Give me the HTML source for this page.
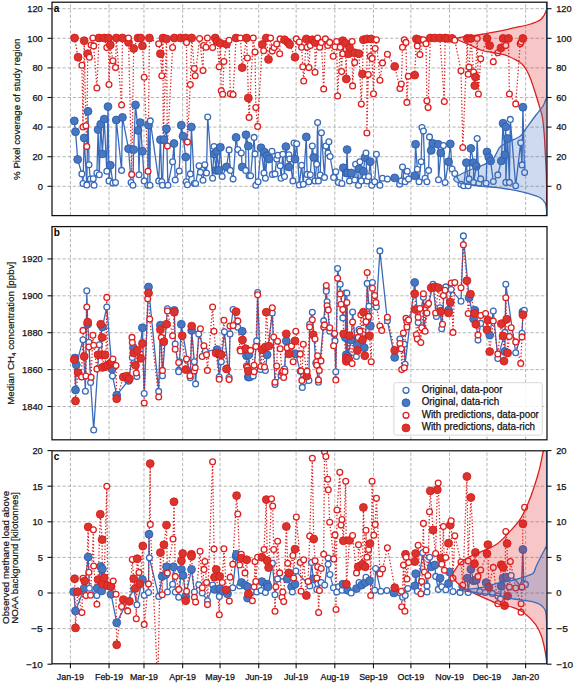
<!DOCTYPE html>
<html><head><meta charset="utf-8"><style>html,body{margin:0;padding:0;background:#fff}svg{display:block}</style></head>
<body><svg width="575" height="683" viewBox="0 0 575 683">
<style>
.g{stroke:#a9a9a9;stroke-width:0.85;stroke-dasharray:3.3 1.9;fill:none}
.fr{fill:none;stroke:#111;stroke-width:1.25}
.tk{stroke:#111;stroke-width:1.1}
.tl{font-family:"Liberation Sans",sans-serif;font-size:9.3px;fill:#111;stroke:#111;stroke-width:0.25}
.pl{font-family:"Liberation Sans",sans-serif;font-size:10px;font-weight:bold;fill:#000}
.al{font-family:"Liberation Sans",sans-serif;font-size:10px;fill:#111;stroke:#111;stroke-width:0.2}
.ml{font-family:"Liberation Sans",sans-serif;font-size:8.9px;fill:#111;stroke:#111;stroke-width:0.25}
.lg{font-family:"Liberation Sans",sans-serif;font-size:10.2px;fill:#111;stroke:#111;stroke-width:0.25}
</style>
<rect width="575" height="683" fill="#fff"/>
<line x1="70.40" y1="215.6" x2="70.40" y2="2.2" class="g"/>
<line x1="109.06" y1="215.6" x2="109.06" y2="2.2" class="g"/>
<line x1="143.98" y1="215.6" x2="143.98" y2="2.2" class="g"/>
<line x1="182.65" y1="215.6" x2="182.65" y2="2.2" class="g"/>
<line x1="220.06" y1="215.6" x2="220.06" y2="2.2" class="g"/>
<line x1="258.73" y1="215.6" x2="258.73" y2="2.2" class="g"/>
<line x1="296.14" y1="215.6" x2="296.14" y2="2.2" class="g"/>
<line x1="334.81" y1="215.6" x2="334.81" y2="2.2" class="g"/>
<line x1="373.47" y1="215.6" x2="373.47" y2="2.2" class="g"/>
<line x1="410.89" y1="215.6" x2="410.89" y2="2.2" class="g"/>
<line x1="449.55" y1="215.6" x2="449.55" y2="2.2" class="g"/>
<line x1="486.96" y1="215.6" x2="486.96" y2="2.2" class="g"/>
<line x1="525.63" y1="215.6" x2="525.63" y2="2.2" class="g"/>
<line x1="52.0" y1="186.30" x2="547.0" y2="186.30" class="g"/>
<line x1="52.0" y1="156.70" x2="547.0" y2="156.70" class="g"/>
<line x1="52.0" y1="127.10" x2="547.0" y2="127.10" class="g"/>
<line x1="52.0" y1="97.50" x2="547.0" y2="97.50" class="g"/>
<line x1="52.0" y1="67.90" x2="547.0" y2="67.90" class="g"/>
<line x1="52.0" y1="38.30" x2="547.0" y2="38.30" class="g"/>
<line x1="52.0" y1="8.70" x2="547.0" y2="8.70" class="g"/>
<line x1="70.40" y1="439.8" x2="70.40" y2="226.6" class="g"/>
<line x1="109.06" y1="439.8" x2="109.06" y2="226.6" class="g"/>
<line x1="143.98" y1="439.8" x2="143.98" y2="226.6" class="g"/>
<line x1="182.65" y1="439.8" x2="182.65" y2="226.6" class="g"/>
<line x1="220.06" y1="439.8" x2="220.06" y2="226.6" class="g"/>
<line x1="258.73" y1="439.8" x2="258.73" y2="226.6" class="g"/>
<line x1="296.14" y1="439.8" x2="296.14" y2="226.6" class="g"/>
<line x1="334.81" y1="439.8" x2="334.81" y2="226.6" class="g"/>
<line x1="373.47" y1="439.8" x2="373.47" y2="226.6" class="g"/>
<line x1="410.89" y1="439.8" x2="410.89" y2="226.6" class="g"/>
<line x1="449.55" y1="439.8" x2="449.55" y2="226.6" class="g"/>
<line x1="486.96" y1="439.8" x2="486.96" y2="226.6" class="g"/>
<line x1="525.63" y1="439.8" x2="525.63" y2="226.6" class="g"/>
<line x1="52.0" y1="406.50" x2="547.0" y2="406.50" class="g"/>
<line x1="52.0" y1="369.60" x2="547.0" y2="369.60" class="g"/>
<line x1="52.0" y1="332.70" x2="547.0" y2="332.70" class="g"/>
<line x1="52.0" y1="295.80" x2="547.0" y2="295.80" class="g"/>
<line x1="52.0" y1="258.90" x2="547.0" y2="258.90" class="g"/>
<line x1="70.40" y1="663.8" x2="70.40" y2="450.8" class="g"/>
<line x1="109.06" y1="663.8" x2="109.06" y2="450.8" class="g"/>
<line x1="143.98" y1="663.8" x2="143.98" y2="450.8" class="g"/>
<line x1="182.65" y1="663.8" x2="182.65" y2="450.8" class="g"/>
<line x1="220.06" y1="663.8" x2="220.06" y2="450.8" class="g"/>
<line x1="258.73" y1="663.8" x2="258.73" y2="450.8" class="g"/>
<line x1="296.14" y1="663.8" x2="296.14" y2="450.8" class="g"/>
<line x1="334.81" y1="663.8" x2="334.81" y2="450.8" class="g"/>
<line x1="373.47" y1="663.8" x2="373.47" y2="450.8" class="g"/>
<line x1="410.89" y1="663.8" x2="410.89" y2="450.8" class="g"/>
<line x1="449.55" y1="663.8" x2="449.55" y2="450.8" class="g"/>
<line x1="486.96" y1="663.8" x2="486.96" y2="450.8" class="g"/>
<line x1="525.63" y1="663.8" x2="525.63" y2="450.8" class="g"/>
<line x1="52.0" y1="628.60" x2="547.0" y2="628.60" class="g"/>
<line x1="52.0" y1="593.00" x2="547.0" y2="593.00" class="g"/>
<line x1="52.0" y1="557.40" x2="547.0" y2="557.40" class="g"/>
<line x1="52.0" y1="521.80" x2="547.0" y2="521.80" class="g"/>
<line x1="52.0" y1="486.20" x2="547.0" y2="486.20" class="g"/>
<clipPath id="ca"><rect x="52" y="2.2" width="495" height="213.4"/></clipPath>
<g clip-path="url(#ca)">
<path d="M74.6,38.0 L78.1,57.2 L81.9,65.3 L83.0,127.0 L84.2,40.7 L85.9,125.7 L86.8,146.6 L87.7,53.7 L89.4,57.2 L91.1,45.0 L92.9,38.0 L93.7,45.9 L96.9,88.0 L99.0,38.0 L104.2,38.0 L106.8,47.6 L108.5,38.0 L109.0,84.5 L110.3,45.0 L112.9,60.7 L115.5,67.6 L116.3,38.0 L121.6,105.0 L122.4,38.0 L128.5,42.4 L128.5,38.0 L131.7,174.4 L133.7,48.5 L138.0,38.0 L140.7,38.0 L142.4,45.9 L144.2,77.2 L148.0,171.3 L149.4,38.0 L158.7,43.8 L160.4,53.7 L161.8,75.8 L163.0,38.0 L163.2,139.6 L166.5,38.9 L167.4,146.1 L172.6,47.6 L174.3,38.0 L180.4,38.0 L185.7,38.0 L186.5,42.4 L187.4,142.1 L190.3,84.5 L191.7,38.0 L194.3,68.5 L195.2,75.8 L199.6,38.6 L203.0,70.6 L203.6,45.5 L206.0,47.3 L207.4,38.0 L212.6,47.6 L215.2,38.0 L217.0,41.5 L219.2,66.7 L220.4,43.3 L221.3,90.7 L222.7,94.2 L223.9,61.5 L226.5,44.1 L229.1,40.3 L230.3,93.7 L233.1,94.6 L236.1,38.0 L240.4,38.0 L242.2,67.6 L246.5,38.0 L247.4,58.0 L248.3,98.0 L249.1,117.4 L253.2,38.0 L255.0,52.0 L255.8,107.6 L257.6,126.4 L262.3,44.5 L263.7,50.7 L266.3,38.0 L268.5,59.4 L270.6,38.0 L272.3,51.1 L274.1,47.6 L276.7,44.1 L279.7,53.7 L280.2,38.9 L284.5,39.8 L288.0,42.4 L289.7,44.5 L295.0,57.2 L296.3,38.9 L299.3,42.0 L301.6,47.3 L302.8,66.7 L303.7,81.0 L306.3,38.9 L307.1,47.3 L308.9,67.6 L310.3,45.5 L312.3,39.8 L315.0,42.4 L315.0,72.3 L317.6,38.0 L319.7,47.3 L321.4,42.4 L323.7,89.0 L325.4,38.9 L327.7,45.5 L329.7,42.4 L333.2,56.3 L335.0,46.7 L336.7,41.5 L337.6,96.0 L340.2,47.3 L341.6,71.6 L342.8,40.7 L342.8,53.7 L345.4,43.3 L346.3,78.9 L346.3,49.3 L348.6,53.7 L349.5,47.6 L352.1,41.5 L352.6,85.9 L354.7,52.8 L354.7,62.4 L359.0,53.7 L361.3,104.1 L362.5,74.0 L363.4,39.8 L366.9,38.9 L366.9,133.0 L368.3,74.6 L370.3,56.3 L371.2,38.9 L372.1,58.4 L373.5,93.7 L375.2,48.5 L376.4,39.8 L379.9,80.3 L382.5,62.9 L387.4,54.2 L394.7,66.4 L399.9,88.5 L401.3,84.1 L402.5,47.3 L404.3,39.8 L406.0,42.4 L406.9,102.4 L408.3,76.3 L414.7,75.1 L416.4,38.9 L417.3,45.9 L419.0,39.8 L419.9,54.6 L423.4,39.8 L426.0,43.8 L426.9,100.7 L428.1,107.6 L430.3,38.0 L434.7,38.0 L439.9,38.0 L444.3,101.5 L445.1,38.0 L447.6,38.4 L452.1,38.4 L454.8,40.2 L461.0,70.7 L462.8,147.5 L467.3,38.4 L468.2,74.3 L469.1,67.1 L470.9,38.4 L473.6,72.0 L474.8,85.6 L475.4,77.0 L477.2,38.4 L478.4,94.0 L480.7,58.7 L487.0,38.4 L489.7,45.6 L493.3,61.7 L497.8,52.8 L501.0,47.9 L503.1,38.4 L505.8,45.6 L508.5,38.4 L509.4,94.0 L515.7,103.9 L520.2,43.8 L521.1,42.0 L522.9,38.4" fill="none" stroke="#df1f1f" stroke-width="1.3" stroke-dasharray="1.3 2"/>
<path d="M74.3,120.9 L75.5,131.8 L77.7,159.5 L81.9,173.9 L83.0,183.5 L84.2,137.9 L86.8,184.9 L88.0,111.3 L89.0,164.7 L90.3,179.1 L93.2,178.8 L94.1,185.2 L96.9,173.0 L98.1,129.6 L99.3,174.8 L100.7,124.3 L102.4,153.9 L104.2,119.1 L106.8,171.3 L108.0,106.6 L109.0,180.9 L110.3,165.2 L112.9,183.1 L115.5,182.6 L116.3,120.0 L121.6,170.4 L122.4,117.4 L128.5,148.7 L131.1,182.6 L132.9,185.2 L133.7,149.6 L135.5,104.9 L138.1,130.4 L139.0,174.8 L140.3,122.6 L142.4,151.3 L144.2,180.9 L147.7,185.2 L148.5,125.2 L150.0,185.2 L150.3,120.9 L158.7,180.9 L160.4,139.7 L161.8,181.7 L162.5,185.2 L163.9,139.7 L166.5,128.7 L167.9,185.2 L172.6,161.7 L174.0,143.5 L175.2,180.0 L179.2,171.0 L181.3,125.2 L183.0,136.2 L185.7,157.0 L186.2,181.7 L187.4,184.7 L190.3,173.9 L191.4,127.0 L194.3,183.5 L195.6,183.5 L199.0,165.7 L200.4,172.2 L203.0,180.3 L204.8,164.7 L206.5,173.0 L207.7,117.0 L212.6,178.3 L214.0,146.6 L214.3,153.9 L216.1,170.4 L217.0,151.3 L218.7,170.4 L220.4,147.3 L222.2,176.5 L226.5,167.0 L229.1,149.9 L230.3,170.4 L233.1,179.1 L236.1,137.4 L237.8,149.6 L241.3,153.0 L242.2,167.0 L245.7,170.4 L246.0,134.8 L248.3,146.0 L249.1,175.7 L250.6,175.7 L254.1,137.4 L255.0,153.9 L255.8,185.2 L258.1,181.7 L261.0,147.8 L264.0,173.0 L264.5,152.2 L265.4,178.3 L267.1,155.7 L268.9,159.1 L272.0,151.3 L272.3,174.4 L275.0,173.9 L276.7,159.1 L277.9,155.3 L280.2,165.7 L281.0,178.3 L282.8,154.3 L284.5,176.5 L285.9,146.6 L288.9,167.0 L288.9,154.8 L289.7,159.1 L292.9,180.9 L294.1,143.1 L295.0,159.1 L296.7,143.8 L299.3,184.9 L301.6,165.2 L303.3,184.3 L306.3,136.9 L307.1,174.4 L308.9,181.7 L310.3,174.8 L312.3,146.1 L313.7,157.4 L315.0,180.9 L316.7,164.3 L317.6,122.6 L318.4,180.9 L320.2,175.1 L321.4,132.7 L324.5,177.4 L325.9,146.1 L328.0,153.0 L328.9,141.7 L330.1,156.5 L333.6,177.4 L335.8,171.7 L338.4,182.6 L341.9,183.5 L343.3,167.8 L346.3,173.0 L347.1,149.6 L347.7,173.0 L349.5,180.9 L351.2,173.0 L354.7,180.0 L355.6,164.3 L358.5,185.2 L359.0,168.7 L359.9,161.7 L361.3,180.9 L363.4,171.3 L365.1,157.4 L366.0,153.0 L366.9,180.9 L368.6,176.5 L370.3,161.7 L371.7,185.2 L374.7,181.7 L376.4,154.3 L379.9,185.2 L382.5,178.3 L387.4,179.1 L394.7,177.9 L399.6,184.3 L401.3,180.9 L402.5,167.0 L405.1,181.7 L406.0,175.7 L407.2,171.3 L408.6,179.1 L414.7,175.7 L415.6,144.3 L417.3,169.2 L419.0,181.7 L421.1,161.7 L422.0,127.5 L423.4,131.0 L425.1,178.3 L426.9,181.7 L428.6,170.4 L429.5,136.9 L431.2,150.4 L433.0,143.5 L438.2,144.3 L438.5,179.7 L440.8,153.0 L443.4,145.6 L445.1,182.6 L448.5,161.8 L450.3,143.9 L452.1,169.0 L454.8,173.5 L461.0,184.2 L463.7,185.7 L466.4,162.7 L468.2,185.7 L469.1,178.9 L470.9,148.4 L473.6,162.7 L473.6,182.4 L476.3,166.3 L477.2,138.5 L478.9,183.3 L480.7,178.9 L486.1,183.3 L487.0,152.0 L488.8,157.3 L490.6,160.9 L493.3,181.5 L497.8,174.9 L501.3,160.9 L503.1,123.3 L504.9,154.7 L505.8,126.9 L505.8,182.4 L507.6,138.5 L509.4,182.4 L510.3,119.4 L515.7,185.7 L520.7,142.7 L522.0,164.9 L522.9,107.2 L524.6,172.6" fill="none" stroke="#3a6bbb" stroke-width="1.3" stroke-linejoin="round"/>
<circle cx="74.6" cy="38.0" r="3.95" fill="#d8352e" stroke="#de1a1a" stroke-width="0.9"/>
<circle cx="78.1" cy="57.2" r="3.95" fill="#d8352e" stroke="#de1a1a" stroke-width="0.9"/>
<circle cx="81.9" cy="65.3" r="2.9" fill="#fff" stroke="#df1f1f" stroke-width="1.3"/>
<circle cx="83.0" cy="127.0" r="2.9" fill="#fff" stroke="#df1f1f" stroke-width="1.3"/>
<circle cx="84.2" cy="40.7" r="3.95" fill="#d8352e" stroke="#de1a1a" stroke-width="0.9"/>
<circle cx="85.9" cy="125.7" r="2.9" fill="#fff" stroke="#df1f1f" stroke-width="1.3"/>
<circle cx="86.8" cy="146.6" r="2.9" fill="#fff" stroke="#df1f1f" stroke-width="1.3"/>
<circle cx="87.7" cy="53.7" r="3.95" fill="#d8352e" stroke="#de1a1a" stroke-width="0.9"/>
<circle cx="89.4" cy="57.2" r="2.9" fill="#fff" stroke="#df1f1f" stroke-width="1.3"/>
<circle cx="91.1" cy="45.0" r="2.9" fill="#fff" stroke="#df1f1f" stroke-width="1.3"/>
<circle cx="92.9" cy="38.0" r="2.9" fill="#fff" stroke="#df1f1f" stroke-width="1.3"/>
<circle cx="93.7" cy="45.9" r="2.9" fill="#fff" stroke="#df1f1f" stroke-width="1.3"/>
<circle cx="96.9" cy="88.0" r="2.9" fill="#fff" stroke="#df1f1f" stroke-width="1.3"/>
<circle cx="99.0" cy="38.0" r="3.95" fill="#d8352e" stroke="#de1a1a" stroke-width="0.9"/>
<circle cx="104.2" cy="38.0" r="3.95" fill="#d8352e" stroke="#de1a1a" stroke-width="0.9"/>
<circle cx="106.8" cy="47.6" r="2.9" fill="#fff" stroke="#df1f1f" stroke-width="1.3"/>
<circle cx="108.5" cy="38.0" r="3.95" fill="#d8352e" stroke="#de1a1a" stroke-width="0.9"/>
<circle cx="109.0" cy="84.5" r="2.9" fill="#fff" stroke="#df1f1f" stroke-width="1.3"/>
<circle cx="110.3" cy="45.0" r="3.95" fill="#d8352e" stroke="#de1a1a" stroke-width="0.9"/>
<circle cx="112.9" cy="60.7" r="2.9" fill="#fff" stroke="#df1f1f" stroke-width="1.3"/>
<circle cx="115.5" cy="67.6" r="2.9" fill="#fff" stroke="#df1f1f" stroke-width="1.3"/>
<circle cx="116.3" cy="38.0" r="3.95" fill="#d8352e" stroke="#de1a1a" stroke-width="0.9"/>
<circle cx="121.6" cy="105.0" r="2.9" fill="#fff" stroke="#df1f1f" stroke-width="1.3"/>
<circle cx="122.4" cy="38.0" r="3.95" fill="#d8352e" stroke="#de1a1a" stroke-width="0.9"/>
<circle cx="128.5" cy="42.4" r="3.95" fill="#d8352e" stroke="#de1a1a" stroke-width="0.9"/>
<circle cx="128.5" cy="38.0" r="2.9" fill="#fff" stroke="#df1f1f" stroke-width="1.3"/>
<circle cx="131.7" cy="174.4" r="2.9" fill="#fff" stroke="#df1f1f" stroke-width="1.3"/>
<circle cx="133.7" cy="48.5" r="3.95" fill="#d8352e" stroke="#de1a1a" stroke-width="0.9"/>
<circle cx="138.0" cy="38.0" r="3.95" fill="#d8352e" stroke="#de1a1a" stroke-width="0.9"/>
<circle cx="140.7" cy="38.0" r="3.95" fill="#d8352e" stroke="#de1a1a" stroke-width="0.9"/>
<circle cx="142.4" cy="45.9" r="3.95" fill="#d8352e" stroke="#de1a1a" stroke-width="0.9"/>
<circle cx="144.2" cy="77.2" r="2.9" fill="#fff" stroke="#df1f1f" stroke-width="1.3"/>
<circle cx="148.0" cy="171.3" r="2.9" fill="#fff" stroke="#df1f1f" stroke-width="1.3"/>
<circle cx="149.4" cy="38.0" r="3.95" fill="#d8352e" stroke="#de1a1a" stroke-width="0.9"/>
<circle cx="158.7" cy="43.8" r="2.9" fill="#fff" stroke="#df1f1f" stroke-width="1.3"/>
<circle cx="160.4" cy="53.7" r="3.95" fill="#d8352e" stroke="#de1a1a" stroke-width="0.9"/>
<circle cx="161.8" cy="75.8" r="2.9" fill="#fff" stroke="#df1f1f" stroke-width="1.3"/>
<circle cx="163.0" cy="38.0" r="3.95" fill="#d8352e" stroke="#de1a1a" stroke-width="0.9"/>
<circle cx="163.2" cy="139.6" r="2.9" fill="#fff" stroke="#df1f1f" stroke-width="1.3"/>
<circle cx="166.5" cy="38.9" r="3.95" fill="#d8352e" stroke="#de1a1a" stroke-width="0.9"/>
<circle cx="167.4" cy="146.1" r="2.9" fill="#fff" stroke="#df1f1f" stroke-width="1.3"/>
<circle cx="172.6" cy="47.6" r="2.9" fill="#fff" stroke="#df1f1f" stroke-width="1.3"/>
<circle cx="174.3" cy="38.0" r="3.95" fill="#d8352e" stroke="#de1a1a" stroke-width="0.9"/>
<circle cx="180.4" cy="38.0" r="3.95" fill="#d8352e" stroke="#de1a1a" stroke-width="0.9"/>
<circle cx="185.7" cy="38.0" r="3.95" fill="#d8352e" stroke="#de1a1a" stroke-width="0.9"/>
<circle cx="186.5" cy="42.4" r="2.9" fill="#fff" stroke="#df1f1f" stroke-width="1.3"/>
<circle cx="187.4" cy="142.1" r="2.9" fill="#fff" stroke="#df1f1f" stroke-width="1.3"/>
<circle cx="190.3" cy="84.5" r="2.9" fill="#fff" stroke="#df1f1f" stroke-width="1.3"/>
<circle cx="191.7" cy="38.0" r="3.95" fill="#d8352e" stroke="#de1a1a" stroke-width="0.9"/>
<circle cx="194.3" cy="68.5" r="2.9" fill="#fff" stroke="#df1f1f" stroke-width="1.3"/>
<circle cx="195.2" cy="75.8" r="2.9" fill="#fff" stroke="#df1f1f" stroke-width="1.3"/>
<circle cx="199.6" cy="38.6" r="2.9" fill="#fff" stroke="#df1f1f" stroke-width="1.3"/>
<circle cx="203.0" cy="70.6" r="2.9" fill="#fff" stroke="#df1f1f" stroke-width="1.3"/>
<circle cx="203.6" cy="45.5" r="2.9" fill="#fff" stroke="#df1f1f" stroke-width="1.3"/>
<circle cx="206.0" cy="47.3" r="2.9" fill="#fff" stroke="#df1f1f" stroke-width="1.3"/>
<circle cx="207.4" cy="38.0" r="2.9" fill="#fff" stroke="#df1f1f" stroke-width="1.3"/>
<circle cx="212.6" cy="47.6" r="2.9" fill="#fff" stroke="#df1f1f" stroke-width="1.3"/>
<circle cx="215.2" cy="38.0" r="3.95" fill="#d8352e" stroke="#de1a1a" stroke-width="0.9"/>
<circle cx="217.0" cy="41.5" r="3.95" fill="#d8352e" stroke="#de1a1a" stroke-width="0.9"/>
<circle cx="219.2" cy="66.7" r="2.9" fill="#fff" stroke="#df1f1f" stroke-width="1.3"/>
<circle cx="220.4" cy="43.3" r="3.95" fill="#d8352e" stroke="#de1a1a" stroke-width="0.9"/>
<circle cx="221.3" cy="90.7" r="2.9" fill="#fff" stroke="#df1f1f" stroke-width="1.3"/>
<circle cx="222.7" cy="94.2" r="2.9" fill="#fff" stroke="#df1f1f" stroke-width="1.3"/>
<circle cx="223.9" cy="61.5" r="2.9" fill="#fff" stroke="#df1f1f" stroke-width="1.3"/>
<circle cx="226.5" cy="44.1" r="3.95" fill="#d8352e" stroke="#de1a1a" stroke-width="0.9"/>
<circle cx="229.1" cy="40.3" r="2.9" fill="#fff" stroke="#df1f1f" stroke-width="1.3"/>
<circle cx="230.3" cy="93.7" r="2.9" fill="#fff" stroke="#df1f1f" stroke-width="1.3"/>
<circle cx="233.1" cy="94.6" r="2.9" fill="#fff" stroke="#df1f1f" stroke-width="1.3"/>
<circle cx="236.1" cy="38.0" r="3.95" fill="#d8352e" stroke="#de1a1a" stroke-width="0.9"/>
<circle cx="240.4" cy="38.0" r="2.9" fill="#fff" stroke="#df1f1f" stroke-width="1.3"/>
<circle cx="242.2" cy="67.6" r="3.95" fill="#d8352e" stroke="#de1a1a" stroke-width="0.9"/>
<circle cx="246.5" cy="38.0" r="3.95" fill="#d8352e" stroke="#de1a1a" stroke-width="0.9"/>
<circle cx="247.4" cy="58.0" r="2.9" fill="#fff" stroke="#df1f1f" stroke-width="1.3"/>
<circle cx="248.3" cy="98.0" r="3.95" fill="#d8352e" stroke="#de1a1a" stroke-width="0.9"/>
<circle cx="249.1" cy="117.4" r="2.9" fill="#fff" stroke="#df1f1f" stroke-width="1.3"/>
<circle cx="253.2" cy="38.0" r="2.9" fill="#fff" stroke="#df1f1f" stroke-width="1.3"/>
<circle cx="255.0" cy="52.0" r="2.9" fill="#fff" stroke="#df1f1f" stroke-width="1.3"/>
<circle cx="255.8" cy="107.6" r="2.9" fill="#fff" stroke="#df1f1f" stroke-width="1.3"/>
<circle cx="257.6" cy="126.4" r="2.9" fill="#fff" stroke="#df1f1f" stroke-width="1.3"/>
<circle cx="262.3" cy="44.5" r="3.95" fill="#d8352e" stroke="#de1a1a" stroke-width="0.9"/>
<circle cx="263.7" cy="50.7" r="2.9" fill="#fff" stroke="#df1f1f" stroke-width="1.3"/>
<circle cx="266.3" cy="38.0" r="3.95" fill="#d8352e" stroke="#de1a1a" stroke-width="0.9"/>
<circle cx="268.5" cy="59.4" r="3.95" fill="#d8352e" stroke="#de1a1a" stroke-width="0.9"/>
<circle cx="270.6" cy="38.0" r="2.9" fill="#fff" stroke="#df1f1f" stroke-width="1.3"/>
<circle cx="272.3" cy="51.1" r="2.9" fill="#fff" stroke="#df1f1f" stroke-width="1.3"/>
<circle cx="274.1" cy="47.6" r="2.9" fill="#fff" stroke="#df1f1f" stroke-width="1.3"/>
<circle cx="276.7" cy="44.1" r="2.9" fill="#fff" stroke="#df1f1f" stroke-width="1.3"/>
<circle cx="279.7" cy="53.7" r="2.9" fill="#fff" stroke="#df1f1f" stroke-width="1.3"/>
<circle cx="280.2" cy="38.9" r="2.9" fill="#fff" stroke="#df1f1f" stroke-width="1.3"/>
<circle cx="284.5" cy="39.8" r="3.95" fill="#d8352e" stroke="#de1a1a" stroke-width="0.9"/>
<circle cx="288.0" cy="42.4" r="3.95" fill="#d8352e" stroke="#de1a1a" stroke-width="0.9"/>
<circle cx="289.7" cy="44.5" r="3.95" fill="#d8352e" stroke="#de1a1a" stroke-width="0.9"/>
<circle cx="295.0" cy="57.2" r="3.95" fill="#d8352e" stroke="#de1a1a" stroke-width="0.9"/>
<circle cx="296.3" cy="38.9" r="2.9" fill="#fff" stroke="#df1f1f" stroke-width="1.3"/>
<circle cx="299.3" cy="42.0" r="2.9" fill="#fff" stroke="#df1f1f" stroke-width="1.3"/>
<circle cx="301.6" cy="47.3" r="2.9" fill="#fff" stroke="#df1f1f" stroke-width="1.3"/>
<circle cx="302.8" cy="66.7" r="2.9" fill="#fff" stroke="#df1f1f" stroke-width="1.3"/>
<circle cx="303.7" cy="81.0" r="2.9" fill="#fff" stroke="#df1f1f" stroke-width="1.3"/>
<circle cx="306.3" cy="38.9" r="3.95" fill="#d8352e" stroke="#de1a1a" stroke-width="0.9"/>
<circle cx="307.1" cy="47.3" r="2.9" fill="#fff" stroke="#df1f1f" stroke-width="1.3"/>
<circle cx="308.9" cy="67.6" r="2.9" fill="#fff" stroke="#df1f1f" stroke-width="1.3"/>
<circle cx="310.3" cy="45.5" r="2.9" fill="#fff" stroke="#df1f1f" stroke-width="1.3"/>
<circle cx="312.3" cy="39.8" r="3.95" fill="#d8352e" stroke="#de1a1a" stroke-width="0.9"/>
<circle cx="315.0" cy="42.4" r="3.95" fill="#d8352e" stroke="#de1a1a" stroke-width="0.9"/>
<circle cx="315.0" cy="72.3" r="2.9" fill="#fff" stroke="#df1f1f" stroke-width="1.3"/>
<circle cx="317.6" cy="38.0" r="2.9" fill="#fff" stroke="#df1f1f" stroke-width="1.3"/>
<circle cx="319.7" cy="47.3" r="2.9" fill="#fff" stroke="#df1f1f" stroke-width="1.3"/>
<circle cx="321.4" cy="42.4" r="2.9" fill="#fff" stroke="#df1f1f" stroke-width="1.3"/>
<circle cx="323.7" cy="89.0" r="2.9" fill="#fff" stroke="#df1f1f" stroke-width="1.3"/>
<circle cx="325.4" cy="38.9" r="2.9" fill="#fff" stroke="#df1f1f" stroke-width="1.3"/>
<circle cx="327.7" cy="45.5" r="2.9" fill="#fff" stroke="#df1f1f" stroke-width="1.3"/>
<circle cx="329.7" cy="42.4" r="2.9" fill="#fff" stroke="#df1f1f" stroke-width="1.3"/>
<circle cx="333.2" cy="56.3" r="2.9" fill="#fff" stroke="#df1f1f" stroke-width="1.3"/>
<circle cx="335.0" cy="46.7" r="2.9" fill="#fff" stroke="#df1f1f" stroke-width="1.3"/>
<circle cx="336.7" cy="41.5" r="2.9" fill="#fff" stroke="#df1f1f" stroke-width="1.3"/>
<circle cx="337.6" cy="96.0" r="2.9" fill="#fff" stroke="#df1f1f" stroke-width="1.3"/>
<circle cx="340.2" cy="47.3" r="2.9" fill="#fff" stroke="#df1f1f" stroke-width="1.3"/>
<circle cx="341.6" cy="71.6" r="2.9" fill="#fff" stroke="#df1f1f" stroke-width="1.3"/>
<circle cx="342.8" cy="40.7" r="3.95" fill="#d8352e" stroke="#de1a1a" stroke-width="0.9"/>
<circle cx="342.8" cy="53.7" r="2.9" fill="#fff" stroke="#df1f1f" stroke-width="1.3"/>
<circle cx="345.4" cy="43.3" r="3.95" fill="#d8352e" stroke="#de1a1a" stroke-width="0.9"/>
<circle cx="346.3" cy="78.9" r="3.95" fill="#d8352e" stroke="#de1a1a" stroke-width="0.9"/>
<circle cx="346.3" cy="49.3" r="2.9" fill="#fff" stroke="#df1f1f" stroke-width="1.3"/>
<circle cx="348.6" cy="53.7" r="3.95" fill="#d8352e" stroke="#de1a1a" stroke-width="0.9"/>
<circle cx="349.5" cy="47.6" r="3.95" fill="#d8352e" stroke="#de1a1a" stroke-width="0.9"/>
<circle cx="352.1" cy="41.5" r="2.9" fill="#fff" stroke="#df1f1f" stroke-width="1.3"/>
<circle cx="352.6" cy="85.9" r="2.9" fill="#fff" stroke="#df1f1f" stroke-width="1.3"/>
<circle cx="354.7" cy="52.8" r="3.95" fill="#d8352e" stroke="#de1a1a" stroke-width="0.9"/>
<circle cx="354.7" cy="62.4" r="2.9" fill="#fff" stroke="#df1f1f" stroke-width="1.3"/>
<circle cx="359.0" cy="53.7" r="3.95" fill="#d8352e" stroke="#de1a1a" stroke-width="0.9"/>
<circle cx="361.3" cy="104.1" r="2.9" fill="#fff" stroke="#df1f1f" stroke-width="1.3"/>
<circle cx="362.5" cy="74.0" r="3.95" fill="#d8352e" stroke="#de1a1a" stroke-width="0.9"/>
<circle cx="363.4" cy="39.8" r="3.95" fill="#d8352e" stroke="#de1a1a" stroke-width="0.9"/>
<circle cx="366.9" cy="38.9" r="3.95" fill="#d8352e" stroke="#de1a1a" stroke-width="0.9"/>
<circle cx="366.9" cy="133.0" r="2.9" fill="#fff" stroke="#df1f1f" stroke-width="1.3"/>
<circle cx="368.3" cy="74.6" r="2.9" fill="#fff" stroke="#df1f1f" stroke-width="1.3"/>
<circle cx="370.3" cy="56.3" r="2.9" fill="#fff" stroke="#df1f1f" stroke-width="1.3"/>
<circle cx="371.2" cy="38.9" r="3.95" fill="#d8352e" stroke="#de1a1a" stroke-width="0.9"/>
<circle cx="372.1" cy="58.4" r="2.9" fill="#fff" stroke="#df1f1f" stroke-width="1.3"/>
<circle cx="373.5" cy="93.7" r="2.9" fill="#fff" stroke="#df1f1f" stroke-width="1.3"/>
<circle cx="375.2" cy="48.5" r="2.9" fill="#fff" stroke="#df1f1f" stroke-width="1.3"/>
<circle cx="376.4" cy="39.8" r="2.9" fill="#fff" stroke="#df1f1f" stroke-width="1.3"/>
<circle cx="379.9" cy="80.3" r="2.9" fill="#fff" stroke="#df1f1f" stroke-width="1.3"/>
<circle cx="382.5" cy="62.9" r="2.9" fill="#fff" stroke="#df1f1f" stroke-width="1.3"/>
<circle cx="387.4" cy="54.2" r="2.9" fill="#fff" stroke="#df1f1f" stroke-width="1.3"/>
<circle cx="394.7" cy="66.4" r="3.95" fill="#d8352e" stroke="#de1a1a" stroke-width="0.9"/>
<circle cx="399.9" cy="88.5" r="2.9" fill="#fff" stroke="#df1f1f" stroke-width="1.3"/>
<circle cx="401.3" cy="84.1" r="2.9" fill="#fff" stroke="#df1f1f" stroke-width="1.3"/>
<circle cx="402.5" cy="47.3" r="2.9" fill="#fff" stroke="#df1f1f" stroke-width="1.3"/>
<circle cx="404.3" cy="39.8" r="2.9" fill="#fff" stroke="#df1f1f" stroke-width="1.3"/>
<circle cx="406.0" cy="42.4" r="2.9" fill="#fff" stroke="#df1f1f" stroke-width="1.3"/>
<circle cx="406.9" cy="102.4" r="2.9" fill="#fff" stroke="#df1f1f" stroke-width="1.3"/>
<circle cx="408.3" cy="76.3" r="2.9" fill="#fff" stroke="#df1f1f" stroke-width="1.3"/>
<circle cx="414.7" cy="75.1" r="3.95" fill="#d8352e" stroke="#de1a1a" stroke-width="0.9"/>
<circle cx="416.4" cy="38.9" r="3.95" fill="#d8352e" stroke="#de1a1a" stroke-width="0.9"/>
<circle cx="417.3" cy="45.9" r="2.9" fill="#fff" stroke="#df1f1f" stroke-width="1.3"/>
<circle cx="419.0" cy="39.8" r="3.95" fill="#d8352e" stroke="#de1a1a" stroke-width="0.9"/>
<circle cx="419.9" cy="54.6" r="2.9" fill="#fff" stroke="#df1f1f" stroke-width="1.3"/>
<circle cx="423.4" cy="39.8" r="2.9" fill="#fff" stroke="#df1f1f" stroke-width="1.3"/>
<circle cx="426.0" cy="43.8" r="2.9" fill="#fff" stroke="#df1f1f" stroke-width="1.3"/>
<circle cx="426.9" cy="100.7" r="2.9" fill="#fff" stroke="#df1f1f" stroke-width="1.3"/>
<circle cx="428.1" cy="107.6" r="2.9" fill="#fff" stroke="#df1f1f" stroke-width="1.3"/>
<circle cx="430.3" cy="38.0" r="3.95" fill="#d8352e" stroke="#de1a1a" stroke-width="0.9"/>
<circle cx="434.7" cy="38.0" r="3.95" fill="#d8352e" stroke="#de1a1a" stroke-width="0.9"/>
<circle cx="439.9" cy="38.0" r="3.95" fill="#d8352e" stroke="#de1a1a" stroke-width="0.9"/>
<circle cx="444.3" cy="101.5" r="2.9" fill="#fff" stroke="#df1f1f" stroke-width="1.3"/>
<circle cx="445.1" cy="38.0" r="3.95" fill="#d8352e" stroke="#de1a1a" stroke-width="0.9"/>
<circle cx="447.6" cy="38.4" r="3.95" fill="#d8352e" stroke="#de1a1a" stroke-width="0.9"/>
<circle cx="452.1" cy="38.4" r="3.95" fill="#d8352e" stroke="#de1a1a" stroke-width="0.9"/>
<circle cx="454.8" cy="40.2" r="2.9" fill="#fff" stroke="#df1f1f" stroke-width="1.3"/>
<circle cx="461.0" cy="70.7" r="2.9" fill="#fff" stroke="#df1f1f" stroke-width="1.3"/>
<circle cx="462.8" cy="147.5" r="2.9" fill="#fff" stroke="#df1f1f" stroke-width="1.3"/>
<circle cx="467.3" cy="38.4" r="3.95" fill="#d8352e" stroke="#de1a1a" stroke-width="0.9"/>
<circle cx="468.2" cy="74.3" r="2.9" fill="#fff" stroke="#df1f1f" stroke-width="1.3"/>
<circle cx="469.1" cy="67.1" r="2.9" fill="#fff" stroke="#df1f1f" stroke-width="1.3"/>
<circle cx="470.9" cy="38.4" r="3.95" fill="#d8352e" stroke="#de1a1a" stroke-width="0.9"/>
<circle cx="473.6" cy="72.0" r="2.9" fill="#fff" stroke="#df1f1f" stroke-width="1.3"/>
<circle cx="474.8" cy="85.6" r="3.95" fill="#d8352e" stroke="#de1a1a" stroke-width="0.9"/>
<circle cx="475.4" cy="77.0" r="3.95" fill="#d8352e" stroke="#de1a1a" stroke-width="0.9"/>
<circle cx="477.2" cy="38.4" r="2.9" fill="#fff" stroke="#df1f1f" stroke-width="1.3"/>
<circle cx="478.4" cy="94.0" r="2.9" fill="#fff" stroke="#df1f1f" stroke-width="1.3"/>
<circle cx="480.7" cy="58.7" r="2.9" fill="#fff" stroke="#df1f1f" stroke-width="1.3"/>
<circle cx="487.0" cy="38.4" r="3.95" fill="#d8352e" stroke="#de1a1a" stroke-width="0.9"/>
<circle cx="489.7" cy="45.6" r="3.95" fill="#d8352e" stroke="#de1a1a" stroke-width="0.9"/>
<circle cx="493.3" cy="61.7" r="2.9" fill="#fff" stroke="#df1f1f" stroke-width="1.3"/>
<circle cx="497.8" cy="52.8" r="2.9" fill="#fff" stroke="#df1f1f" stroke-width="1.3"/>
<circle cx="501.0" cy="47.9" r="3.95" fill="#d8352e" stroke="#de1a1a" stroke-width="0.9"/>
<circle cx="503.1" cy="38.4" r="3.95" fill="#d8352e" stroke="#de1a1a" stroke-width="0.9"/>
<circle cx="505.8" cy="45.6" r="2.9" fill="#fff" stroke="#df1f1f" stroke-width="1.3"/>
<circle cx="508.5" cy="38.4" r="3.95" fill="#d8352e" stroke="#de1a1a" stroke-width="0.9"/>
<circle cx="509.4" cy="94.0" r="2.9" fill="#fff" stroke="#df1f1f" stroke-width="1.3"/>
<circle cx="515.7" cy="103.9" r="2.9" fill="#fff" stroke="#df1f1f" stroke-width="1.3"/>
<circle cx="520.2" cy="43.8" r="2.9" fill="#fff" stroke="#df1f1f" stroke-width="1.3"/>
<circle cx="521.1" cy="42.0" r="2.9" fill="#fff" stroke="#df1f1f" stroke-width="1.3"/>
<circle cx="522.9" cy="38.4" r="3.95" fill="#d8352e" stroke="#de1a1a" stroke-width="0.9"/>
<circle cx="74.3" cy="120.9" r="3.95" fill="#4677c0" stroke="#2c5db0" stroke-width="0.9"/>
<circle cx="75.5" cy="131.8" r="3.95" fill="#4677c0" stroke="#2c5db0" stroke-width="0.9"/>
<circle cx="77.7" cy="159.5" r="3.95" fill="#4677c0" stroke="#2c5db0" stroke-width="0.9"/>
<circle cx="81.9" cy="173.9" r="2.9" fill="#fff" stroke="#3a6bbb" stroke-width="1.3"/>
<circle cx="83.0" cy="183.5" r="2.9" fill="#fff" stroke="#3a6bbb" stroke-width="1.3"/>
<circle cx="84.2" cy="137.9" r="3.95" fill="#4677c0" stroke="#2c5db0" stroke-width="0.9"/>
<circle cx="86.8" cy="184.9" r="2.9" fill="#fff" stroke="#3a6bbb" stroke-width="1.3"/>
<circle cx="88.0" cy="111.3" r="3.95" fill="#4677c0" stroke="#2c5db0" stroke-width="0.9"/>
<circle cx="89.0" cy="164.7" r="2.9" fill="#fff" stroke="#3a6bbb" stroke-width="1.3"/>
<circle cx="90.3" cy="179.1" r="2.9" fill="#fff" stroke="#3a6bbb" stroke-width="1.3"/>
<circle cx="93.2" cy="178.8" r="2.9" fill="#fff" stroke="#3a6bbb" stroke-width="1.3"/>
<circle cx="94.1" cy="185.2" r="2.9" fill="#fff" stroke="#3a6bbb" stroke-width="1.3"/>
<circle cx="96.9" cy="173.0" r="2.9" fill="#fff" stroke="#3a6bbb" stroke-width="1.3"/>
<circle cx="98.1" cy="129.6" r="3.95" fill="#4677c0" stroke="#2c5db0" stroke-width="0.9"/>
<circle cx="99.3" cy="174.8" r="2.9" fill="#fff" stroke="#3a6bbb" stroke-width="1.3"/>
<circle cx="100.7" cy="124.3" r="3.95" fill="#4677c0" stroke="#2c5db0" stroke-width="0.9"/>
<circle cx="102.4" cy="153.9" r="3.95" fill="#4677c0" stroke="#2c5db0" stroke-width="0.9"/>
<circle cx="104.2" cy="119.1" r="3.95" fill="#4677c0" stroke="#2c5db0" stroke-width="0.9"/>
<circle cx="106.8" cy="171.3" r="2.9" fill="#fff" stroke="#3a6bbb" stroke-width="1.3"/>
<circle cx="108.0" cy="106.6" r="3.95" fill="#4677c0" stroke="#2c5db0" stroke-width="0.9"/>
<circle cx="109.0" cy="180.9" r="2.9" fill="#fff" stroke="#3a6bbb" stroke-width="1.3"/>
<circle cx="110.3" cy="165.2" r="3.95" fill="#4677c0" stroke="#2c5db0" stroke-width="0.9"/>
<circle cx="112.9" cy="183.1" r="2.9" fill="#fff" stroke="#3a6bbb" stroke-width="1.3"/>
<circle cx="115.5" cy="182.6" r="2.9" fill="#fff" stroke="#3a6bbb" stroke-width="1.3"/>
<circle cx="116.3" cy="120.0" r="3.95" fill="#4677c0" stroke="#2c5db0" stroke-width="0.9"/>
<circle cx="121.6" cy="170.4" r="2.9" fill="#fff" stroke="#3a6bbb" stroke-width="1.3"/>
<circle cx="122.4" cy="117.4" r="3.95" fill="#4677c0" stroke="#2c5db0" stroke-width="0.9"/>
<circle cx="128.5" cy="148.7" r="3.95" fill="#4677c0" stroke="#2c5db0" stroke-width="0.9"/>
<circle cx="131.1" cy="182.6" r="2.9" fill="#fff" stroke="#3a6bbb" stroke-width="1.3"/>
<circle cx="132.9" cy="185.2" r="2.9" fill="#fff" stroke="#3a6bbb" stroke-width="1.3"/>
<circle cx="133.7" cy="149.6" r="3.95" fill="#4677c0" stroke="#2c5db0" stroke-width="0.9"/>
<circle cx="135.5" cy="104.9" r="3.95" fill="#4677c0" stroke="#2c5db0" stroke-width="0.9"/>
<circle cx="138.1" cy="130.4" r="3.95" fill="#4677c0" stroke="#2c5db0" stroke-width="0.9"/>
<circle cx="139.0" cy="174.8" r="2.9" fill="#fff" stroke="#3a6bbb" stroke-width="1.3"/>
<circle cx="140.3" cy="122.6" r="3.95" fill="#4677c0" stroke="#2c5db0" stroke-width="0.9"/>
<circle cx="142.4" cy="151.3" r="3.95" fill="#4677c0" stroke="#2c5db0" stroke-width="0.9"/>
<circle cx="144.2" cy="180.9" r="2.9" fill="#fff" stroke="#3a6bbb" stroke-width="1.3"/>
<circle cx="147.7" cy="185.2" r="2.9" fill="#fff" stroke="#3a6bbb" stroke-width="1.3"/>
<circle cx="148.5" cy="125.2" r="3.95" fill="#4677c0" stroke="#2c5db0" stroke-width="0.9"/>
<circle cx="150.0" cy="185.2" r="2.9" fill="#fff" stroke="#3a6bbb" stroke-width="1.3"/>
<circle cx="150.3" cy="120.9" r="2.9" fill="#fff" stroke="#3a6bbb" stroke-width="1.3"/>
<circle cx="158.7" cy="180.9" r="2.9" fill="#fff" stroke="#3a6bbb" stroke-width="1.3"/>
<circle cx="160.4" cy="139.7" r="3.95" fill="#4677c0" stroke="#2c5db0" stroke-width="0.9"/>
<circle cx="161.8" cy="181.7" r="2.9" fill="#fff" stroke="#3a6bbb" stroke-width="1.3"/>
<circle cx="162.5" cy="185.2" r="2.9" fill="#fff" stroke="#3a6bbb" stroke-width="1.3"/>
<circle cx="163.9" cy="139.7" r="3.95" fill="#4677c0" stroke="#2c5db0" stroke-width="0.9"/>
<circle cx="166.5" cy="128.7" r="3.95" fill="#4677c0" stroke="#2c5db0" stroke-width="0.9"/>
<circle cx="167.9" cy="185.2" r="2.9" fill="#fff" stroke="#3a6bbb" stroke-width="1.3"/>
<circle cx="172.6" cy="161.7" r="2.9" fill="#fff" stroke="#3a6bbb" stroke-width="1.3"/>
<circle cx="174.0" cy="143.5" r="3.95" fill="#4677c0" stroke="#2c5db0" stroke-width="0.9"/>
<circle cx="175.2" cy="180.0" r="2.9" fill="#fff" stroke="#3a6bbb" stroke-width="1.3"/>
<circle cx="179.2" cy="171.0" r="2.9" fill="#fff" stroke="#3a6bbb" stroke-width="1.3"/>
<circle cx="181.3" cy="125.2" r="3.95" fill="#4677c0" stroke="#2c5db0" stroke-width="0.9"/>
<circle cx="183.0" cy="136.2" r="3.95" fill="#4677c0" stroke="#2c5db0" stroke-width="0.9"/>
<circle cx="185.7" cy="157.0" r="3.95" fill="#4677c0" stroke="#2c5db0" stroke-width="0.9"/>
<circle cx="186.2" cy="181.7" r="2.9" fill="#fff" stroke="#3a6bbb" stroke-width="1.3"/>
<circle cx="187.4" cy="184.7" r="2.9" fill="#fff" stroke="#3a6bbb" stroke-width="1.3"/>
<circle cx="190.3" cy="173.9" r="2.9" fill="#fff" stroke="#3a6bbb" stroke-width="1.3"/>
<circle cx="191.4" cy="127.0" r="3.95" fill="#4677c0" stroke="#2c5db0" stroke-width="0.9"/>
<circle cx="194.3" cy="183.5" r="2.9" fill="#fff" stroke="#3a6bbb" stroke-width="1.3"/>
<circle cx="195.6" cy="183.5" r="2.9" fill="#fff" stroke="#3a6bbb" stroke-width="1.3"/>
<circle cx="199.0" cy="165.7" r="2.9" fill="#fff" stroke="#3a6bbb" stroke-width="1.3"/>
<circle cx="200.4" cy="172.2" r="2.9" fill="#fff" stroke="#3a6bbb" stroke-width="1.3"/>
<circle cx="203.0" cy="180.3" r="2.9" fill="#fff" stroke="#3a6bbb" stroke-width="1.3"/>
<circle cx="204.8" cy="164.7" r="2.9" fill="#fff" stroke="#3a6bbb" stroke-width="1.3"/>
<circle cx="206.5" cy="173.0" r="2.9" fill="#fff" stroke="#3a6bbb" stroke-width="1.3"/>
<circle cx="207.7" cy="117.0" r="2.9" fill="#fff" stroke="#3a6bbb" stroke-width="1.3"/>
<circle cx="212.6" cy="178.3" r="2.9" fill="#fff" stroke="#3a6bbb" stroke-width="1.3"/>
<circle cx="214.0" cy="146.6" r="2.9" fill="#fff" stroke="#3a6bbb" stroke-width="1.3"/>
<circle cx="214.3" cy="153.9" r="3.95" fill="#4677c0" stroke="#2c5db0" stroke-width="0.9"/>
<circle cx="216.1" cy="170.4" r="3.95" fill="#4677c0" stroke="#2c5db0" stroke-width="0.9"/>
<circle cx="217.0" cy="151.3" r="3.95" fill="#4677c0" stroke="#2c5db0" stroke-width="0.9"/>
<circle cx="218.7" cy="170.4" r="3.95" fill="#4677c0" stroke="#2c5db0" stroke-width="0.9"/>
<circle cx="220.4" cy="147.3" r="3.95" fill="#4677c0" stroke="#2c5db0" stroke-width="0.9"/>
<circle cx="222.2" cy="176.5" r="2.9" fill="#fff" stroke="#3a6bbb" stroke-width="1.3"/>
<circle cx="226.5" cy="167.0" r="3.95" fill="#4677c0" stroke="#2c5db0" stroke-width="0.9"/>
<circle cx="229.1" cy="149.9" r="2.9" fill="#fff" stroke="#3a6bbb" stroke-width="1.3"/>
<circle cx="230.3" cy="170.4" r="2.9" fill="#fff" stroke="#3a6bbb" stroke-width="1.3"/>
<circle cx="233.1" cy="179.1" r="2.9" fill="#fff" stroke="#3a6bbb" stroke-width="1.3"/>
<circle cx="236.1" cy="137.4" r="3.95" fill="#4677c0" stroke="#2c5db0" stroke-width="0.9"/>
<circle cx="237.8" cy="149.6" r="2.9" fill="#fff" stroke="#3a6bbb" stroke-width="1.3"/>
<circle cx="241.3" cy="153.0" r="2.9" fill="#fff" stroke="#3a6bbb" stroke-width="1.3"/>
<circle cx="242.2" cy="167.0" r="3.95" fill="#4677c0" stroke="#2c5db0" stroke-width="0.9"/>
<circle cx="245.7" cy="170.4" r="2.9" fill="#fff" stroke="#3a6bbb" stroke-width="1.3"/>
<circle cx="246.0" cy="134.8" r="3.95" fill="#4677c0" stroke="#2c5db0" stroke-width="0.9"/>
<circle cx="248.3" cy="146.0" r="3.95" fill="#4677c0" stroke="#2c5db0" stroke-width="0.9"/>
<circle cx="249.1" cy="175.7" r="2.9" fill="#fff" stroke="#3a6bbb" stroke-width="1.3"/>
<circle cx="250.6" cy="175.7" r="2.9" fill="#fff" stroke="#3a6bbb" stroke-width="1.3"/>
<circle cx="254.1" cy="137.4" r="2.9" fill="#fff" stroke="#3a6bbb" stroke-width="1.3"/>
<circle cx="255.0" cy="153.9" r="2.9" fill="#fff" stroke="#3a6bbb" stroke-width="1.3"/>
<circle cx="255.8" cy="185.2" r="2.9" fill="#fff" stroke="#3a6bbb" stroke-width="1.3"/>
<circle cx="258.1" cy="181.7" r="2.9" fill="#fff" stroke="#3a6bbb" stroke-width="1.3"/>
<circle cx="261.0" cy="147.8" r="3.95" fill="#4677c0" stroke="#2c5db0" stroke-width="0.9"/>
<circle cx="264.0" cy="173.0" r="2.9" fill="#fff" stroke="#3a6bbb" stroke-width="1.3"/>
<circle cx="264.5" cy="152.2" r="3.95" fill="#4677c0" stroke="#2c5db0" stroke-width="0.9"/>
<circle cx="265.4" cy="178.3" r="2.9" fill="#fff" stroke="#3a6bbb" stroke-width="1.3"/>
<circle cx="267.1" cy="155.7" r="3.95" fill="#4677c0" stroke="#2c5db0" stroke-width="0.9"/>
<circle cx="268.9" cy="159.1" r="3.95" fill="#4677c0" stroke="#2c5db0" stroke-width="0.9"/>
<circle cx="272.0" cy="151.3" r="2.9" fill="#fff" stroke="#3a6bbb" stroke-width="1.3"/>
<circle cx="272.3" cy="174.4" r="2.9" fill="#fff" stroke="#3a6bbb" stroke-width="1.3"/>
<circle cx="275.0" cy="173.9" r="2.9" fill="#fff" stroke="#3a6bbb" stroke-width="1.3"/>
<circle cx="276.7" cy="159.1" r="2.9" fill="#fff" stroke="#3a6bbb" stroke-width="1.3"/>
<circle cx="277.9" cy="155.3" r="2.9" fill="#fff" stroke="#3a6bbb" stroke-width="1.3"/>
<circle cx="280.2" cy="165.7" r="2.9" fill="#fff" stroke="#3a6bbb" stroke-width="1.3"/>
<circle cx="281.0" cy="178.3" r="2.9" fill="#fff" stroke="#3a6bbb" stroke-width="1.3"/>
<circle cx="282.8" cy="154.3" r="2.9" fill="#fff" stroke="#3a6bbb" stroke-width="1.3"/>
<circle cx="284.5" cy="176.5" r="2.9" fill="#fff" stroke="#3a6bbb" stroke-width="1.3"/>
<circle cx="285.9" cy="146.6" r="3.95" fill="#4677c0" stroke="#2c5db0" stroke-width="0.9"/>
<circle cx="288.9" cy="167.0" r="3.95" fill="#4677c0" stroke="#2c5db0" stroke-width="0.9"/>
<circle cx="288.9" cy="154.8" r="2.9" fill="#fff" stroke="#3a6bbb" stroke-width="1.3"/>
<circle cx="289.7" cy="159.1" r="2.9" fill="#fff" stroke="#3a6bbb" stroke-width="1.3"/>
<circle cx="292.9" cy="180.9" r="2.9" fill="#fff" stroke="#3a6bbb" stroke-width="1.3"/>
<circle cx="294.1" cy="143.1" r="2.9" fill="#fff" stroke="#3a6bbb" stroke-width="1.3"/>
<circle cx="295.0" cy="159.1" r="3.95" fill="#4677c0" stroke="#2c5db0" stroke-width="0.9"/>
<circle cx="296.7" cy="143.8" r="2.9" fill="#fff" stroke="#3a6bbb" stroke-width="1.3"/>
<circle cx="299.3" cy="184.9" r="2.9" fill="#fff" stroke="#3a6bbb" stroke-width="1.3"/>
<circle cx="301.6" cy="165.2" r="2.9" fill="#fff" stroke="#3a6bbb" stroke-width="1.3"/>
<circle cx="303.3" cy="184.3" r="2.9" fill="#fff" stroke="#3a6bbb" stroke-width="1.3"/>
<circle cx="306.3" cy="136.9" r="3.95" fill="#4677c0" stroke="#2c5db0" stroke-width="0.9"/>
<circle cx="307.1" cy="174.4" r="2.9" fill="#fff" stroke="#3a6bbb" stroke-width="1.3"/>
<circle cx="308.9" cy="181.7" r="2.9" fill="#fff" stroke="#3a6bbb" stroke-width="1.3"/>
<circle cx="310.3" cy="174.8" r="2.9" fill="#fff" stroke="#3a6bbb" stroke-width="1.3"/>
<circle cx="312.3" cy="146.1" r="2.9" fill="#fff" stroke="#3a6bbb" stroke-width="1.3"/>
<circle cx="313.7" cy="157.4" r="3.95" fill="#4677c0" stroke="#2c5db0" stroke-width="0.9"/>
<circle cx="315.0" cy="180.9" r="2.9" fill="#fff" stroke="#3a6bbb" stroke-width="1.3"/>
<circle cx="316.7" cy="164.3" r="2.9" fill="#fff" stroke="#3a6bbb" stroke-width="1.3"/>
<circle cx="317.6" cy="122.6" r="2.9" fill="#fff" stroke="#3a6bbb" stroke-width="1.3"/>
<circle cx="318.4" cy="180.9" r="2.9" fill="#fff" stroke="#3a6bbb" stroke-width="1.3"/>
<circle cx="320.2" cy="175.1" r="2.9" fill="#fff" stroke="#3a6bbb" stroke-width="1.3"/>
<circle cx="321.4" cy="132.7" r="2.9" fill="#fff" stroke="#3a6bbb" stroke-width="1.3"/>
<circle cx="324.5" cy="177.4" r="2.9" fill="#fff" stroke="#3a6bbb" stroke-width="1.3"/>
<circle cx="325.9" cy="146.1" r="2.9" fill="#fff" stroke="#3a6bbb" stroke-width="1.3"/>
<circle cx="328.0" cy="153.0" r="2.9" fill="#fff" stroke="#3a6bbb" stroke-width="1.3"/>
<circle cx="328.9" cy="141.7" r="2.9" fill="#fff" stroke="#3a6bbb" stroke-width="1.3"/>
<circle cx="330.1" cy="156.5" r="2.9" fill="#fff" stroke="#3a6bbb" stroke-width="1.3"/>
<circle cx="333.6" cy="177.4" r="2.9" fill="#fff" stroke="#3a6bbb" stroke-width="1.3"/>
<circle cx="335.8" cy="171.7" r="2.9" fill="#fff" stroke="#3a6bbb" stroke-width="1.3"/>
<circle cx="338.4" cy="182.6" r="2.9" fill="#fff" stroke="#3a6bbb" stroke-width="1.3"/>
<circle cx="341.9" cy="183.5" r="2.9" fill="#fff" stroke="#3a6bbb" stroke-width="1.3"/>
<circle cx="343.3" cy="167.8" r="3.95" fill="#4677c0" stroke="#2c5db0" stroke-width="0.9"/>
<circle cx="346.3" cy="173.0" r="3.95" fill="#4677c0" stroke="#2c5db0" stroke-width="0.9"/>
<circle cx="347.1" cy="149.6" r="3.95" fill="#4677c0" stroke="#2c5db0" stroke-width="0.9"/>
<circle cx="347.7" cy="173.0" r="3.95" fill="#4677c0" stroke="#2c5db0" stroke-width="0.9"/>
<circle cx="349.5" cy="180.9" r="2.9" fill="#fff" stroke="#3a6bbb" stroke-width="1.3"/>
<circle cx="351.2" cy="173.0" r="3.95" fill="#4677c0" stroke="#2c5db0" stroke-width="0.9"/>
<circle cx="354.7" cy="180.0" r="2.9" fill="#fff" stroke="#3a6bbb" stroke-width="1.3"/>
<circle cx="355.6" cy="164.3" r="2.9" fill="#fff" stroke="#3a6bbb" stroke-width="1.3"/>
<circle cx="358.5" cy="185.2" r="2.9" fill="#fff" stroke="#3a6bbb" stroke-width="1.3"/>
<circle cx="359.0" cy="168.7" r="3.95" fill="#4677c0" stroke="#2c5db0" stroke-width="0.9"/>
<circle cx="359.9" cy="161.7" r="2.9" fill="#fff" stroke="#3a6bbb" stroke-width="1.3"/>
<circle cx="361.3" cy="180.9" r="2.9" fill="#fff" stroke="#3a6bbb" stroke-width="1.3"/>
<circle cx="363.4" cy="171.3" r="3.95" fill="#4677c0" stroke="#2c5db0" stroke-width="0.9"/>
<circle cx="365.1" cy="157.4" r="3.95" fill="#4677c0" stroke="#2c5db0" stroke-width="0.9"/>
<circle cx="366.0" cy="153.0" r="2.9" fill="#fff" stroke="#3a6bbb" stroke-width="1.3"/>
<circle cx="366.9" cy="180.9" r="2.9" fill="#fff" stroke="#3a6bbb" stroke-width="1.3"/>
<circle cx="368.6" cy="176.5" r="2.9" fill="#fff" stroke="#3a6bbb" stroke-width="1.3"/>
<circle cx="370.3" cy="161.7" r="3.95" fill="#4677c0" stroke="#2c5db0" stroke-width="0.9"/>
<circle cx="371.7" cy="185.2" r="2.9" fill="#fff" stroke="#3a6bbb" stroke-width="1.3"/>
<circle cx="374.7" cy="181.7" r="2.9" fill="#fff" stroke="#3a6bbb" stroke-width="1.3"/>
<circle cx="376.4" cy="154.3" r="2.9" fill="#fff" stroke="#3a6bbb" stroke-width="1.3"/>
<circle cx="379.9" cy="185.2" r="2.9" fill="#fff" stroke="#3a6bbb" stroke-width="1.3"/>
<circle cx="382.5" cy="178.3" r="2.9" fill="#fff" stroke="#3a6bbb" stroke-width="1.3"/>
<circle cx="387.4" cy="179.1" r="2.9" fill="#fff" stroke="#3a6bbb" stroke-width="1.3"/>
<circle cx="394.7" cy="177.9" r="3.95" fill="#4677c0" stroke="#2c5db0" stroke-width="0.9"/>
<circle cx="399.6" cy="184.3" r="2.9" fill="#fff" stroke="#3a6bbb" stroke-width="1.3"/>
<circle cx="401.3" cy="180.9" r="2.9" fill="#fff" stroke="#3a6bbb" stroke-width="1.3"/>
<circle cx="402.5" cy="167.0" r="2.9" fill="#fff" stroke="#3a6bbb" stroke-width="1.3"/>
<circle cx="405.1" cy="181.7" r="2.9" fill="#fff" stroke="#3a6bbb" stroke-width="1.3"/>
<circle cx="406.0" cy="175.7" r="2.9" fill="#fff" stroke="#3a6bbb" stroke-width="1.3"/>
<circle cx="407.2" cy="171.3" r="2.9" fill="#fff" stroke="#3a6bbb" stroke-width="1.3"/>
<circle cx="408.6" cy="179.1" r="2.9" fill="#fff" stroke="#3a6bbb" stroke-width="1.3"/>
<circle cx="414.7" cy="175.7" r="3.95" fill="#4677c0" stroke="#2c5db0" stroke-width="0.9"/>
<circle cx="415.6" cy="144.3" r="3.95" fill="#4677c0" stroke="#2c5db0" stroke-width="0.9"/>
<circle cx="417.3" cy="169.2" r="2.9" fill="#fff" stroke="#3a6bbb" stroke-width="1.3"/>
<circle cx="419.0" cy="181.7" r="2.9" fill="#fff" stroke="#3a6bbb" stroke-width="1.3"/>
<circle cx="421.1" cy="161.7" r="2.9" fill="#fff" stroke="#3a6bbb" stroke-width="1.3"/>
<circle cx="422.0" cy="127.5" r="2.9" fill="#fff" stroke="#3a6bbb" stroke-width="1.3"/>
<circle cx="423.4" cy="131.0" r="2.9" fill="#fff" stroke="#3a6bbb" stroke-width="1.3"/>
<circle cx="425.1" cy="178.3" r="2.9" fill="#fff" stroke="#3a6bbb" stroke-width="1.3"/>
<circle cx="426.9" cy="181.7" r="2.9" fill="#fff" stroke="#3a6bbb" stroke-width="1.3"/>
<circle cx="428.6" cy="170.4" r="2.9" fill="#fff" stroke="#3a6bbb" stroke-width="1.3"/>
<circle cx="429.5" cy="136.9" r="2.9" fill="#fff" stroke="#3a6bbb" stroke-width="1.3"/>
<circle cx="431.2" cy="150.4" r="3.95" fill="#4677c0" stroke="#2c5db0" stroke-width="0.9"/>
<circle cx="433.0" cy="143.5" r="3.95" fill="#4677c0" stroke="#2c5db0" stroke-width="0.9"/>
<circle cx="438.2" cy="144.3" r="3.95" fill="#4677c0" stroke="#2c5db0" stroke-width="0.9"/>
<circle cx="438.5" cy="179.7" r="2.9" fill="#fff" stroke="#3a6bbb" stroke-width="1.3"/>
<circle cx="440.8" cy="153.0" r="3.95" fill="#4677c0" stroke="#2c5db0" stroke-width="0.9"/>
<circle cx="443.4" cy="145.6" r="2.9" fill="#fff" stroke="#3a6bbb" stroke-width="1.3"/>
<circle cx="445.1" cy="182.6" r="2.9" fill="#fff" stroke="#3a6bbb" stroke-width="1.3"/>
<circle cx="448.5" cy="161.8" r="3.95" fill="#4677c0" stroke="#2c5db0" stroke-width="0.9"/>
<circle cx="450.3" cy="143.9" r="3.95" fill="#4677c0" stroke="#2c5db0" stroke-width="0.9"/>
<circle cx="452.1" cy="169.0" r="2.9" fill="#fff" stroke="#3a6bbb" stroke-width="1.3"/>
<circle cx="454.8" cy="173.5" r="2.9" fill="#fff" stroke="#3a6bbb" stroke-width="1.3"/>
<circle cx="461.0" cy="184.2" r="2.9" fill="#fff" stroke="#3a6bbb" stroke-width="1.3"/>
<circle cx="463.7" cy="185.7" r="2.9" fill="#fff" stroke="#3a6bbb" stroke-width="1.3"/>
<circle cx="466.4" cy="162.7" r="3.95" fill="#4677c0" stroke="#2c5db0" stroke-width="0.9"/>
<circle cx="468.2" cy="185.7" r="2.9" fill="#fff" stroke="#3a6bbb" stroke-width="1.3"/>
<circle cx="469.1" cy="178.9" r="2.9" fill="#fff" stroke="#3a6bbb" stroke-width="1.3"/>
<circle cx="470.9" cy="148.4" r="3.95" fill="#4677c0" stroke="#2c5db0" stroke-width="0.9"/>
<circle cx="473.6" cy="162.7" r="3.95" fill="#4677c0" stroke="#2c5db0" stroke-width="0.9"/>
<circle cx="473.6" cy="182.4" r="2.9" fill="#fff" stroke="#3a6bbb" stroke-width="1.3"/>
<circle cx="476.3" cy="166.3" r="3.95" fill="#4677c0" stroke="#2c5db0" stroke-width="0.9"/>
<circle cx="477.2" cy="138.5" r="2.9" fill="#fff" stroke="#3a6bbb" stroke-width="1.3"/>
<circle cx="478.9" cy="183.3" r="2.9" fill="#fff" stroke="#3a6bbb" stroke-width="1.3"/>
<circle cx="480.7" cy="178.9" r="2.9" fill="#fff" stroke="#3a6bbb" stroke-width="1.3"/>
<circle cx="486.1" cy="183.3" r="2.9" fill="#fff" stroke="#3a6bbb" stroke-width="1.3"/>
<circle cx="487.0" cy="152.0" r="3.95" fill="#4677c0" stroke="#2c5db0" stroke-width="0.9"/>
<circle cx="488.8" cy="157.3" r="3.95" fill="#4677c0" stroke="#2c5db0" stroke-width="0.9"/>
<circle cx="490.6" cy="160.9" r="3.95" fill="#4677c0" stroke="#2c5db0" stroke-width="0.9"/>
<circle cx="493.3" cy="181.5" r="2.9" fill="#fff" stroke="#3a6bbb" stroke-width="1.3"/>
<circle cx="497.8" cy="174.9" r="2.9" fill="#fff" stroke="#3a6bbb" stroke-width="1.3"/>
<circle cx="501.3" cy="160.9" r="3.95" fill="#4677c0" stroke="#2c5db0" stroke-width="0.9"/>
<circle cx="503.1" cy="123.3" r="3.95" fill="#4677c0" stroke="#2c5db0" stroke-width="0.9"/>
<circle cx="504.9" cy="154.7" r="3.95" fill="#4677c0" stroke="#2c5db0" stroke-width="0.9"/>
<circle cx="505.8" cy="126.9" r="3.95" fill="#4677c0" stroke="#2c5db0" stroke-width="0.9"/>
<circle cx="505.8" cy="182.4" r="2.9" fill="#fff" stroke="#3a6bbb" stroke-width="1.3"/>
<circle cx="507.6" cy="138.5" r="3.95" fill="#4677c0" stroke="#2c5db0" stroke-width="0.9"/>
<circle cx="509.4" cy="182.4" r="2.9" fill="#fff" stroke="#3a6bbb" stroke-width="1.3"/>
<circle cx="510.3" cy="119.4" r="2.9" fill="#fff" stroke="#3a6bbb" stroke-width="1.3"/>
<circle cx="515.7" cy="185.7" r="2.9" fill="#fff" stroke="#3a6bbb" stroke-width="1.3"/>
<circle cx="520.7" cy="142.7" r="2.9" fill="#fff" stroke="#3a6bbb" stroke-width="1.3"/>
<circle cx="522.0" cy="164.9" r="2.9" fill="#fff" stroke="#3a6bbb" stroke-width="1.3"/>
<circle cx="522.9" cy="107.2" r="3.95" fill="#4677c0" stroke="#2c5db0" stroke-width="0.9"/>
<circle cx="524.6" cy="172.6" r="2.9" fill="#fff" stroke="#3a6bbb" stroke-width="1.3"/>
<path d="M546.6,2.5 C546.55,3.82 547.23,7.60 546.3,10.4 C545.37,13.20 543.60,17.03 541,19.3 C538.40,21.57 535.03,22.60 530.7,24 C526.37,25.40 521.35,26.30 515,27.7 C508.65,29.10 499.27,31.10 492.6,32.4 C485.93,33.70 480.93,34.50 475,35.5 C469.07,36.50 457.83,36.82 457,38.4 C456.17,39.98 465.83,42.98 470,45 C474.17,47.02 478.28,49.25 482,50.5 C485.72,51.75 488.63,51.82 492.3,52.5 C495.97,53.18 500.08,53.38 504,54.6 C507.92,55.82 512.80,58.23 515.8,59.8 C518.80,61.37 520.13,62.13 522,64 C523.87,65.87 525.50,68.33 527,71 C528.50,73.67 529.67,76.50 531,80 C532.33,83.50 533.67,87.83 535,92 C536.33,96.17 537.75,100.67 539,105 C540.25,109.33 541.62,112.93 542.5,118 C543.38,123.07 543.83,129.40 544.3,135.4 C544.77,141.40 544.98,148.15 545.3,154 C545.62,159.85 545.98,165.33 546.2,170.5 C546.42,175.67 546.53,177.58 546.6,185 C546.67,192.42 546.60,210.00 546.6,215 L547,215 L547,2.5 Z" fill="#df1f1f" fill-opacity="0.25" stroke="none"/>
<path d="M546.6,2.5 C546.55,3.82 547.23,7.60 546.3,10.4 C545.37,13.20 543.60,17.03 541,19.3 C538.40,21.57 535.03,22.60 530.7,24 C526.37,25.40 521.35,26.30 515,27.7 C508.65,29.10 499.27,31.10 492.6,32.4 C485.93,33.70 480.93,34.50 475,35.5 C469.07,36.50 457.83,36.82 457,38.4 C456.17,39.98 465.83,42.98 470,45 C474.17,47.02 478.28,49.25 482,50.5 C485.72,51.75 488.63,51.82 492.3,52.5 C495.97,53.18 500.08,53.38 504,54.6 C507.92,55.82 512.80,58.23 515.8,59.8 C518.80,61.37 520.13,62.13 522,64 C523.87,65.87 525.50,68.33 527,71 C528.50,73.67 529.67,76.50 531,80 C532.33,83.50 533.67,87.83 535,92 C536.33,96.17 537.75,100.67 539,105 C540.25,109.33 541.62,112.93 542.5,118 C543.38,123.07 543.83,129.40 544.3,135.4 C544.77,141.40 544.98,148.15 545.3,154 C545.62,159.85 545.98,165.33 546.2,170.5 C546.42,175.67 546.53,177.58 546.6,185 C546.67,192.42 546.60,210.00 546.6,215" fill="none" stroke="#df1f1f" stroke-width="1.3" stroke-linejoin="round"/>
<path d="M546.6,2.5 C546.60,17.08 546.78,73.75 546.6,90 C546.42,106.25 546.10,97.33 545.5,100 C544.90,102.67 544.58,103.50 543,106 C541.42,108.50 538.82,111.27 536,115 C533.18,118.73 528.70,124.90 526.1,128.4 C523.50,131.90 523.27,133.77 520.4,136 C517.53,138.23 512.22,140.05 508.9,141.8 C505.58,143.55 502.58,144.58 500.5,146.5 C498.42,148.42 497.72,151.13 496.4,153.3 C495.08,155.47 494.67,157.60 492.6,159.5 C490.53,161.40 487.98,162.87 484,164.7 C480.02,166.53 473.17,168.58 468.7,170.5 C464.23,172.42 459.72,174.77 457.2,176.2 C454.68,177.63 453.28,177.98 453.6,179.1 C453.92,180.22 454.98,181.78 459.1,182.9 C463.22,184.02 471.92,185.00 478.3,185.8 C484.68,186.60 491.03,186.90 497.4,187.7 C503.77,188.50 511.40,189.65 516.5,190.6 C521.60,191.55 524.17,192.28 528,193.4 C531.83,194.52 536.63,195.70 539.5,197.3 C542.37,198.90 544.02,200.88 545.2,203 C546.38,205.12 546.37,208.00 546.6,210 C546.83,212.00 546.60,214.17 546.6,215 L547,215 L547,2.5 Z" fill="#3a6bbb" fill-opacity="0.25" stroke="none"/>
<path d="M546.6,2.5 C546.60,17.08 546.78,73.75 546.6,90 C546.42,106.25 546.10,97.33 545.5,100 C544.90,102.67 544.58,103.50 543,106 C541.42,108.50 538.82,111.27 536,115 C533.18,118.73 528.70,124.90 526.1,128.4 C523.50,131.90 523.27,133.77 520.4,136 C517.53,138.23 512.22,140.05 508.9,141.8 C505.58,143.55 502.58,144.58 500.5,146.5 C498.42,148.42 497.72,151.13 496.4,153.3 C495.08,155.47 494.67,157.60 492.6,159.5 C490.53,161.40 487.98,162.87 484,164.7 C480.02,166.53 473.17,168.58 468.7,170.5 C464.23,172.42 459.72,174.77 457.2,176.2 C454.68,177.63 453.28,177.98 453.6,179.1 C453.92,180.22 454.98,181.78 459.1,182.9 C463.22,184.02 471.92,185.00 478.3,185.8 C484.68,186.60 491.03,186.90 497.4,187.7 C503.77,188.50 511.40,189.65 516.5,190.6 C521.60,191.55 524.17,192.28 528,193.4 C531.83,194.52 536.63,195.70 539.5,197.3 C542.37,198.90 544.02,200.88 545.2,203 C546.38,205.12 546.37,208.00 546.6,210 C546.83,212.00 546.60,214.17 546.6,215" fill="none" stroke="#3a6bbb" stroke-width="1.3" stroke-linejoin="round"/>
</g>
<clipPath id="cb"><rect x="52" y="226.6" width="495" height="213.20000000000002"/></clipPath>
<g clip-path="url(#cb)">
<path d="M75.0,358.0 L75.5,390.0 L76.3,364.8 L83.0,339.7 L85.4,391.2 L86.8,290.8 L87.7,324.0 L88.9,342.3 L90.6,382.5 L93.7,430.0 L99.3,344.7 L102.4,327.0 L106.8,307.0 L112.0,369.1 L112.5,376.1 L116.7,395.2 L128.5,380.4 L132.3,357.4 L133.4,347.8 L136.9,376.6 L142.4,327.8 L144.2,393.5 L148.5,287.0 L158.7,391.4 L160.4,325.2 L162.5,375.7 L167.4,308.7 L174.3,310.4 L175.2,344.0 L178.7,370.4 L178.7,371.7 L179.6,361.7 L181.3,324.3 L190.3,377.8 L191.7,330.4 L194.3,361.7 L195.6,383.9 L198.7,333.9 L205.3,351.3 L217.0,349.6 L219.2,377.0 L221.3,361.7 L224.4,331.8 L229.1,377.5 L230.0,333.9 L233.1,309.6 L237.8,327.3 L242.2,331.3 L246.5,355.7 L248.3,377.0 L248.9,354.8 L249.7,377.0 L253.2,376.1 L256.7,340.9 L257.6,292.5 L260.2,369.6 L265.4,370.5 L267.1,354.8 L272.3,313.0 L275.0,384.4 L281.0,375.2 L284.5,369.1 L286.3,340.9 L295.8,353.9 L300.2,371.3 L302.3,387.4 L308.9,380.4 L309.7,324.3 L312.3,312.2 L315.8,363.0 L318.4,382.2 L323.7,320.9 L326.3,289.6 L326.3,291.2 L327.1,301.7 L329.7,331.3 L335.0,340.9 L335.8,371.7 L337.6,268.6 L340.2,284.3 L342.8,317.9 L345.4,293.0 L345.4,337.4 L346.3,354.8 L346.9,293.0 L347.7,356.5 L351.2,340.0 L352.6,312.1 L356.4,356.5 L357.3,345.2 L359.0,329.6 L364.3,347.8 L366.5,321.7 L367.2,283.4 L369.0,306.3 L370.3,326.0 L372.4,282.5 L376.4,306.9 L379.9,250.9 L387.4,320.8 L394.7,357.4 L399.9,339.1 L404.3,344.3 L405.1,364.3 L414.7,282.5 L418.2,322.5 L423.4,297.3 L423.4,328.7 L433.0,284.3 L436.4,316.4 L439.9,307.7 L441.7,328.7 L444.3,288.6 L445.8,286.9 L448.5,310.2 L451.2,289.6 L461.0,301.3 L463.4,235.9 L469.1,297.7 L473.6,319.0 L474.8,310.2 L478.0,340.1 L480.7,323.4 L489.7,335.1 L493.3,311.1 L497.8,358.4 L504.9,332.4 L504.9,351.6 L505.8,284.2 L515.7,352.7 L522.0,333.3 L522.9,312.0 L524.3,310.2" fill="none" stroke="#3a6bbb" stroke-width="1.3" stroke-linejoin="round"/>
<path d="M74.3,359.7 L75.5,401.0 L78.1,372.6 L81.6,377.0 L83.0,330.4 L84.2,356.5 L85.9,376.1 L86.8,307.0 L87.7,322.1 L88.9,347.0 L91.1,377.3 L92.9,335.3 L93.7,345.2 L96.9,369.1 L98.1,354.8 L100.7,324.3 L101.6,354.8 L102.1,337.4 L102.4,367.4 L105.0,354.8 L105.9,366.5 L106.8,297.4 L107.7,365.2 L110.3,363.5 L112.0,362.2 L112.9,359.1 L116.0,365.6 L116.7,398.7 L123.3,377.0 L126.8,376.1 L129.4,378.7 L132.0,337.4 L132.3,342.6 L133.7,353.0 L135.5,365.2 L136.3,373.0 L137.2,350.4 L140.7,358.3 L142.4,343.5 L144.2,403.0 L147.7,298.8 L148.5,293.0 L149.7,319.1 L158.7,397.0 L160.4,329.6 L161.3,337.4 L162.5,370.4 L163.9,341.7 L166.5,324.3 L167.4,311.0 L172.6,335.7 L174.3,312.2 L175.2,349.2 L178.7,362.5 L182.2,335.7 L185.7,369.6 L186.5,359.1 L190.0,375.7 L191.7,326.1 L194.3,370.9 L195.2,367.8 L200.4,328.7 L202.2,356.5 L203.9,345.7 L206.5,354.8 L207.4,370.4 L212.6,307.0 L214.0,331.3 L216.1,353.0 L219.2,379.2 L219.6,353.9 L221.3,354.8 L223.9,320.3 L226.5,369.0 L229.1,379.6 L230.0,326.1 L233.1,325.6 L236.1,311.7 L237.8,320.9 L240.1,349.6 L240.4,350.9 L242.5,340.0 L245.7,348.7 L246.5,366.1 L247.4,367.4 L248.3,370.9 L250.6,350.4 L254.1,365.2 L254.1,371.7 L255.8,346.4 L257.6,294.8 L261.0,366.5 L261.9,349.6 L264.5,367.0 L265.4,347.0 L266.3,312.2 L268.9,346.1 L272.3,307.8 L273.7,337.0 L275.0,382.2 L276.7,366.1 L277.6,341.2 L280.2,348.7 L281.9,372.6 L282.8,371.3 L283.7,377.5 L284.9,371.7 L286.3,333.9 L287.1,347.8 L288.9,353.9 L291.5,346.1 L293.2,361.7 L295.0,340.9 L295.8,331.3 L300.2,353.9 L301.0,370.9 L301.9,380.4 L303.3,344.3 L306.8,376.1 L307.1,371.3 L309.7,327.0 L312.3,319.7 L313.2,334.8 L315.0,339.1 L316.7,361.7 L316.7,365.3 L317.6,355.7 L318.4,379.9 L319.3,370.4 L321.0,360.9 L323.7,327.0 L324.5,324.9 L326.3,285.6 L327.1,305.7 L328.3,309.9 L329.7,327.8 L333.6,345.7 L334.6,333.6 L335.8,379.9 L337.6,278.2 L340.2,293.9 L341.0,304.3 L342.8,309.6 L343.7,333.9 L346.3,358.3 L346.3,361.3 L346.9,302.5 L348.6,359.1 L349.5,335.7 L352.1,363.5 L352.6,322.0 L357.3,350.4 L358.2,337.4 L359.9,331.3 L360.8,314.7 L362.5,340.0 L363.4,312.1 L364.8,355.7 L366.0,321.7 L367.2,272.6 L368.6,316.4 L369.5,335.7 L371.2,361.7 L372.4,288.3 L374.7,295.6 L375.9,302.5 L379.9,326.0 L381.7,330.4 L387.4,317.3 L394.7,350.4 L399.9,343.5 L401.3,348.7 L401.7,369.6 L403.4,333.0 L404.3,367.8 L406.0,318.2 L406.9,326.9 L406.9,321.7 L408.6,319.9 L414.7,293.8 L415.6,309.5 L416.4,334.8 L417.3,339.1 L418.2,317.3 L419.9,308.6 L420.8,342.6 L421.7,327.8 L423.4,293.8 L425.1,331.3 L426.9,313.0 L427.4,305.1 L428.6,303.4 L431.2,287.7 L434.7,286.9 L435.6,313.0 L438.2,287.7 L440.8,311.2 L442.5,324.3 L443.4,295.6 L445.1,290.3 L448.5,312.9 L450.3,302.2 L451.2,283.0 L453.0,332.4 L454.8,282.5 L461.0,287.8 L463.4,244.8 L466.9,280.7 L468.2,313.5 L470.5,294.1 L474.8,313.5 L475.9,324.2 L478.0,335.1 L480.7,315.6 L485.6,313.5 L487.0,329.7 L487.9,320.1 L489.7,351.6 L493.3,321.0 L497.8,353.9 L501.3,323.7 L503.1,336.0 L504.0,361.1 L505.8,297.7 L506.7,319.2 L507.6,353.0 L509.4,336.5 L511.2,327.8 L515.7,341.9 L520.7,363.4 L522.0,336.9 L522.9,314.7" fill="none" stroke="#df1f1f" stroke-width="1.3" stroke-dasharray="1.3 2"/>
<circle cx="75.0" cy="358.0" r="3.95" fill="#4677c0" stroke="#2c5db0" stroke-width="0.9"/>
<circle cx="75.5" cy="390.0" r="3.95" fill="#4677c0" stroke="#2c5db0" stroke-width="0.9"/>
<circle cx="76.3" cy="364.8" r="3.95" fill="#4677c0" stroke="#2c5db0" stroke-width="0.9"/>
<circle cx="83.0" cy="339.7" r="2.9" fill="#fff" stroke="#3a6bbb" stroke-width="1.3"/>
<circle cx="85.4" cy="391.2" r="2.9" fill="#fff" stroke="#3a6bbb" stroke-width="1.3"/>
<circle cx="86.8" cy="290.8" r="2.9" fill="#fff" stroke="#3a6bbb" stroke-width="1.3"/>
<circle cx="87.7" cy="324.0" r="3.95" fill="#4677c0" stroke="#2c5db0" stroke-width="0.9"/>
<circle cx="88.9" cy="342.3" r="2.9" fill="#fff" stroke="#3a6bbb" stroke-width="1.3"/>
<circle cx="90.6" cy="382.5" r="2.9" fill="#fff" stroke="#3a6bbb" stroke-width="1.3"/>
<circle cx="93.7" cy="430.0" r="2.9" fill="#fff" stroke="#3a6bbb" stroke-width="1.3"/>
<circle cx="99.3" cy="344.7" r="2.9" fill="#fff" stroke="#3a6bbb" stroke-width="1.3"/>
<circle cx="102.4" cy="327.0" r="3.95" fill="#4677c0" stroke="#2c5db0" stroke-width="0.9"/>
<circle cx="106.8" cy="307.0" r="2.9" fill="#fff" stroke="#3a6bbb" stroke-width="1.3"/>
<circle cx="112.0" cy="369.1" r="3.95" fill="#4677c0" stroke="#2c5db0" stroke-width="0.9"/>
<circle cx="112.5" cy="376.1" r="2.9" fill="#fff" stroke="#3a6bbb" stroke-width="1.3"/>
<circle cx="116.7" cy="395.2" r="3.95" fill="#4677c0" stroke="#2c5db0" stroke-width="0.9"/>
<circle cx="128.5" cy="380.4" r="3.95" fill="#4677c0" stroke="#2c5db0" stroke-width="0.9"/>
<circle cx="132.3" cy="357.4" r="2.9" fill="#fff" stroke="#3a6bbb" stroke-width="1.3"/>
<circle cx="133.4" cy="347.8" r="3.95" fill="#4677c0" stroke="#2c5db0" stroke-width="0.9"/>
<circle cx="136.9" cy="376.6" r="2.9" fill="#fff" stroke="#3a6bbb" stroke-width="1.3"/>
<circle cx="142.4" cy="327.8" r="3.95" fill="#4677c0" stroke="#2c5db0" stroke-width="0.9"/>
<circle cx="144.2" cy="393.5" r="2.9" fill="#fff" stroke="#3a6bbb" stroke-width="1.3"/>
<circle cx="148.5" cy="287.0" r="3.95" fill="#4677c0" stroke="#2c5db0" stroke-width="0.9"/>
<circle cx="158.7" cy="391.4" r="2.9" fill="#fff" stroke="#3a6bbb" stroke-width="1.3"/>
<circle cx="160.4" cy="325.2" r="3.95" fill="#4677c0" stroke="#2c5db0" stroke-width="0.9"/>
<circle cx="162.5" cy="375.7" r="2.9" fill="#fff" stroke="#3a6bbb" stroke-width="1.3"/>
<circle cx="167.4" cy="308.7" r="2.9" fill="#fff" stroke="#3a6bbb" stroke-width="1.3"/>
<circle cx="174.3" cy="310.4" r="3.95" fill="#4677c0" stroke="#2c5db0" stroke-width="0.9"/>
<circle cx="175.2" cy="344.0" r="2.9" fill="#fff" stroke="#3a6bbb" stroke-width="1.3"/>
<circle cx="178.7" cy="370.4" r="2.9" fill="#fff" stroke="#3a6bbb" stroke-width="1.3"/>
<circle cx="178.7" cy="371.7" r="2.9" fill="#fff" stroke="#3a6bbb" stroke-width="1.3"/>
<circle cx="179.6" cy="361.7" r="2.9" fill="#fff" stroke="#3a6bbb" stroke-width="1.3"/>
<circle cx="181.3" cy="324.3" r="3.95" fill="#4677c0" stroke="#2c5db0" stroke-width="0.9"/>
<circle cx="190.3" cy="377.8" r="2.9" fill="#fff" stroke="#3a6bbb" stroke-width="1.3"/>
<circle cx="191.7" cy="330.4" r="3.95" fill="#4677c0" stroke="#2c5db0" stroke-width="0.9"/>
<circle cx="194.3" cy="361.7" r="2.9" fill="#fff" stroke="#3a6bbb" stroke-width="1.3"/>
<circle cx="195.6" cy="383.9" r="2.9" fill="#fff" stroke="#3a6bbb" stroke-width="1.3"/>
<circle cx="198.7" cy="333.9" r="2.9" fill="#fff" stroke="#3a6bbb" stroke-width="1.3"/>
<circle cx="205.3" cy="351.3" r="2.9" fill="#fff" stroke="#3a6bbb" stroke-width="1.3"/>
<circle cx="217.0" cy="349.6" r="3.95" fill="#4677c0" stroke="#2c5db0" stroke-width="0.9"/>
<circle cx="219.2" cy="377.0" r="2.9" fill="#fff" stroke="#3a6bbb" stroke-width="1.3"/>
<circle cx="221.3" cy="361.7" r="2.9" fill="#fff" stroke="#3a6bbb" stroke-width="1.3"/>
<circle cx="224.4" cy="331.8" r="2.9" fill="#fff" stroke="#3a6bbb" stroke-width="1.3"/>
<circle cx="229.1" cy="377.5" r="2.9" fill="#fff" stroke="#3a6bbb" stroke-width="1.3"/>
<circle cx="230.0" cy="333.9" r="2.9" fill="#fff" stroke="#3a6bbb" stroke-width="1.3"/>
<circle cx="233.1" cy="309.6" r="2.9" fill="#fff" stroke="#3a6bbb" stroke-width="1.3"/>
<circle cx="237.8" cy="327.3" r="2.9" fill="#fff" stroke="#3a6bbb" stroke-width="1.3"/>
<circle cx="242.2" cy="331.3" r="3.95" fill="#4677c0" stroke="#2c5db0" stroke-width="0.9"/>
<circle cx="246.5" cy="355.7" r="3.95" fill="#4677c0" stroke="#2c5db0" stroke-width="0.9"/>
<circle cx="248.3" cy="377.0" r="3.95" fill="#4677c0" stroke="#2c5db0" stroke-width="0.9"/>
<circle cx="248.9" cy="354.8" r="3.95" fill="#4677c0" stroke="#2c5db0" stroke-width="0.9"/>
<circle cx="249.7" cy="377.0" r="3.95" fill="#4677c0" stroke="#2c5db0" stroke-width="0.9"/>
<circle cx="253.2" cy="376.1" r="2.9" fill="#fff" stroke="#3a6bbb" stroke-width="1.3"/>
<circle cx="256.7" cy="340.9" r="2.9" fill="#fff" stroke="#3a6bbb" stroke-width="1.3"/>
<circle cx="257.6" cy="292.5" r="2.9" fill="#fff" stroke="#3a6bbb" stroke-width="1.3"/>
<circle cx="260.2" cy="369.6" r="2.9" fill="#fff" stroke="#3a6bbb" stroke-width="1.3"/>
<circle cx="265.4" cy="370.5" r="2.9" fill="#fff" stroke="#3a6bbb" stroke-width="1.3"/>
<circle cx="267.1" cy="354.8" r="3.95" fill="#4677c0" stroke="#2c5db0" stroke-width="0.9"/>
<circle cx="272.3" cy="313.0" r="2.9" fill="#fff" stroke="#3a6bbb" stroke-width="1.3"/>
<circle cx="275.0" cy="384.4" r="2.9" fill="#fff" stroke="#3a6bbb" stroke-width="1.3"/>
<circle cx="281.0" cy="375.2" r="2.9" fill="#fff" stroke="#3a6bbb" stroke-width="1.3"/>
<circle cx="284.5" cy="369.1" r="2.9" fill="#fff" stroke="#3a6bbb" stroke-width="1.3"/>
<circle cx="286.3" cy="340.9" r="3.95" fill="#4677c0" stroke="#2c5db0" stroke-width="0.9"/>
<circle cx="295.8" cy="353.9" r="3.95" fill="#4677c0" stroke="#2c5db0" stroke-width="0.9"/>
<circle cx="300.2" cy="371.3" r="2.9" fill="#fff" stroke="#3a6bbb" stroke-width="1.3"/>
<circle cx="302.3" cy="387.4" r="2.9" fill="#fff" stroke="#3a6bbb" stroke-width="1.3"/>
<circle cx="308.9" cy="380.4" r="2.9" fill="#fff" stroke="#3a6bbb" stroke-width="1.3"/>
<circle cx="309.7" cy="324.3" r="2.9" fill="#fff" stroke="#3a6bbb" stroke-width="1.3"/>
<circle cx="312.3" cy="312.2" r="2.9" fill="#fff" stroke="#3a6bbb" stroke-width="1.3"/>
<circle cx="315.8" cy="363.0" r="2.9" fill="#fff" stroke="#3a6bbb" stroke-width="1.3"/>
<circle cx="318.4" cy="382.2" r="2.9" fill="#fff" stroke="#3a6bbb" stroke-width="1.3"/>
<circle cx="323.7" cy="320.9" r="2.9" fill="#fff" stroke="#3a6bbb" stroke-width="1.3"/>
<circle cx="326.3" cy="289.6" r="2.9" fill="#fff" stroke="#3a6bbb" stroke-width="1.3"/>
<circle cx="326.3" cy="291.2" r="2.9" fill="#fff" stroke="#3a6bbb" stroke-width="1.3"/>
<circle cx="327.1" cy="301.7" r="2.9" fill="#fff" stroke="#3a6bbb" stroke-width="1.3"/>
<circle cx="329.7" cy="331.3" r="2.9" fill="#fff" stroke="#3a6bbb" stroke-width="1.3"/>
<circle cx="335.0" cy="340.9" r="2.9" fill="#fff" stroke="#3a6bbb" stroke-width="1.3"/>
<circle cx="335.8" cy="371.7" r="2.9" fill="#fff" stroke="#3a6bbb" stroke-width="1.3"/>
<circle cx="337.6" cy="268.6" r="2.9" fill="#fff" stroke="#3a6bbb" stroke-width="1.3"/>
<circle cx="340.2" cy="284.3" r="2.9" fill="#fff" stroke="#3a6bbb" stroke-width="1.3"/>
<circle cx="342.8" cy="317.9" r="2.9" fill="#fff" stroke="#3a6bbb" stroke-width="1.3"/>
<circle cx="345.4" cy="293.0" r="2.9" fill="#fff" stroke="#3a6bbb" stroke-width="1.3"/>
<circle cx="345.4" cy="337.4" r="3.95" fill="#4677c0" stroke="#2c5db0" stroke-width="0.9"/>
<circle cx="346.3" cy="354.8" r="3.95" fill="#4677c0" stroke="#2c5db0" stroke-width="0.9"/>
<circle cx="346.9" cy="293.0" r="2.9" fill="#fff" stroke="#3a6bbb" stroke-width="1.3"/>
<circle cx="347.7" cy="356.5" r="3.95" fill="#4677c0" stroke="#2c5db0" stroke-width="0.9"/>
<circle cx="351.2" cy="340.0" r="3.95" fill="#4677c0" stroke="#2c5db0" stroke-width="0.9"/>
<circle cx="352.6" cy="312.1" r="2.9" fill="#fff" stroke="#3a6bbb" stroke-width="1.3"/>
<circle cx="356.4" cy="356.5" r="2.9" fill="#fff" stroke="#3a6bbb" stroke-width="1.3"/>
<circle cx="357.3" cy="345.2" r="3.95" fill="#4677c0" stroke="#2c5db0" stroke-width="0.9"/>
<circle cx="359.0" cy="329.6" r="2.9" fill="#fff" stroke="#3a6bbb" stroke-width="1.3"/>
<circle cx="364.3" cy="347.8" r="3.95" fill="#4677c0" stroke="#2c5db0" stroke-width="0.9"/>
<circle cx="366.5" cy="321.7" r="2.9" fill="#fff" stroke="#3a6bbb" stroke-width="1.3"/>
<circle cx="367.2" cy="283.4" r="2.9" fill="#fff" stroke="#3a6bbb" stroke-width="1.3"/>
<circle cx="369.0" cy="306.3" r="2.9" fill="#fff" stroke="#3a6bbb" stroke-width="1.3"/>
<circle cx="370.3" cy="326.0" r="3.95" fill="#4677c0" stroke="#2c5db0" stroke-width="0.9"/>
<circle cx="372.4" cy="282.5" r="2.9" fill="#fff" stroke="#3a6bbb" stroke-width="1.3"/>
<circle cx="376.4" cy="306.9" r="2.9" fill="#fff" stroke="#3a6bbb" stroke-width="1.3"/>
<circle cx="379.9" cy="250.9" r="2.9" fill="#fff" stroke="#3a6bbb" stroke-width="1.3"/>
<circle cx="387.4" cy="320.8" r="2.9" fill="#fff" stroke="#3a6bbb" stroke-width="1.3"/>
<circle cx="394.7" cy="357.4" r="3.95" fill="#4677c0" stroke="#2c5db0" stroke-width="0.9"/>
<circle cx="399.9" cy="339.1" r="2.9" fill="#fff" stroke="#3a6bbb" stroke-width="1.3"/>
<circle cx="404.3" cy="344.3" r="2.9" fill="#fff" stroke="#3a6bbb" stroke-width="1.3"/>
<circle cx="405.1" cy="364.3" r="2.9" fill="#fff" stroke="#3a6bbb" stroke-width="1.3"/>
<circle cx="414.7" cy="282.5" r="3.95" fill="#4677c0" stroke="#2c5db0" stroke-width="0.9"/>
<circle cx="418.2" cy="322.5" r="2.9" fill="#fff" stroke="#3a6bbb" stroke-width="1.3"/>
<circle cx="423.4" cy="297.3" r="2.9" fill="#fff" stroke="#3a6bbb" stroke-width="1.3"/>
<circle cx="423.4" cy="328.7" r="2.9" fill="#fff" stroke="#3a6bbb" stroke-width="1.3"/>
<circle cx="433.0" cy="284.3" r="2.9" fill="#fff" stroke="#3a6bbb" stroke-width="1.3"/>
<circle cx="436.4" cy="316.4" r="2.9" fill="#fff" stroke="#3a6bbb" stroke-width="1.3"/>
<circle cx="439.9" cy="307.7" r="2.9" fill="#fff" stroke="#3a6bbb" stroke-width="1.3"/>
<circle cx="441.7" cy="328.7" r="2.9" fill="#fff" stroke="#3a6bbb" stroke-width="1.3"/>
<circle cx="444.3" cy="288.6" r="2.9" fill="#fff" stroke="#3a6bbb" stroke-width="1.3"/>
<circle cx="445.8" cy="286.9" r="2.9" fill="#fff" stroke="#3a6bbb" stroke-width="1.3"/>
<circle cx="448.5" cy="310.2" r="3.95" fill="#4677c0" stroke="#2c5db0" stroke-width="0.9"/>
<circle cx="451.2" cy="289.6" r="2.9" fill="#fff" stroke="#3a6bbb" stroke-width="1.3"/>
<circle cx="461.0" cy="301.3" r="2.9" fill="#fff" stroke="#3a6bbb" stroke-width="1.3"/>
<circle cx="463.4" cy="235.9" r="2.9" fill="#fff" stroke="#3a6bbb" stroke-width="1.3"/>
<circle cx="469.1" cy="297.7" r="3.95" fill="#4677c0" stroke="#2c5db0" stroke-width="0.9"/>
<circle cx="473.6" cy="319.0" r="3.95" fill="#4677c0" stroke="#2c5db0" stroke-width="0.9"/>
<circle cx="474.8" cy="310.2" r="3.95" fill="#4677c0" stroke="#2c5db0" stroke-width="0.9"/>
<circle cx="478.0" cy="340.1" r="2.9" fill="#fff" stroke="#3a6bbb" stroke-width="1.3"/>
<circle cx="480.7" cy="323.4" r="2.9" fill="#fff" stroke="#3a6bbb" stroke-width="1.3"/>
<circle cx="489.7" cy="335.1" r="3.95" fill="#4677c0" stroke="#2c5db0" stroke-width="0.9"/>
<circle cx="493.3" cy="311.1" r="2.9" fill="#fff" stroke="#3a6bbb" stroke-width="1.3"/>
<circle cx="497.8" cy="358.4" r="2.9" fill="#fff" stroke="#3a6bbb" stroke-width="1.3"/>
<circle cx="504.9" cy="332.4" r="2.9" fill="#fff" stroke="#3a6bbb" stroke-width="1.3"/>
<circle cx="504.9" cy="351.6" r="3.95" fill="#4677c0" stroke="#2c5db0" stroke-width="0.9"/>
<circle cx="505.8" cy="284.2" r="2.9" fill="#fff" stroke="#3a6bbb" stroke-width="1.3"/>
<circle cx="515.7" cy="352.7" r="2.9" fill="#fff" stroke="#3a6bbb" stroke-width="1.3"/>
<circle cx="522.0" cy="333.3" r="2.9" fill="#fff" stroke="#3a6bbb" stroke-width="1.3"/>
<circle cx="522.9" cy="312.0" r="3.95" fill="#4677c0" stroke="#2c5db0" stroke-width="0.9"/>
<circle cx="524.3" cy="310.2" r="2.9" fill="#fff" stroke="#3a6bbb" stroke-width="1.3"/>
<circle cx="74.3" cy="359.7" r="3.95" fill="#d8352e" stroke="#de1a1a" stroke-width="0.9"/>
<circle cx="75.5" cy="401.0" r="3.95" fill="#d8352e" stroke="#de1a1a" stroke-width="0.9"/>
<circle cx="78.1" cy="372.6" r="3.95" fill="#d8352e" stroke="#de1a1a" stroke-width="0.9"/>
<circle cx="81.6" cy="377.0" r="2.9" fill="#fff" stroke="#df1f1f" stroke-width="1.3"/>
<circle cx="83.0" cy="330.4" r="2.9" fill="#fff" stroke="#df1f1f" stroke-width="1.3"/>
<circle cx="84.2" cy="356.5" r="3.95" fill="#d8352e" stroke="#de1a1a" stroke-width="0.9"/>
<circle cx="85.9" cy="376.1" r="2.9" fill="#fff" stroke="#df1f1f" stroke-width="1.3"/>
<circle cx="86.8" cy="307.0" r="2.9" fill="#fff" stroke="#df1f1f" stroke-width="1.3"/>
<circle cx="87.7" cy="322.1" r="3.95" fill="#d8352e" stroke="#de1a1a" stroke-width="0.9"/>
<circle cx="88.9" cy="347.0" r="2.9" fill="#fff" stroke="#df1f1f" stroke-width="1.3"/>
<circle cx="91.1" cy="377.3" r="2.9" fill="#fff" stroke="#df1f1f" stroke-width="1.3"/>
<circle cx="92.9" cy="335.3" r="2.9" fill="#fff" stroke="#df1f1f" stroke-width="1.3"/>
<circle cx="93.7" cy="345.2" r="2.9" fill="#fff" stroke="#df1f1f" stroke-width="1.3"/>
<circle cx="96.9" cy="369.1" r="2.9" fill="#fff" stroke="#df1f1f" stroke-width="1.3"/>
<circle cx="98.1" cy="354.8" r="3.95" fill="#d8352e" stroke="#de1a1a" stroke-width="0.9"/>
<circle cx="100.7" cy="324.3" r="3.95" fill="#d8352e" stroke="#de1a1a" stroke-width="0.9"/>
<circle cx="101.6" cy="354.8" r="3.95" fill="#d8352e" stroke="#de1a1a" stroke-width="0.9"/>
<circle cx="102.1" cy="337.4" r="3.95" fill="#d8352e" stroke="#de1a1a" stroke-width="0.9"/>
<circle cx="102.4" cy="367.4" r="3.95" fill="#d8352e" stroke="#de1a1a" stroke-width="0.9"/>
<circle cx="105.0" cy="354.8" r="3.95" fill="#d8352e" stroke="#de1a1a" stroke-width="0.9"/>
<circle cx="105.9" cy="366.5" r="3.95" fill="#d8352e" stroke="#de1a1a" stroke-width="0.9"/>
<circle cx="106.8" cy="297.4" r="2.9" fill="#fff" stroke="#df1f1f" stroke-width="1.3"/>
<circle cx="107.7" cy="365.2" r="3.95" fill="#d8352e" stroke="#de1a1a" stroke-width="0.9"/>
<circle cx="110.3" cy="363.5" r="3.95" fill="#d8352e" stroke="#de1a1a" stroke-width="0.9"/>
<circle cx="112.0" cy="362.2" r="3.95" fill="#d8352e" stroke="#de1a1a" stroke-width="0.9"/>
<circle cx="112.9" cy="359.1" r="2.9" fill="#fff" stroke="#df1f1f" stroke-width="1.3"/>
<circle cx="116.0" cy="365.6" r="2.9" fill="#fff" stroke="#df1f1f" stroke-width="1.3"/>
<circle cx="116.7" cy="398.7" r="3.95" fill="#d8352e" stroke="#de1a1a" stroke-width="0.9"/>
<circle cx="123.3" cy="377.0" r="3.95" fill="#d8352e" stroke="#de1a1a" stroke-width="0.9"/>
<circle cx="126.8" cy="376.1" r="3.95" fill="#d8352e" stroke="#de1a1a" stroke-width="0.9"/>
<circle cx="129.4" cy="378.7" r="3.95" fill="#d8352e" stroke="#de1a1a" stroke-width="0.9"/>
<circle cx="132.0" cy="337.4" r="2.9" fill="#fff" stroke="#df1f1f" stroke-width="1.3"/>
<circle cx="132.3" cy="342.6" r="2.9" fill="#fff" stroke="#df1f1f" stroke-width="1.3"/>
<circle cx="133.7" cy="353.0" r="3.95" fill="#d8352e" stroke="#de1a1a" stroke-width="0.9"/>
<circle cx="135.5" cy="365.2" r="3.95" fill="#d8352e" stroke="#de1a1a" stroke-width="0.9"/>
<circle cx="136.3" cy="373.0" r="2.9" fill="#fff" stroke="#df1f1f" stroke-width="1.3"/>
<circle cx="137.2" cy="350.4" r="3.95" fill="#d8352e" stroke="#de1a1a" stroke-width="0.9"/>
<circle cx="140.7" cy="358.3" r="3.95" fill="#d8352e" stroke="#de1a1a" stroke-width="0.9"/>
<circle cx="142.4" cy="343.5" r="3.95" fill="#d8352e" stroke="#de1a1a" stroke-width="0.9"/>
<circle cx="144.2" cy="403.0" r="2.9" fill="#fff" stroke="#df1f1f" stroke-width="1.3"/>
<circle cx="147.7" cy="298.8" r="2.9" fill="#fff" stroke="#df1f1f" stroke-width="1.3"/>
<circle cx="148.5" cy="293.0" r="3.95" fill="#d8352e" stroke="#de1a1a" stroke-width="0.9"/>
<circle cx="149.7" cy="319.1" r="2.9" fill="#fff" stroke="#df1f1f" stroke-width="1.3"/>
<circle cx="158.7" cy="397.0" r="2.9" fill="#fff" stroke="#df1f1f" stroke-width="1.3"/>
<circle cx="160.4" cy="329.6" r="3.95" fill="#d8352e" stroke="#de1a1a" stroke-width="0.9"/>
<circle cx="161.3" cy="337.4" r="2.9" fill="#fff" stroke="#df1f1f" stroke-width="1.3"/>
<circle cx="162.5" cy="370.4" r="2.9" fill="#fff" stroke="#df1f1f" stroke-width="1.3"/>
<circle cx="163.9" cy="341.7" r="3.95" fill="#d8352e" stroke="#de1a1a" stroke-width="0.9"/>
<circle cx="166.5" cy="324.3" r="3.95" fill="#d8352e" stroke="#de1a1a" stroke-width="0.9"/>
<circle cx="167.4" cy="311.0" r="2.9" fill="#fff" stroke="#df1f1f" stroke-width="1.3"/>
<circle cx="172.6" cy="335.7" r="2.9" fill="#fff" stroke="#df1f1f" stroke-width="1.3"/>
<circle cx="174.3" cy="312.2" r="3.95" fill="#d8352e" stroke="#de1a1a" stroke-width="0.9"/>
<circle cx="175.2" cy="349.2" r="2.9" fill="#fff" stroke="#df1f1f" stroke-width="1.3"/>
<circle cx="178.7" cy="362.5" r="2.9" fill="#fff" stroke="#df1f1f" stroke-width="1.3"/>
<circle cx="182.2" cy="335.7" r="3.95" fill="#d8352e" stroke="#de1a1a" stroke-width="0.9"/>
<circle cx="185.7" cy="369.6" r="3.95" fill="#d8352e" stroke="#de1a1a" stroke-width="0.9"/>
<circle cx="186.5" cy="359.1" r="2.9" fill="#fff" stroke="#df1f1f" stroke-width="1.3"/>
<circle cx="190.0" cy="375.7" r="2.9" fill="#fff" stroke="#df1f1f" stroke-width="1.3"/>
<circle cx="191.7" cy="326.1" r="3.95" fill="#d8352e" stroke="#de1a1a" stroke-width="0.9"/>
<circle cx="194.3" cy="370.9" r="2.9" fill="#fff" stroke="#df1f1f" stroke-width="1.3"/>
<circle cx="195.2" cy="367.8" r="2.9" fill="#fff" stroke="#df1f1f" stroke-width="1.3"/>
<circle cx="200.4" cy="328.7" r="2.9" fill="#fff" stroke="#df1f1f" stroke-width="1.3"/>
<circle cx="202.2" cy="356.5" r="2.9" fill="#fff" stroke="#df1f1f" stroke-width="1.3"/>
<circle cx="203.9" cy="345.7" r="2.9" fill="#fff" stroke="#df1f1f" stroke-width="1.3"/>
<circle cx="206.5" cy="354.8" r="2.9" fill="#fff" stroke="#df1f1f" stroke-width="1.3"/>
<circle cx="207.4" cy="370.4" r="2.9" fill="#fff" stroke="#df1f1f" stroke-width="1.3"/>
<circle cx="212.6" cy="307.0" r="2.9" fill="#fff" stroke="#df1f1f" stroke-width="1.3"/>
<circle cx="214.0" cy="331.3" r="2.9" fill="#fff" stroke="#df1f1f" stroke-width="1.3"/>
<circle cx="216.1" cy="353.0" r="3.95" fill="#d8352e" stroke="#de1a1a" stroke-width="0.9"/>
<circle cx="219.2" cy="379.2" r="2.9" fill="#fff" stroke="#df1f1f" stroke-width="1.3"/>
<circle cx="219.6" cy="353.9" r="3.95" fill="#d8352e" stroke="#de1a1a" stroke-width="0.9"/>
<circle cx="221.3" cy="354.8" r="3.95" fill="#d8352e" stroke="#de1a1a" stroke-width="0.9"/>
<circle cx="223.9" cy="320.3" r="2.9" fill="#fff" stroke="#df1f1f" stroke-width="1.3"/>
<circle cx="226.5" cy="369.0" r="3.95" fill="#d8352e" stroke="#de1a1a" stroke-width="0.9"/>
<circle cx="229.1" cy="379.6" r="2.9" fill="#fff" stroke="#df1f1f" stroke-width="1.3"/>
<circle cx="230.0" cy="326.1" r="2.9" fill="#fff" stroke="#df1f1f" stroke-width="1.3"/>
<circle cx="233.1" cy="325.6" r="2.9" fill="#fff" stroke="#df1f1f" stroke-width="1.3"/>
<circle cx="236.1" cy="311.7" r="3.95" fill="#d8352e" stroke="#de1a1a" stroke-width="0.9"/>
<circle cx="237.8" cy="320.9" r="2.9" fill="#fff" stroke="#df1f1f" stroke-width="1.3"/>
<circle cx="240.1" cy="349.6" r="2.9" fill="#fff" stroke="#df1f1f" stroke-width="1.3"/>
<circle cx="240.4" cy="350.9" r="2.9" fill="#fff" stroke="#df1f1f" stroke-width="1.3"/>
<circle cx="242.5" cy="340.0" r="3.95" fill="#d8352e" stroke="#de1a1a" stroke-width="0.9"/>
<circle cx="245.7" cy="348.7" r="3.95" fill="#d8352e" stroke="#de1a1a" stroke-width="0.9"/>
<circle cx="246.5" cy="366.1" r="2.9" fill="#fff" stroke="#df1f1f" stroke-width="1.3"/>
<circle cx="247.4" cy="367.4" r="2.9" fill="#fff" stroke="#df1f1f" stroke-width="1.3"/>
<circle cx="248.3" cy="370.9" r="3.95" fill="#d8352e" stroke="#de1a1a" stroke-width="0.9"/>
<circle cx="250.6" cy="350.4" r="2.9" fill="#fff" stroke="#df1f1f" stroke-width="1.3"/>
<circle cx="254.1" cy="365.2" r="2.9" fill="#fff" stroke="#df1f1f" stroke-width="1.3"/>
<circle cx="254.1" cy="371.7" r="2.9" fill="#fff" stroke="#df1f1f" stroke-width="1.3"/>
<circle cx="255.8" cy="346.4" r="2.9" fill="#fff" stroke="#df1f1f" stroke-width="1.3"/>
<circle cx="257.6" cy="294.8" r="2.9" fill="#fff" stroke="#df1f1f" stroke-width="1.3"/>
<circle cx="261.0" cy="366.5" r="2.9" fill="#fff" stroke="#df1f1f" stroke-width="1.3"/>
<circle cx="261.9" cy="349.6" r="3.95" fill="#d8352e" stroke="#de1a1a" stroke-width="0.9"/>
<circle cx="264.5" cy="367.0" r="2.9" fill="#fff" stroke="#df1f1f" stroke-width="1.3"/>
<circle cx="265.4" cy="347.0" r="3.95" fill="#d8352e" stroke="#de1a1a" stroke-width="0.9"/>
<circle cx="266.3" cy="312.2" r="3.95" fill="#d8352e" stroke="#de1a1a" stroke-width="0.9"/>
<circle cx="268.9" cy="346.1" r="3.95" fill="#d8352e" stroke="#de1a1a" stroke-width="0.9"/>
<circle cx="272.3" cy="307.8" r="2.9" fill="#fff" stroke="#df1f1f" stroke-width="1.3"/>
<circle cx="273.7" cy="337.0" r="2.9" fill="#fff" stroke="#df1f1f" stroke-width="1.3"/>
<circle cx="275.0" cy="382.2" r="2.9" fill="#fff" stroke="#df1f1f" stroke-width="1.3"/>
<circle cx="276.7" cy="366.1" r="2.9" fill="#fff" stroke="#df1f1f" stroke-width="1.3"/>
<circle cx="277.6" cy="341.2" r="2.9" fill="#fff" stroke="#df1f1f" stroke-width="1.3"/>
<circle cx="280.2" cy="348.7" r="2.9" fill="#fff" stroke="#df1f1f" stroke-width="1.3"/>
<circle cx="281.9" cy="372.6" r="2.9" fill="#fff" stroke="#df1f1f" stroke-width="1.3"/>
<circle cx="282.8" cy="371.3" r="2.9" fill="#fff" stroke="#df1f1f" stroke-width="1.3"/>
<circle cx="283.7" cy="377.5" r="2.9" fill="#fff" stroke="#df1f1f" stroke-width="1.3"/>
<circle cx="284.9" cy="371.7" r="2.9" fill="#fff" stroke="#df1f1f" stroke-width="1.3"/>
<circle cx="286.3" cy="333.9" r="3.95" fill="#d8352e" stroke="#de1a1a" stroke-width="0.9"/>
<circle cx="287.1" cy="347.8" r="2.9" fill="#fff" stroke="#df1f1f" stroke-width="1.3"/>
<circle cx="288.9" cy="353.9" r="3.95" fill="#d8352e" stroke="#de1a1a" stroke-width="0.9"/>
<circle cx="291.5" cy="346.1" r="2.9" fill="#fff" stroke="#df1f1f" stroke-width="1.3"/>
<circle cx="293.2" cy="361.7" r="2.9" fill="#fff" stroke="#df1f1f" stroke-width="1.3"/>
<circle cx="295.0" cy="340.9" r="3.95" fill="#d8352e" stroke="#de1a1a" stroke-width="0.9"/>
<circle cx="295.8" cy="331.3" r="2.9" fill="#fff" stroke="#df1f1f" stroke-width="1.3"/>
<circle cx="300.2" cy="353.9" r="2.9" fill="#fff" stroke="#df1f1f" stroke-width="1.3"/>
<circle cx="301.0" cy="370.9" r="2.9" fill="#fff" stroke="#df1f1f" stroke-width="1.3"/>
<circle cx="301.9" cy="380.4" r="2.9" fill="#fff" stroke="#df1f1f" stroke-width="1.3"/>
<circle cx="303.3" cy="344.3" r="2.9" fill="#fff" stroke="#df1f1f" stroke-width="1.3"/>
<circle cx="306.8" cy="376.1" r="3.95" fill="#d8352e" stroke="#de1a1a" stroke-width="0.9"/>
<circle cx="307.1" cy="371.3" r="2.9" fill="#fff" stroke="#df1f1f" stroke-width="1.3"/>
<circle cx="309.7" cy="327.0" r="2.9" fill="#fff" stroke="#df1f1f" stroke-width="1.3"/>
<circle cx="312.3" cy="319.7" r="2.9" fill="#fff" stroke="#df1f1f" stroke-width="1.3"/>
<circle cx="313.2" cy="334.8" r="3.95" fill="#d8352e" stroke="#de1a1a" stroke-width="0.9"/>
<circle cx="315.0" cy="339.1" r="2.9" fill="#fff" stroke="#df1f1f" stroke-width="1.3"/>
<circle cx="316.7" cy="361.7" r="2.9" fill="#fff" stroke="#df1f1f" stroke-width="1.3"/>
<circle cx="316.7" cy="365.3" r="2.9" fill="#fff" stroke="#df1f1f" stroke-width="1.3"/>
<circle cx="317.6" cy="355.7" r="2.9" fill="#fff" stroke="#df1f1f" stroke-width="1.3"/>
<circle cx="318.4" cy="379.9" r="2.9" fill="#fff" stroke="#df1f1f" stroke-width="1.3"/>
<circle cx="319.3" cy="370.4" r="2.9" fill="#fff" stroke="#df1f1f" stroke-width="1.3"/>
<circle cx="321.0" cy="360.9" r="2.9" fill="#fff" stroke="#df1f1f" stroke-width="1.3"/>
<circle cx="323.7" cy="327.0" r="2.9" fill="#fff" stroke="#df1f1f" stroke-width="1.3"/>
<circle cx="324.5" cy="324.9" r="2.9" fill="#fff" stroke="#df1f1f" stroke-width="1.3"/>
<circle cx="326.3" cy="285.6" r="2.9" fill="#fff" stroke="#df1f1f" stroke-width="1.3"/>
<circle cx="327.1" cy="305.7" r="2.9" fill="#fff" stroke="#df1f1f" stroke-width="1.3"/>
<circle cx="328.3" cy="309.9" r="2.9" fill="#fff" stroke="#df1f1f" stroke-width="1.3"/>
<circle cx="329.7" cy="327.8" r="2.9" fill="#fff" stroke="#df1f1f" stroke-width="1.3"/>
<circle cx="333.6" cy="345.7" r="2.9" fill="#fff" stroke="#df1f1f" stroke-width="1.3"/>
<circle cx="334.6" cy="333.6" r="2.9" fill="#fff" stroke="#df1f1f" stroke-width="1.3"/>
<circle cx="335.8" cy="379.9" r="2.9" fill="#fff" stroke="#df1f1f" stroke-width="1.3"/>
<circle cx="337.6" cy="278.2" r="2.9" fill="#fff" stroke="#df1f1f" stroke-width="1.3"/>
<circle cx="340.2" cy="293.9" r="2.9" fill="#fff" stroke="#df1f1f" stroke-width="1.3"/>
<circle cx="341.0" cy="304.3" r="2.9" fill="#fff" stroke="#df1f1f" stroke-width="1.3"/>
<circle cx="342.8" cy="309.6" r="2.9" fill="#fff" stroke="#df1f1f" stroke-width="1.3"/>
<circle cx="343.7" cy="333.9" r="3.95" fill="#d8352e" stroke="#de1a1a" stroke-width="0.9"/>
<circle cx="346.3" cy="358.3" r="3.95" fill="#d8352e" stroke="#de1a1a" stroke-width="0.9"/>
<circle cx="346.3" cy="361.3" r="3.95" fill="#d8352e" stroke="#de1a1a" stroke-width="0.9"/>
<circle cx="346.9" cy="302.5" r="2.9" fill="#fff" stroke="#df1f1f" stroke-width="1.3"/>
<circle cx="348.6" cy="359.1" r="3.95" fill="#d8352e" stroke="#de1a1a" stroke-width="0.9"/>
<circle cx="349.5" cy="335.7" r="3.95" fill="#d8352e" stroke="#de1a1a" stroke-width="0.9"/>
<circle cx="352.1" cy="363.5" r="2.9" fill="#fff" stroke="#df1f1f" stroke-width="1.3"/>
<circle cx="352.6" cy="322.0" r="2.9" fill="#fff" stroke="#df1f1f" stroke-width="1.3"/>
<circle cx="357.3" cy="350.4" r="3.95" fill="#d8352e" stroke="#de1a1a" stroke-width="0.9"/>
<circle cx="358.2" cy="337.4" r="2.9" fill="#fff" stroke="#df1f1f" stroke-width="1.3"/>
<circle cx="359.9" cy="331.3" r="2.9" fill="#fff" stroke="#df1f1f" stroke-width="1.3"/>
<circle cx="360.8" cy="314.7" r="2.9" fill="#fff" stroke="#df1f1f" stroke-width="1.3"/>
<circle cx="362.5" cy="340.0" r="3.95" fill="#d8352e" stroke="#de1a1a" stroke-width="0.9"/>
<circle cx="363.4" cy="312.1" r="3.95" fill="#d8352e" stroke="#de1a1a" stroke-width="0.9"/>
<circle cx="364.8" cy="355.7" r="3.95" fill="#d8352e" stroke="#de1a1a" stroke-width="0.9"/>
<circle cx="366.0" cy="321.7" r="2.9" fill="#fff" stroke="#df1f1f" stroke-width="1.3"/>
<circle cx="367.2" cy="272.6" r="2.9" fill="#fff" stroke="#df1f1f" stroke-width="1.3"/>
<circle cx="368.6" cy="316.4" r="2.9" fill="#fff" stroke="#df1f1f" stroke-width="1.3"/>
<circle cx="369.5" cy="335.7" r="3.95" fill="#d8352e" stroke="#de1a1a" stroke-width="0.9"/>
<circle cx="371.2" cy="361.7" r="2.9" fill="#fff" stroke="#df1f1f" stroke-width="1.3"/>
<circle cx="372.4" cy="288.3" r="2.9" fill="#fff" stroke="#df1f1f" stroke-width="1.3"/>
<circle cx="374.7" cy="295.6" r="2.9" fill="#fff" stroke="#df1f1f" stroke-width="1.3"/>
<circle cx="375.9" cy="302.5" r="2.9" fill="#fff" stroke="#df1f1f" stroke-width="1.3"/>
<circle cx="379.9" cy="326.0" r="2.9" fill="#fff" stroke="#df1f1f" stroke-width="1.3"/>
<circle cx="381.7" cy="330.4" r="2.9" fill="#fff" stroke="#df1f1f" stroke-width="1.3"/>
<circle cx="387.4" cy="317.3" r="2.9" fill="#fff" stroke="#df1f1f" stroke-width="1.3"/>
<circle cx="394.7" cy="350.4" r="3.95" fill="#d8352e" stroke="#de1a1a" stroke-width="0.9"/>
<circle cx="399.9" cy="343.5" r="2.9" fill="#fff" stroke="#df1f1f" stroke-width="1.3"/>
<circle cx="401.3" cy="348.7" r="2.9" fill="#fff" stroke="#df1f1f" stroke-width="1.3"/>
<circle cx="401.7" cy="369.6" r="2.9" fill="#fff" stroke="#df1f1f" stroke-width="1.3"/>
<circle cx="403.4" cy="333.0" r="2.9" fill="#fff" stroke="#df1f1f" stroke-width="1.3"/>
<circle cx="404.3" cy="367.8" r="2.9" fill="#fff" stroke="#df1f1f" stroke-width="1.3"/>
<circle cx="406.0" cy="318.2" r="2.9" fill="#fff" stroke="#df1f1f" stroke-width="1.3"/>
<circle cx="406.9" cy="326.9" r="2.9" fill="#fff" stroke="#df1f1f" stroke-width="1.3"/>
<circle cx="406.9" cy="321.7" r="2.9" fill="#fff" stroke="#df1f1f" stroke-width="1.3"/>
<circle cx="408.6" cy="319.9" r="2.9" fill="#fff" stroke="#df1f1f" stroke-width="1.3"/>
<circle cx="414.7" cy="293.8" r="3.95" fill="#d8352e" stroke="#de1a1a" stroke-width="0.9"/>
<circle cx="415.6" cy="309.5" r="3.95" fill="#d8352e" stroke="#de1a1a" stroke-width="0.9"/>
<circle cx="416.4" cy="334.8" r="2.9" fill="#fff" stroke="#df1f1f" stroke-width="1.3"/>
<circle cx="417.3" cy="339.1" r="2.9" fill="#fff" stroke="#df1f1f" stroke-width="1.3"/>
<circle cx="418.2" cy="317.3" r="2.9" fill="#fff" stroke="#df1f1f" stroke-width="1.3"/>
<circle cx="419.9" cy="308.6" r="2.9" fill="#fff" stroke="#df1f1f" stroke-width="1.3"/>
<circle cx="420.8" cy="342.6" r="2.9" fill="#fff" stroke="#df1f1f" stroke-width="1.3"/>
<circle cx="421.7" cy="327.8" r="2.9" fill="#fff" stroke="#df1f1f" stroke-width="1.3"/>
<circle cx="423.4" cy="293.8" r="2.9" fill="#fff" stroke="#df1f1f" stroke-width="1.3"/>
<circle cx="425.1" cy="331.3" r="2.9" fill="#fff" stroke="#df1f1f" stroke-width="1.3"/>
<circle cx="426.9" cy="313.0" r="2.9" fill="#fff" stroke="#df1f1f" stroke-width="1.3"/>
<circle cx="427.4" cy="305.1" r="2.9" fill="#fff" stroke="#df1f1f" stroke-width="1.3"/>
<circle cx="428.6" cy="303.4" r="2.9" fill="#fff" stroke="#df1f1f" stroke-width="1.3"/>
<circle cx="431.2" cy="287.7" r="3.95" fill="#d8352e" stroke="#de1a1a" stroke-width="0.9"/>
<circle cx="434.7" cy="286.9" r="3.95" fill="#d8352e" stroke="#de1a1a" stroke-width="0.9"/>
<circle cx="435.6" cy="313.0" r="2.9" fill="#fff" stroke="#df1f1f" stroke-width="1.3"/>
<circle cx="438.2" cy="287.7" r="3.95" fill="#d8352e" stroke="#de1a1a" stroke-width="0.9"/>
<circle cx="440.8" cy="311.2" r="3.95" fill="#d8352e" stroke="#de1a1a" stroke-width="0.9"/>
<circle cx="442.5" cy="324.3" r="2.9" fill="#fff" stroke="#df1f1f" stroke-width="1.3"/>
<circle cx="443.4" cy="295.6" r="2.9" fill="#fff" stroke="#df1f1f" stroke-width="1.3"/>
<circle cx="445.1" cy="290.3" r="2.9" fill="#fff" stroke="#df1f1f" stroke-width="1.3"/>
<circle cx="448.5" cy="312.9" r="3.95" fill="#d8352e" stroke="#de1a1a" stroke-width="0.9"/>
<circle cx="450.3" cy="302.2" r="3.95" fill="#d8352e" stroke="#de1a1a" stroke-width="0.9"/>
<circle cx="451.2" cy="283.0" r="2.9" fill="#fff" stroke="#df1f1f" stroke-width="1.3"/>
<circle cx="453.0" cy="332.4" r="2.9" fill="#fff" stroke="#df1f1f" stroke-width="1.3"/>
<circle cx="454.8" cy="282.5" r="2.9" fill="#fff" stroke="#df1f1f" stroke-width="1.3"/>
<circle cx="461.0" cy="287.8" r="2.9" fill="#fff" stroke="#df1f1f" stroke-width="1.3"/>
<circle cx="463.4" cy="244.8" r="2.9" fill="#fff" stroke="#df1f1f" stroke-width="1.3"/>
<circle cx="466.9" cy="280.7" r="3.95" fill="#d8352e" stroke="#de1a1a" stroke-width="0.9"/>
<circle cx="468.2" cy="313.5" r="2.9" fill="#fff" stroke="#df1f1f" stroke-width="1.3"/>
<circle cx="470.5" cy="294.1" r="3.95" fill="#d8352e" stroke="#de1a1a" stroke-width="0.9"/>
<circle cx="474.8" cy="313.5" r="3.95" fill="#d8352e" stroke="#de1a1a" stroke-width="0.9"/>
<circle cx="475.9" cy="324.2" r="3.95" fill="#d8352e" stroke="#de1a1a" stroke-width="0.9"/>
<circle cx="478.0" cy="335.1" r="2.9" fill="#fff" stroke="#df1f1f" stroke-width="1.3"/>
<circle cx="480.7" cy="315.6" r="2.9" fill="#fff" stroke="#df1f1f" stroke-width="1.3"/>
<circle cx="485.6" cy="313.5" r="2.9" fill="#fff" stroke="#df1f1f" stroke-width="1.3"/>
<circle cx="487.0" cy="329.7" r="3.95" fill="#d8352e" stroke="#de1a1a" stroke-width="0.9"/>
<circle cx="487.9" cy="320.1" r="3.95" fill="#d8352e" stroke="#de1a1a" stroke-width="0.9"/>
<circle cx="489.7" cy="351.6" r="3.95" fill="#d8352e" stroke="#de1a1a" stroke-width="0.9"/>
<circle cx="493.3" cy="321.0" r="2.9" fill="#fff" stroke="#df1f1f" stroke-width="1.3"/>
<circle cx="497.8" cy="353.9" r="2.9" fill="#fff" stroke="#df1f1f" stroke-width="1.3"/>
<circle cx="501.3" cy="323.7" r="3.95" fill="#d8352e" stroke="#de1a1a" stroke-width="0.9"/>
<circle cx="503.1" cy="336.0" r="3.95" fill="#d8352e" stroke="#de1a1a" stroke-width="0.9"/>
<circle cx="504.0" cy="361.1" r="3.95" fill="#d8352e" stroke="#de1a1a" stroke-width="0.9"/>
<circle cx="505.8" cy="297.7" r="2.9" fill="#fff" stroke="#df1f1f" stroke-width="1.3"/>
<circle cx="506.7" cy="319.2" r="3.95" fill="#d8352e" stroke="#de1a1a" stroke-width="0.9"/>
<circle cx="507.6" cy="353.0" r="3.95" fill="#d8352e" stroke="#de1a1a" stroke-width="0.9"/>
<circle cx="509.4" cy="336.5" r="2.9" fill="#fff" stroke="#df1f1f" stroke-width="1.3"/>
<circle cx="511.2" cy="327.8" r="2.9" fill="#fff" stroke="#df1f1f" stroke-width="1.3"/>
<circle cx="515.7" cy="341.9" r="2.9" fill="#fff" stroke="#df1f1f" stroke-width="1.3"/>
<circle cx="520.7" cy="363.4" r="2.9" fill="#fff" stroke="#df1f1f" stroke-width="1.3"/>
<circle cx="522.0" cy="336.9" r="2.9" fill="#fff" stroke="#df1f1f" stroke-width="1.3"/>
<circle cx="522.9" cy="314.7" r="3.95" fill="#d8352e" stroke="#de1a1a" stroke-width="0.9"/>
</g>
<clipPath id="cc"><rect x="52" y="450.8" width="495" height="212.99999999999994"/></clipPath>
<g clip-path="url(#cc)">
<path d="M73.7,591.7 L75.5,610.9 L84.2,588.3 L88.2,557.0 L89.4,588.3 L96.9,595.6 L97.2,588.3 L100.7,566.5 L101.6,590.9 L102.4,569.1 L111.1,594.3 L116.7,622.7 L133.7,589.1 L136.9,604.8 L142.4,579.6 L144.2,595.2 L148.5,592.6 L149.0,534.3 L149.4,557.8 L158.7,596.4 L162.2,576.4 L165.7,574.6 L166.6,566.8 L167.4,592.0 L172.6,584.2 L173.5,566.8 L175.3,592.0 L178.7,597.3 L181.4,569.4 L183.1,575.5 L185.7,596.4 L191.5,569.4 L194.4,592.0 L198.8,584.7 L202.3,592.9 L207.5,600.7 L212.7,585.1 L214.5,589.4 L219.3,596.4 L219.7,588.6 L223.2,591.2 L227.5,593.8 L232.8,587.7 L236.2,556.3 L236.6,554.3 L239.7,586.0 L241.5,582.5 L245.0,585.1 L247.6,586.8 L247.6,598.1 L256.7,592.0 L261.1,590.6 L261.9,581.6 L265.4,592.4 L267.2,584.2 L268.0,586.8 L272.4,563.3 L275.0,594.7 L277.6,579.0 L287.2,579.0 L291.6,586.8 L292.4,592.0 L295.0,584.2 L295.9,571.1 L309.8,586.0 L311.6,562.4 L313.3,579.0 L316.8,589.4 L321.2,582.5 L324.7,585.1 L328.1,558.1 L328.1,564.2 L329.9,574.6 L333.4,587.7 L336.8,592.0 L338.6,586.8 L342.0,590.3 L342.9,584.2 L347.7,590.3 L351.2,592.9 L356.5,588.6 L359.1,582.5 L361.7,585.1 L365.2,582.5 L366.0,577.2 L369.5,580.7 L374.7,590.3 L375.6,568.5 L380.8,591.2 L386.9,590.6 L393.9,592.9 L402.6,597.3 L405.2,595.5 L407.8,588.6 L414.8,585.9 L415.7,573.7 L417.4,591.2 L422.7,552.8 L427.0,585.9 L427.0,592.0 L429.6,557.2 L431.4,566.8 L434.9,565.0 L435.7,576.4 L438.3,589.4 L440.1,578.1 L441.8,586.8 L445.8,589.8 L448.5,583.5 L449.4,571.9 L453.0,591.6 L460.1,592.5 L461.9,586.2 L467.3,578.2 L468.2,592.5 L470.9,569.2 L473.6,580.8 L476.3,580.0 L479.8,591.6 L485.2,592.5 L486.1,582.6 L492.4,593.4 L497.8,596.1 L500.5,598.8 L501.3,586.2 L503.1,578.2 L506.7,577.3 L511.2,575.5 L521.5,587.0 L522.9,549.5 L523.7,583.5 L525.5,584.4" fill="none" stroke="#3a6bbb" stroke-width="1.3" stroke-linejoin="round"/>
<path d="M74.6,578.7 L75.5,627.9 L77.7,591.7 L81.9,612.6 L83.0,578.2 L84.7,581.0 L85.9,595.6 L88.2,526.9 L88.9,572.3 L90.6,595.2 L93.4,529.7 L93.7,566.0 L96.9,604.3 L98.1,579.6 L100.3,514.3 L102.1,539.6 L102.4,583.9 L104.2,577.8 L106.8,486.2 L107.7,585.7 L111.1,586.5 L113.2,581.0 L116.0,594.3 L116.7,644.8 L121.6,606.5 L123.3,599.6 L127.7,610.9 L129.4,601.3 L132.3,559.6 L133.7,578.7 L135.5,588.3 L136.3,618.7 L137.2,558.7 L139.0,572.6 L139.8,583.9 L142.8,546.0 L144.2,624.4 L148.5,583.9 L150.2,463.6 L150.3,524.4 L157.8,685.0 L160.4,552.6 L162.2,594.7 L163.9,544.8 L166.5,525.1 L167.4,572.9 L173.0,539.0 L174.0,501.8 L175.3,576.4 L178.7,589.4 L181.4,560.7 L182.7,553.5 L185.7,600.7 L186.6,591.2 L191.4,554.3 L191.5,556.3 L194.4,597.3 L195.6,602.1 L200.1,551.2 L202.3,587.7 L204.0,569.4 L204.9,561.6 L206.6,582.5 L207.5,604.6 L212.6,461.8 L214.0,549.1 L214.5,577.2 L216.2,569.4 L219.3,614.7 L219.7,576.4 L222.3,582.5 L223.9,548.8 L226.3,590.0 L229.3,601.1 L230.1,577.2 L232.8,564.2 L236.6,495.6 L237.8,514.0 L239.7,565.0 L241.3,554.3 L241.5,558.1 L245.0,572.9 L246.7,559.8 L248.4,593.8 L252.4,600.7 L254.1,586.8 L255.0,561.6 L255.8,581.6 L257.6,557.2 L261.9,557.2 L264.0,549.5 L266.3,499.6 L267.2,560.7 L268.6,567.6 L271.5,498.7 L272.7,506.0 L273.7,549.5 L275.0,611.2 L275.9,586.8 L277.6,541.3 L279.7,572.9 L282.0,597.3 L282.8,592.0 L283.7,601.6 L286.3,526.5 L287.7,563.3 L288.9,572.9 L292.9,555.5 L293.6,578.1 L295.0,549.1 L296.3,517.0 L300.3,562.4 L301.1,591.2 L303.7,559.8 L306.4,595.5 L308.1,581.6 L309.7,536.1 L312.3,458.3 L313.7,539.0 L315.1,560.7 L316.8,578.1 L317.7,566.8 L318.6,612.6 L319.4,590.6 L321.2,568.5 L323.7,554.3 L324.5,451.7 L325.9,456.6 L327.7,479.2 L328.3,489.7 L329.7,522.2 L333.7,558.9 L335.0,534.9 L336.0,609.5 L337.0,510.0 L339.8,472.3 L341.0,525.1 L341.9,519.6 L343.3,540.8 L345.7,481.3 L346.4,584.2 L349.5,540.4 L352.6,535.6 L356.5,572.9 L358.2,566.8 L358.5,544.8 L362.6,564.2 L363.4,507.4 L365.2,566.8 L366.0,530.3 L366.9,557.2 L368.6,549.5 L370.0,543.6 L370.7,595.5 L372.1,481.3 L373.8,535.2 L375.2,524.4 L376.4,498.3 L380.0,573.7 L382.6,569.0 L387.4,547.7 L394.8,587.7 L401.4,591.2 L401.7,606.8 L403.5,565.0 L404.9,611.2 L405.5,554.3 L406.1,557.2 L407.0,579.0 L408.7,562.4 L414.8,561.6 L415.6,553.5 L418.2,545.3 L420.9,593.8 L421.8,581.6 L423.4,523.4 L424.4,572.0 L426.0,550.0 L427.9,575.5 L429.5,511.7 L430.3,490.9 L433.0,530.0 L435.6,553.5 L437.3,489.7 L438.2,483.0 L441.0,558.1 L441.8,564.2 L443.4,526.5 L444.4,570.3 L445.8,557.5 L448.5,543.2 L450.3,524.9 L451.2,520.8 L453.0,578.2 L454.8,535.7 L461.0,562.0 L462.8,585.3 L466.9,476.5 L468.2,561.1 L470.9,497.5 L474.5,563.8 L475.4,552.5 L478.0,576.4 L480.7,570.1 L487.0,553.6 L487.9,544.6 L488.8,587.1 L493.3,567.4 L497.8,603.8 L501.3,564.7 L503.1,567.4 L504.6,605.6 L505.8,531.5 L507.1,543.5 L507.6,596.1 L509.4,587.1 L510.3,561.5 L515.7,588.0 L521.1,603.8 L521.1,612.2 L522.0,587.1 L522.9,523.8 L524.6,507.3" fill="none" stroke="#df1f1f" stroke-width="1.3" stroke-dasharray="1.3 2"/>
<circle cx="73.7" cy="591.7" r="3.95" fill="#4677c0" stroke="#2c5db0" stroke-width="0.9"/>
<circle cx="75.5" cy="610.9" r="3.95" fill="#4677c0" stroke="#2c5db0" stroke-width="0.9"/>
<circle cx="84.2" cy="588.3" r="3.95" fill="#4677c0" stroke="#2c5db0" stroke-width="0.9"/>
<circle cx="88.2" cy="557.0" r="3.95" fill="#4677c0" stroke="#2c5db0" stroke-width="0.9"/>
<circle cx="89.4" cy="588.3" r="2.9" fill="#fff" stroke="#3a6bbb" stroke-width="1.3"/>
<circle cx="96.9" cy="595.6" r="2.9" fill="#fff" stroke="#3a6bbb" stroke-width="1.3"/>
<circle cx="97.2" cy="588.3" r="3.95" fill="#4677c0" stroke="#2c5db0" stroke-width="0.9"/>
<circle cx="100.7" cy="566.5" r="3.95" fill="#4677c0" stroke="#2c5db0" stroke-width="0.9"/>
<circle cx="101.6" cy="590.9" r="3.95" fill="#4677c0" stroke="#2c5db0" stroke-width="0.9"/>
<circle cx="102.4" cy="569.1" r="3.95" fill="#4677c0" stroke="#2c5db0" stroke-width="0.9"/>
<circle cx="111.1" cy="594.3" r="3.95" fill="#4677c0" stroke="#2c5db0" stroke-width="0.9"/>
<circle cx="116.7" cy="622.7" r="3.95" fill="#4677c0" stroke="#2c5db0" stroke-width="0.9"/>
<circle cx="133.7" cy="589.1" r="2.9" fill="#fff" stroke="#3a6bbb" stroke-width="1.3"/>
<circle cx="136.9" cy="604.8" r="2.9" fill="#fff" stroke="#3a6bbb" stroke-width="1.3"/>
<circle cx="142.4" cy="579.6" r="3.95" fill="#4677c0" stroke="#2c5db0" stroke-width="0.9"/>
<circle cx="144.2" cy="595.2" r="2.9" fill="#fff" stroke="#3a6bbb" stroke-width="1.3"/>
<circle cx="148.5" cy="592.6" r="2.9" fill="#fff" stroke="#3a6bbb" stroke-width="1.3"/>
<circle cx="149.0" cy="534.3" r="3.95" fill="#4677c0" stroke="#2c5db0" stroke-width="0.9"/>
<circle cx="149.4" cy="557.8" r="2.9" fill="#fff" stroke="#3a6bbb" stroke-width="1.3"/>
<circle cx="158.7" cy="596.4" r="2.9" fill="#fff" stroke="#3a6bbb" stroke-width="1.3"/>
<circle cx="162.2" cy="576.4" r="3.95" fill="#4677c0" stroke="#2c5db0" stroke-width="0.9"/>
<circle cx="165.7" cy="574.6" r="3.95" fill="#4677c0" stroke="#2c5db0" stroke-width="0.9"/>
<circle cx="166.6" cy="566.8" r="3.95" fill="#4677c0" stroke="#2c5db0" stroke-width="0.9"/>
<circle cx="167.4" cy="592.0" r="2.9" fill="#fff" stroke="#3a6bbb" stroke-width="1.3"/>
<circle cx="172.6" cy="584.2" r="2.9" fill="#fff" stroke="#3a6bbb" stroke-width="1.3"/>
<circle cx="173.5" cy="566.8" r="3.95" fill="#4677c0" stroke="#2c5db0" stroke-width="0.9"/>
<circle cx="175.3" cy="592.0" r="2.9" fill="#fff" stroke="#3a6bbb" stroke-width="1.3"/>
<circle cx="178.7" cy="597.3" r="2.9" fill="#fff" stroke="#3a6bbb" stroke-width="1.3"/>
<circle cx="181.4" cy="569.4" r="3.95" fill="#4677c0" stroke="#2c5db0" stroke-width="0.9"/>
<circle cx="183.1" cy="575.5" r="3.95" fill="#4677c0" stroke="#2c5db0" stroke-width="0.9"/>
<circle cx="185.7" cy="596.4" r="3.95" fill="#4677c0" stroke="#2c5db0" stroke-width="0.9"/>
<circle cx="191.5" cy="569.4" r="3.95" fill="#4677c0" stroke="#2c5db0" stroke-width="0.9"/>
<circle cx="194.4" cy="592.0" r="2.9" fill="#fff" stroke="#3a6bbb" stroke-width="1.3"/>
<circle cx="198.8" cy="584.7" r="2.9" fill="#fff" stroke="#3a6bbb" stroke-width="1.3"/>
<circle cx="202.3" cy="592.9" r="2.9" fill="#fff" stroke="#3a6bbb" stroke-width="1.3"/>
<circle cx="207.5" cy="600.7" r="2.9" fill="#fff" stroke="#3a6bbb" stroke-width="1.3"/>
<circle cx="212.7" cy="585.1" r="2.9" fill="#fff" stroke="#3a6bbb" stroke-width="1.3"/>
<circle cx="214.5" cy="589.4" r="3.95" fill="#4677c0" stroke="#2c5db0" stroke-width="0.9"/>
<circle cx="219.3" cy="596.4" r="2.9" fill="#fff" stroke="#3a6bbb" stroke-width="1.3"/>
<circle cx="219.7" cy="588.6" r="3.95" fill="#4677c0" stroke="#2c5db0" stroke-width="0.9"/>
<circle cx="223.2" cy="591.2" r="3.95" fill="#4677c0" stroke="#2c5db0" stroke-width="0.9"/>
<circle cx="227.5" cy="593.8" r="3.95" fill="#4677c0" stroke="#2c5db0" stroke-width="0.9"/>
<circle cx="232.8" cy="587.7" r="2.9" fill="#fff" stroke="#3a6bbb" stroke-width="1.3"/>
<circle cx="236.2" cy="556.3" r="3.95" fill="#4677c0" stroke="#2c5db0" stroke-width="0.9"/>
<circle cx="236.6" cy="554.3" r="3.95" fill="#4677c0" stroke="#2c5db0" stroke-width="0.9"/>
<circle cx="239.7" cy="586.0" r="2.9" fill="#fff" stroke="#3a6bbb" stroke-width="1.3"/>
<circle cx="241.5" cy="582.5" r="3.95" fill="#4677c0" stroke="#2c5db0" stroke-width="0.9"/>
<circle cx="245.0" cy="585.1" r="3.95" fill="#4677c0" stroke="#2c5db0" stroke-width="0.9"/>
<circle cx="247.6" cy="586.8" r="3.95" fill="#4677c0" stroke="#2c5db0" stroke-width="0.9"/>
<circle cx="247.6" cy="598.1" r="3.95" fill="#4677c0" stroke="#2c5db0" stroke-width="0.9"/>
<circle cx="256.7" cy="592.0" r="2.9" fill="#fff" stroke="#3a6bbb" stroke-width="1.3"/>
<circle cx="261.1" cy="590.6" r="2.9" fill="#fff" stroke="#3a6bbb" stroke-width="1.3"/>
<circle cx="261.9" cy="581.6" r="3.95" fill="#4677c0" stroke="#2c5db0" stroke-width="0.9"/>
<circle cx="265.4" cy="592.4" r="2.9" fill="#fff" stroke="#3a6bbb" stroke-width="1.3"/>
<circle cx="267.2" cy="584.2" r="3.95" fill="#4677c0" stroke="#2c5db0" stroke-width="0.9"/>
<circle cx="268.0" cy="586.8" r="3.95" fill="#4677c0" stroke="#2c5db0" stroke-width="0.9"/>
<circle cx="272.4" cy="563.3" r="2.9" fill="#fff" stroke="#3a6bbb" stroke-width="1.3"/>
<circle cx="275.0" cy="594.7" r="2.9" fill="#fff" stroke="#3a6bbb" stroke-width="1.3"/>
<circle cx="277.6" cy="579.0" r="2.9" fill="#fff" stroke="#3a6bbb" stroke-width="1.3"/>
<circle cx="287.2" cy="579.0" r="3.95" fill="#4677c0" stroke="#2c5db0" stroke-width="0.9"/>
<circle cx="291.6" cy="586.8" r="3.95" fill="#4677c0" stroke="#2c5db0" stroke-width="0.9"/>
<circle cx="292.4" cy="592.0" r="2.9" fill="#fff" stroke="#3a6bbb" stroke-width="1.3"/>
<circle cx="295.0" cy="584.2" r="3.95" fill="#4677c0" stroke="#2c5db0" stroke-width="0.9"/>
<circle cx="295.9" cy="571.1" r="2.9" fill="#fff" stroke="#3a6bbb" stroke-width="1.3"/>
<circle cx="309.8" cy="586.0" r="2.9" fill="#fff" stroke="#3a6bbb" stroke-width="1.3"/>
<circle cx="311.6" cy="562.4" r="2.9" fill="#fff" stroke="#3a6bbb" stroke-width="1.3"/>
<circle cx="313.3" cy="579.0" r="3.95" fill="#4677c0" stroke="#2c5db0" stroke-width="0.9"/>
<circle cx="316.8" cy="589.4" r="2.9" fill="#fff" stroke="#3a6bbb" stroke-width="1.3"/>
<circle cx="321.2" cy="582.5" r="2.9" fill="#fff" stroke="#3a6bbb" stroke-width="1.3"/>
<circle cx="324.7" cy="585.1" r="2.9" fill="#fff" stroke="#3a6bbb" stroke-width="1.3"/>
<circle cx="328.1" cy="558.1" r="2.9" fill="#fff" stroke="#3a6bbb" stroke-width="1.3"/>
<circle cx="328.1" cy="564.2" r="2.9" fill="#fff" stroke="#3a6bbb" stroke-width="1.3"/>
<circle cx="329.9" cy="574.6" r="2.9" fill="#fff" stroke="#3a6bbb" stroke-width="1.3"/>
<circle cx="333.4" cy="587.7" r="2.9" fill="#fff" stroke="#3a6bbb" stroke-width="1.3"/>
<circle cx="336.8" cy="592.0" r="2.9" fill="#fff" stroke="#3a6bbb" stroke-width="1.3"/>
<circle cx="338.6" cy="586.8" r="2.9" fill="#fff" stroke="#3a6bbb" stroke-width="1.3"/>
<circle cx="342.0" cy="590.3" r="2.9" fill="#fff" stroke="#3a6bbb" stroke-width="1.3"/>
<circle cx="342.9" cy="584.2" r="3.95" fill="#4677c0" stroke="#2c5db0" stroke-width="0.9"/>
<circle cx="347.7" cy="590.3" r="3.95" fill="#4677c0" stroke="#2c5db0" stroke-width="0.9"/>
<circle cx="351.2" cy="592.9" r="2.9" fill="#fff" stroke="#3a6bbb" stroke-width="1.3"/>
<circle cx="356.5" cy="588.6" r="3.95" fill="#4677c0" stroke="#2c5db0" stroke-width="0.9"/>
<circle cx="359.1" cy="582.5" r="2.9" fill="#fff" stroke="#3a6bbb" stroke-width="1.3"/>
<circle cx="361.7" cy="585.1" r="3.95" fill="#4677c0" stroke="#2c5db0" stroke-width="0.9"/>
<circle cx="365.2" cy="582.5" r="3.95" fill="#4677c0" stroke="#2c5db0" stroke-width="0.9"/>
<circle cx="366.0" cy="577.2" r="2.9" fill="#fff" stroke="#3a6bbb" stroke-width="1.3"/>
<circle cx="369.5" cy="580.7" r="3.95" fill="#4677c0" stroke="#2c5db0" stroke-width="0.9"/>
<circle cx="374.7" cy="590.3" r="2.9" fill="#fff" stroke="#3a6bbb" stroke-width="1.3"/>
<circle cx="375.6" cy="568.5" r="2.9" fill="#fff" stroke="#3a6bbb" stroke-width="1.3"/>
<circle cx="380.8" cy="591.2" r="2.9" fill="#fff" stroke="#3a6bbb" stroke-width="1.3"/>
<circle cx="386.9" cy="590.6" r="2.9" fill="#fff" stroke="#3a6bbb" stroke-width="1.3"/>
<circle cx="393.9" cy="592.9" r="3.95" fill="#4677c0" stroke="#2c5db0" stroke-width="0.9"/>
<circle cx="402.6" cy="597.3" r="2.9" fill="#fff" stroke="#3a6bbb" stroke-width="1.3"/>
<circle cx="405.2" cy="595.5" r="2.9" fill="#fff" stroke="#3a6bbb" stroke-width="1.3"/>
<circle cx="407.8" cy="588.6" r="2.9" fill="#fff" stroke="#3a6bbb" stroke-width="1.3"/>
<circle cx="414.8" cy="585.9" r="3.95" fill="#4677c0" stroke="#2c5db0" stroke-width="0.9"/>
<circle cx="415.7" cy="573.7" r="3.95" fill="#4677c0" stroke="#2c5db0" stroke-width="0.9"/>
<circle cx="417.4" cy="591.2" r="2.9" fill="#fff" stroke="#3a6bbb" stroke-width="1.3"/>
<circle cx="422.7" cy="552.8" r="2.9" fill="#fff" stroke="#3a6bbb" stroke-width="1.3"/>
<circle cx="427.0" cy="585.9" r="2.9" fill="#fff" stroke="#3a6bbb" stroke-width="1.3"/>
<circle cx="427.0" cy="592.0" r="2.9" fill="#fff" stroke="#3a6bbb" stroke-width="1.3"/>
<circle cx="429.6" cy="557.2" r="2.9" fill="#fff" stroke="#3a6bbb" stroke-width="1.3"/>
<circle cx="431.4" cy="566.8" r="3.95" fill="#4677c0" stroke="#2c5db0" stroke-width="0.9"/>
<circle cx="434.9" cy="565.0" r="3.95" fill="#4677c0" stroke="#2c5db0" stroke-width="0.9"/>
<circle cx="435.7" cy="576.4" r="2.9" fill="#fff" stroke="#3a6bbb" stroke-width="1.3"/>
<circle cx="438.3" cy="589.4" r="2.9" fill="#fff" stroke="#3a6bbb" stroke-width="1.3"/>
<circle cx="440.1" cy="578.1" r="3.95" fill="#4677c0" stroke="#2c5db0" stroke-width="0.9"/>
<circle cx="441.8" cy="586.8" r="2.9" fill="#fff" stroke="#3a6bbb" stroke-width="1.3"/>
<circle cx="445.8" cy="589.8" r="2.9" fill="#fff" stroke="#3a6bbb" stroke-width="1.3"/>
<circle cx="448.5" cy="583.5" r="3.95" fill="#4677c0" stroke="#2c5db0" stroke-width="0.9"/>
<circle cx="449.4" cy="571.9" r="3.95" fill="#4677c0" stroke="#2c5db0" stroke-width="0.9"/>
<circle cx="453.0" cy="591.6" r="2.9" fill="#fff" stroke="#3a6bbb" stroke-width="1.3"/>
<circle cx="460.1" cy="592.5" r="2.9" fill="#fff" stroke="#3a6bbb" stroke-width="1.3"/>
<circle cx="461.9" cy="586.2" r="2.9" fill="#fff" stroke="#3a6bbb" stroke-width="1.3"/>
<circle cx="467.3" cy="578.2" r="3.95" fill="#4677c0" stroke="#2c5db0" stroke-width="0.9"/>
<circle cx="468.2" cy="592.5" r="2.9" fill="#fff" stroke="#3a6bbb" stroke-width="1.3"/>
<circle cx="470.9" cy="569.2" r="3.95" fill="#4677c0" stroke="#2c5db0" stroke-width="0.9"/>
<circle cx="473.6" cy="580.8" r="3.95" fill="#4677c0" stroke="#2c5db0" stroke-width="0.9"/>
<circle cx="476.3" cy="580.0" r="3.95" fill="#4677c0" stroke="#2c5db0" stroke-width="0.9"/>
<circle cx="479.8" cy="591.6" r="2.9" fill="#fff" stroke="#3a6bbb" stroke-width="1.3"/>
<circle cx="485.2" cy="592.5" r="2.9" fill="#fff" stroke="#3a6bbb" stroke-width="1.3"/>
<circle cx="486.1" cy="582.6" r="3.95" fill="#4677c0" stroke="#2c5db0" stroke-width="0.9"/>
<circle cx="492.4" cy="593.4" r="2.9" fill="#fff" stroke="#3a6bbb" stroke-width="1.3"/>
<circle cx="497.8" cy="596.1" r="2.9" fill="#fff" stroke="#3a6bbb" stroke-width="1.3"/>
<circle cx="500.5" cy="598.8" r="2.9" fill="#fff" stroke="#3a6bbb" stroke-width="1.3"/>
<circle cx="501.3" cy="586.2" r="3.95" fill="#4677c0" stroke="#2c5db0" stroke-width="0.9"/>
<circle cx="503.1" cy="578.2" r="3.95" fill="#4677c0" stroke="#2c5db0" stroke-width="0.9"/>
<circle cx="506.7" cy="577.3" r="3.95" fill="#4677c0" stroke="#2c5db0" stroke-width="0.9"/>
<circle cx="511.2" cy="575.5" r="2.9" fill="#fff" stroke="#3a6bbb" stroke-width="1.3"/>
<circle cx="521.5" cy="587.0" r="2.9" fill="#fff" stroke="#3a6bbb" stroke-width="1.3"/>
<circle cx="522.9" cy="549.5" r="3.95" fill="#4677c0" stroke="#2c5db0" stroke-width="0.9"/>
<circle cx="523.7" cy="583.5" r="2.9" fill="#fff" stroke="#3a6bbb" stroke-width="1.3"/>
<circle cx="525.5" cy="584.4" r="2.9" fill="#fff" stroke="#3a6bbb" stroke-width="1.3"/>
<circle cx="74.6" cy="578.7" r="3.95" fill="#d8352e" stroke="#de1a1a" stroke-width="0.9"/>
<circle cx="75.5" cy="627.9" r="3.95" fill="#d8352e" stroke="#de1a1a" stroke-width="0.9"/>
<circle cx="77.7" cy="591.7" r="3.95" fill="#d8352e" stroke="#de1a1a" stroke-width="0.9"/>
<circle cx="81.9" cy="612.6" r="2.9" fill="#fff" stroke="#df1f1f" stroke-width="1.3"/>
<circle cx="83.0" cy="578.2" r="2.9" fill="#fff" stroke="#df1f1f" stroke-width="1.3"/>
<circle cx="84.7" cy="581.0" r="3.95" fill="#d8352e" stroke="#de1a1a" stroke-width="0.9"/>
<circle cx="85.9" cy="595.6" r="2.9" fill="#fff" stroke="#df1f1f" stroke-width="1.3"/>
<circle cx="88.2" cy="526.9" r="3.95" fill="#d8352e" stroke="#de1a1a" stroke-width="0.9"/>
<circle cx="88.9" cy="572.3" r="2.9" fill="#fff" stroke="#df1f1f" stroke-width="1.3"/>
<circle cx="90.6" cy="595.2" r="2.9" fill="#fff" stroke="#df1f1f" stroke-width="1.3"/>
<circle cx="93.4" cy="529.7" r="2.9" fill="#fff" stroke="#df1f1f" stroke-width="1.3"/>
<circle cx="93.7" cy="566.0" r="2.9" fill="#fff" stroke="#df1f1f" stroke-width="1.3"/>
<circle cx="96.9" cy="604.3" r="2.9" fill="#fff" stroke="#df1f1f" stroke-width="1.3"/>
<circle cx="98.1" cy="579.6" r="3.95" fill="#d8352e" stroke="#de1a1a" stroke-width="0.9"/>
<circle cx="100.3" cy="514.3" r="3.95" fill="#d8352e" stroke="#de1a1a" stroke-width="0.9"/>
<circle cx="102.1" cy="539.6" r="3.95" fill="#d8352e" stroke="#de1a1a" stroke-width="0.9"/>
<circle cx="102.4" cy="583.9" r="3.95" fill="#d8352e" stroke="#de1a1a" stroke-width="0.9"/>
<circle cx="104.2" cy="577.8" r="3.95" fill="#d8352e" stroke="#de1a1a" stroke-width="0.9"/>
<circle cx="106.8" cy="486.2" r="2.9" fill="#fff" stroke="#df1f1f" stroke-width="1.3"/>
<circle cx="107.7" cy="585.7" r="3.95" fill="#d8352e" stroke="#de1a1a" stroke-width="0.9"/>
<circle cx="111.1" cy="586.5" r="3.95" fill="#d8352e" stroke="#de1a1a" stroke-width="0.9"/>
<circle cx="113.2" cy="581.0" r="2.9" fill="#fff" stroke="#df1f1f" stroke-width="1.3"/>
<circle cx="116.0" cy="594.3" r="2.9" fill="#fff" stroke="#df1f1f" stroke-width="1.3"/>
<circle cx="116.7" cy="644.8" r="3.95" fill="#d8352e" stroke="#de1a1a" stroke-width="0.9"/>
<circle cx="121.6" cy="606.5" r="2.9" fill="#fff" stroke="#df1f1f" stroke-width="1.3"/>
<circle cx="123.3" cy="599.6" r="3.95" fill="#d8352e" stroke="#de1a1a" stroke-width="0.9"/>
<circle cx="127.7" cy="610.9" r="2.9" fill="#fff" stroke="#df1f1f" stroke-width="1.3"/>
<circle cx="129.4" cy="601.3" r="3.95" fill="#d8352e" stroke="#de1a1a" stroke-width="0.9"/>
<circle cx="132.3" cy="559.6" r="2.9" fill="#fff" stroke="#df1f1f" stroke-width="1.3"/>
<circle cx="133.7" cy="578.7" r="3.95" fill="#d8352e" stroke="#de1a1a" stroke-width="0.9"/>
<circle cx="135.5" cy="588.3" r="3.95" fill="#d8352e" stroke="#de1a1a" stroke-width="0.9"/>
<circle cx="136.3" cy="618.7" r="2.9" fill="#fff" stroke="#df1f1f" stroke-width="1.3"/>
<circle cx="137.2" cy="558.7" r="3.95" fill="#d8352e" stroke="#de1a1a" stroke-width="0.9"/>
<circle cx="139.0" cy="572.6" r="2.9" fill="#fff" stroke="#df1f1f" stroke-width="1.3"/>
<circle cx="139.8" cy="583.9" r="3.95" fill="#d8352e" stroke="#de1a1a" stroke-width="0.9"/>
<circle cx="142.8" cy="546.0" r="3.95" fill="#d8352e" stroke="#de1a1a" stroke-width="0.9"/>
<circle cx="144.2" cy="624.4" r="2.9" fill="#fff" stroke="#df1f1f" stroke-width="1.3"/>
<circle cx="148.5" cy="583.9" r="2.9" fill="#fff" stroke="#df1f1f" stroke-width="1.3"/>
<circle cx="150.2" cy="463.6" r="3.95" fill="#d8352e" stroke="#de1a1a" stroke-width="0.9"/>
<circle cx="150.3" cy="524.4" r="2.9" fill="#fff" stroke="#df1f1f" stroke-width="1.3"/>
<circle cx="157.8" cy="685.0" r="3.95" fill="#d8352e" stroke="#de1a1a" stroke-width="0.9"/>
<circle cx="160.4" cy="552.6" r="3.95" fill="#d8352e" stroke="#de1a1a" stroke-width="0.9"/>
<circle cx="162.2" cy="594.7" r="2.9" fill="#fff" stroke="#df1f1f" stroke-width="1.3"/>
<circle cx="163.9" cy="544.8" r="3.95" fill="#d8352e" stroke="#de1a1a" stroke-width="0.9"/>
<circle cx="166.5" cy="525.1" r="3.95" fill="#d8352e" stroke="#de1a1a" stroke-width="0.9"/>
<circle cx="167.4" cy="572.9" r="2.9" fill="#fff" stroke="#df1f1f" stroke-width="1.3"/>
<circle cx="173.0" cy="539.0" r="2.9" fill="#fff" stroke="#df1f1f" stroke-width="1.3"/>
<circle cx="174.0" cy="501.8" r="3.95" fill="#d8352e" stroke="#de1a1a" stroke-width="0.9"/>
<circle cx="175.3" cy="576.4" r="2.9" fill="#fff" stroke="#df1f1f" stroke-width="1.3"/>
<circle cx="178.7" cy="589.4" r="2.9" fill="#fff" stroke="#df1f1f" stroke-width="1.3"/>
<circle cx="181.4" cy="560.7" r="3.95" fill="#d8352e" stroke="#de1a1a" stroke-width="0.9"/>
<circle cx="182.7" cy="553.5" r="3.95" fill="#d8352e" stroke="#de1a1a" stroke-width="0.9"/>
<circle cx="185.7" cy="600.7" r="3.95" fill="#d8352e" stroke="#de1a1a" stroke-width="0.9"/>
<circle cx="186.6" cy="591.2" r="2.9" fill="#fff" stroke="#df1f1f" stroke-width="1.3"/>
<circle cx="191.4" cy="554.3" r="3.95" fill="#d8352e" stroke="#de1a1a" stroke-width="0.9"/>
<circle cx="191.5" cy="556.3" r="3.95" fill="#d8352e" stroke="#de1a1a" stroke-width="0.9"/>
<circle cx="194.4" cy="597.3" r="2.9" fill="#fff" stroke="#df1f1f" stroke-width="1.3"/>
<circle cx="195.6" cy="602.1" r="2.9" fill="#fff" stroke="#df1f1f" stroke-width="1.3"/>
<circle cx="200.1" cy="551.2" r="2.9" fill="#fff" stroke="#df1f1f" stroke-width="1.3"/>
<circle cx="202.3" cy="587.7" r="2.9" fill="#fff" stroke="#df1f1f" stroke-width="1.3"/>
<circle cx="204.0" cy="569.4" r="2.9" fill="#fff" stroke="#df1f1f" stroke-width="1.3"/>
<circle cx="204.9" cy="561.6" r="2.9" fill="#fff" stroke="#df1f1f" stroke-width="1.3"/>
<circle cx="206.6" cy="582.5" r="2.9" fill="#fff" stroke="#df1f1f" stroke-width="1.3"/>
<circle cx="207.5" cy="604.6" r="2.9" fill="#fff" stroke="#df1f1f" stroke-width="1.3"/>
<circle cx="212.6" cy="461.8" r="2.9" fill="#fff" stroke="#df1f1f" stroke-width="1.3"/>
<circle cx="214.0" cy="549.1" r="2.9" fill="#fff" stroke="#df1f1f" stroke-width="1.3"/>
<circle cx="214.5" cy="577.2" r="3.95" fill="#d8352e" stroke="#de1a1a" stroke-width="0.9"/>
<circle cx="216.2" cy="569.4" r="3.95" fill="#d8352e" stroke="#de1a1a" stroke-width="0.9"/>
<circle cx="219.3" cy="614.7" r="2.9" fill="#fff" stroke="#df1f1f" stroke-width="1.3"/>
<circle cx="219.7" cy="576.4" r="3.95" fill="#d8352e" stroke="#de1a1a" stroke-width="0.9"/>
<circle cx="222.3" cy="582.5" r="2.9" fill="#fff" stroke="#df1f1f" stroke-width="1.3"/>
<circle cx="223.9" cy="548.8" r="2.9" fill="#fff" stroke="#df1f1f" stroke-width="1.3"/>
<circle cx="226.3" cy="590.0" r="3.95" fill="#d8352e" stroke="#de1a1a" stroke-width="0.9"/>
<circle cx="229.3" cy="601.1" r="2.9" fill="#fff" stroke="#df1f1f" stroke-width="1.3"/>
<circle cx="230.1" cy="577.2" r="2.9" fill="#fff" stroke="#df1f1f" stroke-width="1.3"/>
<circle cx="232.8" cy="564.2" r="2.9" fill="#fff" stroke="#df1f1f" stroke-width="1.3"/>
<circle cx="236.6" cy="495.6" r="3.95" fill="#d8352e" stroke="#de1a1a" stroke-width="0.9"/>
<circle cx="237.8" cy="514.0" r="2.9" fill="#fff" stroke="#df1f1f" stroke-width="1.3"/>
<circle cx="239.7" cy="565.0" r="2.9" fill="#fff" stroke="#df1f1f" stroke-width="1.3"/>
<circle cx="241.3" cy="554.3" r="2.9" fill="#fff" stroke="#df1f1f" stroke-width="1.3"/>
<circle cx="241.5" cy="558.1" r="3.95" fill="#d8352e" stroke="#de1a1a" stroke-width="0.9"/>
<circle cx="245.0" cy="572.9" r="2.9" fill="#fff" stroke="#df1f1f" stroke-width="1.3"/>
<circle cx="246.7" cy="559.8" r="3.95" fill="#d8352e" stroke="#de1a1a" stroke-width="0.9"/>
<circle cx="248.4" cy="593.8" r="3.95" fill="#d8352e" stroke="#de1a1a" stroke-width="0.9"/>
<circle cx="252.4" cy="600.7" r="2.9" fill="#fff" stroke="#df1f1f" stroke-width="1.3"/>
<circle cx="254.1" cy="586.8" r="2.9" fill="#fff" stroke="#df1f1f" stroke-width="1.3"/>
<circle cx="255.0" cy="561.6" r="2.9" fill="#fff" stroke="#df1f1f" stroke-width="1.3"/>
<circle cx="255.8" cy="581.6" r="2.9" fill="#fff" stroke="#df1f1f" stroke-width="1.3"/>
<circle cx="257.6" cy="557.2" r="2.9" fill="#fff" stroke="#df1f1f" stroke-width="1.3"/>
<circle cx="261.9" cy="557.2" r="3.95" fill="#d8352e" stroke="#de1a1a" stroke-width="0.9"/>
<circle cx="264.0" cy="549.5" r="2.9" fill="#fff" stroke="#df1f1f" stroke-width="1.3"/>
<circle cx="266.3" cy="499.6" r="3.95" fill="#d8352e" stroke="#de1a1a" stroke-width="0.9"/>
<circle cx="267.2" cy="560.7" r="3.95" fill="#d8352e" stroke="#de1a1a" stroke-width="0.9"/>
<circle cx="268.6" cy="567.6" r="3.95" fill="#d8352e" stroke="#de1a1a" stroke-width="0.9"/>
<circle cx="271.5" cy="498.7" r="2.9" fill="#fff" stroke="#df1f1f" stroke-width="1.3"/>
<circle cx="272.7" cy="506.0" r="2.9" fill="#fff" stroke="#df1f1f" stroke-width="1.3"/>
<circle cx="273.7" cy="549.5" r="2.9" fill="#fff" stroke="#df1f1f" stroke-width="1.3"/>
<circle cx="275.0" cy="611.2" r="2.9" fill="#fff" stroke="#df1f1f" stroke-width="1.3"/>
<circle cx="275.9" cy="586.8" r="2.9" fill="#fff" stroke="#df1f1f" stroke-width="1.3"/>
<circle cx="277.6" cy="541.3" r="2.9" fill="#fff" stroke="#df1f1f" stroke-width="1.3"/>
<circle cx="279.7" cy="572.9" r="2.9" fill="#fff" stroke="#df1f1f" stroke-width="1.3"/>
<circle cx="282.0" cy="597.3" r="2.9" fill="#fff" stroke="#df1f1f" stroke-width="1.3"/>
<circle cx="282.8" cy="592.0" r="2.9" fill="#fff" stroke="#df1f1f" stroke-width="1.3"/>
<circle cx="283.7" cy="601.6" r="2.9" fill="#fff" stroke="#df1f1f" stroke-width="1.3"/>
<circle cx="286.3" cy="526.5" r="3.95" fill="#d8352e" stroke="#de1a1a" stroke-width="0.9"/>
<circle cx="287.7" cy="563.3" r="2.9" fill="#fff" stroke="#df1f1f" stroke-width="1.3"/>
<circle cx="288.9" cy="572.9" r="3.95" fill="#d8352e" stroke="#de1a1a" stroke-width="0.9"/>
<circle cx="292.9" cy="555.5" r="2.9" fill="#fff" stroke="#df1f1f" stroke-width="1.3"/>
<circle cx="293.6" cy="578.1" r="2.9" fill="#fff" stroke="#df1f1f" stroke-width="1.3"/>
<circle cx="295.0" cy="549.1" r="3.95" fill="#d8352e" stroke="#de1a1a" stroke-width="0.9"/>
<circle cx="296.3" cy="517.0" r="2.9" fill="#fff" stroke="#df1f1f" stroke-width="1.3"/>
<circle cx="300.3" cy="562.4" r="2.9" fill="#fff" stroke="#df1f1f" stroke-width="1.3"/>
<circle cx="301.1" cy="591.2" r="2.9" fill="#fff" stroke="#df1f1f" stroke-width="1.3"/>
<circle cx="303.7" cy="559.8" r="2.9" fill="#fff" stroke="#df1f1f" stroke-width="1.3"/>
<circle cx="306.4" cy="595.5" r="3.95" fill="#d8352e" stroke="#de1a1a" stroke-width="0.9"/>
<circle cx="308.1" cy="581.6" r="2.9" fill="#fff" stroke="#df1f1f" stroke-width="1.3"/>
<circle cx="309.7" cy="536.1" r="2.9" fill="#fff" stroke="#df1f1f" stroke-width="1.3"/>
<circle cx="312.3" cy="458.3" r="2.9" fill="#fff" stroke="#df1f1f" stroke-width="1.3"/>
<circle cx="313.7" cy="539.0" r="3.95" fill="#d8352e" stroke="#de1a1a" stroke-width="0.9"/>
<circle cx="315.1" cy="560.7" r="2.9" fill="#fff" stroke="#df1f1f" stroke-width="1.3"/>
<circle cx="316.8" cy="578.1" r="2.9" fill="#fff" stroke="#df1f1f" stroke-width="1.3"/>
<circle cx="317.7" cy="566.8" r="2.9" fill="#fff" stroke="#df1f1f" stroke-width="1.3"/>
<circle cx="318.6" cy="612.6" r="2.9" fill="#fff" stroke="#df1f1f" stroke-width="1.3"/>
<circle cx="319.4" cy="590.6" r="2.9" fill="#fff" stroke="#df1f1f" stroke-width="1.3"/>
<circle cx="321.2" cy="568.5" r="2.9" fill="#fff" stroke="#df1f1f" stroke-width="1.3"/>
<circle cx="323.7" cy="554.3" r="2.9" fill="#fff" stroke="#df1f1f" stroke-width="1.3"/>
<circle cx="324.5" cy="451.7" r="2.9" fill="#fff" stroke="#df1f1f" stroke-width="1.3"/>
<circle cx="325.9" cy="456.6" r="2.9" fill="#fff" stroke="#df1f1f" stroke-width="1.3"/>
<circle cx="327.7" cy="479.2" r="2.9" fill="#fff" stroke="#df1f1f" stroke-width="1.3"/>
<circle cx="328.3" cy="489.7" r="2.9" fill="#fff" stroke="#df1f1f" stroke-width="1.3"/>
<circle cx="329.7" cy="522.2" r="2.9" fill="#fff" stroke="#df1f1f" stroke-width="1.3"/>
<circle cx="333.7" cy="558.9" r="2.9" fill="#fff" stroke="#df1f1f" stroke-width="1.3"/>
<circle cx="335.0" cy="534.9" r="2.9" fill="#fff" stroke="#df1f1f" stroke-width="1.3"/>
<circle cx="336.0" cy="609.5" r="2.9" fill="#fff" stroke="#df1f1f" stroke-width="1.3"/>
<circle cx="337.0" cy="510.0" r="2.9" fill="#fff" stroke="#df1f1f" stroke-width="1.3"/>
<circle cx="339.8" cy="472.3" r="2.9" fill="#fff" stroke="#df1f1f" stroke-width="1.3"/>
<circle cx="341.0" cy="525.1" r="2.9" fill="#fff" stroke="#df1f1f" stroke-width="1.3"/>
<circle cx="341.9" cy="519.6" r="2.9" fill="#fff" stroke="#df1f1f" stroke-width="1.3"/>
<circle cx="343.3" cy="540.8" r="3.95" fill="#d8352e" stroke="#de1a1a" stroke-width="0.9"/>
<circle cx="345.7" cy="481.3" r="2.9" fill="#fff" stroke="#df1f1f" stroke-width="1.3"/>
<circle cx="346.4" cy="584.2" r="3.95" fill="#d8352e" stroke="#de1a1a" stroke-width="0.9"/>
<circle cx="349.5" cy="540.4" r="3.95" fill="#d8352e" stroke="#de1a1a" stroke-width="0.9"/>
<circle cx="352.6" cy="535.6" r="2.9" fill="#fff" stroke="#df1f1f" stroke-width="1.3"/>
<circle cx="356.5" cy="572.9" r="2.9" fill="#fff" stroke="#df1f1f" stroke-width="1.3"/>
<circle cx="358.2" cy="566.8" r="3.95" fill="#d8352e" stroke="#de1a1a" stroke-width="0.9"/>
<circle cx="358.5" cy="544.8" r="2.9" fill="#fff" stroke="#df1f1f" stroke-width="1.3"/>
<circle cx="362.6" cy="564.2" r="3.95" fill="#d8352e" stroke="#de1a1a" stroke-width="0.9"/>
<circle cx="363.4" cy="507.4" r="3.95" fill="#d8352e" stroke="#de1a1a" stroke-width="0.9"/>
<circle cx="365.2" cy="566.8" r="3.95" fill="#d8352e" stroke="#de1a1a" stroke-width="0.9"/>
<circle cx="366.0" cy="530.3" r="2.9" fill="#fff" stroke="#df1f1f" stroke-width="1.3"/>
<circle cx="366.9" cy="557.2" r="2.9" fill="#fff" stroke="#df1f1f" stroke-width="1.3"/>
<circle cx="368.6" cy="549.5" r="2.9" fill="#fff" stroke="#df1f1f" stroke-width="1.3"/>
<circle cx="370.0" cy="543.6" r="3.95" fill="#d8352e" stroke="#de1a1a" stroke-width="0.9"/>
<circle cx="370.7" cy="595.5" r="2.9" fill="#fff" stroke="#df1f1f" stroke-width="1.3"/>
<circle cx="372.1" cy="481.3" r="2.9" fill="#fff" stroke="#df1f1f" stroke-width="1.3"/>
<circle cx="373.8" cy="535.2" r="2.9" fill="#fff" stroke="#df1f1f" stroke-width="1.3"/>
<circle cx="375.2" cy="524.4" r="2.9" fill="#fff" stroke="#df1f1f" stroke-width="1.3"/>
<circle cx="376.4" cy="498.3" r="2.9" fill="#fff" stroke="#df1f1f" stroke-width="1.3"/>
<circle cx="380.0" cy="573.7" r="2.9" fill="#fff" stroke="#df1f1f" stroke-width="1.3"/>
<circle cx="382.6" cy="569.0" r="2.9" fill="#fff" stroke="#df1f1f" stroke-width="1.3"/>
<circle cx="387.4" cy="547.7" r="2.9" fill="#fff" stroke="#df1f1f" stroke-width="1.3"/>
<circle cx="394.8" cy="587.7" r="3.95" fill="#d8352e" stroke="#de1a1a" stroke-width="0.9"/>
<circle cx="401.4" cy="591.2" r="2.9" fill="#fff" stroke="#df1f1f" stroke-width="1.3"/>
<circle cx="401.7" cy="606.8" r="2.9" fill="#fff" stroke="#df1f1f" stroke-width="1.3"/>
<circle cx="403.5" cy="565.0" r="2.9" fill="#fff" stroke="#df1f1f" stroke-width="1.3"/>
<circle cx="404.9" cy="611.2" r="2.9" fill="#fff" stroke="#df1f1f" stroke-width="1.3"/>
<circle cx="405.5" cy="554.3" r="3.95" fill="#d8352e" stroke="#de1a1a" stroke-width="0.9"/>
<circle cx="406.1" cy="557.2" r="2.9" fill="#fff" stroke="#df1f1f" stroke-width="1.3"/>
<circle cx="407.0" cy="579.0" r="2.9" fill="#fff" stroke="#df1f1f" stroke-width="1.3"/>
<circle cx="408.7" cy="562.4" r="2.9" fill="#fff" stroke="#df1f1f" stroke-width="1.3"/>
<circle cx="414.8" cy="561.6" r="3.95" fill="#d8352e" stroke="#de1a1a" stroke-width="0.9"/>
<circle cx="415.6" cy="553.5" r="3.95" fill="#d8352e" stroke="#de1a1a" stroke-width="0.9"/>
<circle cx="418.2" cy="545.3" r="2.9" fill="#fff" stroke="#df1f1f" stroke-width="1.3"/>
<circle cx="420.9" cy="593.8" r="2.9" fill="#fff" stroke="#df1f1f" stroke-width="1.3"/>
<circle cx="421.8" cy="581.6" r="2.9" fill="#fff" stroke="#df1f1f" stroke-width="1.3"/>
<circle cx="423.4" cy="523.4" r="2.9" fill="#fff" stroke="#df1f1f" stroke-width="1.3"/>
<circle cx="424.4" cy="572.0" r="2.9" fill="#fff" stroke="#df1f1f" stroke-width="1.3"/>
<circle cx="426.0" cy="550.0" r="2.9" fill="#fff" stroke="#df1f1f" stroke-width="1.3"/>
<circle cx="427.9" cy="575.5" r="2.9" fill="#fff" stroke="#df1f1f" stroke-width="1.3"/>
<circle cx="429.5" cy="511.7" r="2.9" fill="#fff" stroke="#df1f1f" stroke-width="1.3"/>
<circle cx="430.3" cy="490.9" r="3.95" fill="#d8352e" stroke="#de1a1a" stroke-width="0.9"/>
<circle cx="433.0" cy="530.0" r="3.95" fill="#d8352e" stroke="#de1a1a" stroke-width="0.9"/>
<circle cx="435.6" cy="553.5" r="2.9" fill="#fff" stroke="#df1f1f" stroke-width="1.3"/>
<circle cx="437.3" cy="489.7" r="3.95" fill="#d8352e" stroke="#de1a1a" stroke-width="0.9"/>
<circle cx="438.2" cy="483.0" r="2.9" fill="#fff" stroke="#df1f1f" stroke-width="1.3"/>
<circle cx="441.0" cy="558.1" r="3.95" fill="#d8352e" stroke="#de1a1a" stroke-width="0.9"/>
<circle cx="441.8" cy="564.2" r="2.9" fill="#fff" stroke="#df1f1f" stroke-width="1.3"/>
<circle cx="443.4" cy="526.5" r="2.9" fill="#fff" stroke="#df1f1f" stroke-width="1.3"/>
<circle cx="444.4" cy="570.3" r="2.9" fill="#fff" stroke="#df1f1f" stroke-width="1.3"/>
<circle cx="445.8" cy="557.5" r="2.9" fill="#fff" stroke="#df1f1f" stroke-width="1.3"/>
<circle cx="448.5" cy="543.2" r="3.95" fill="#d8352e" stroke="#de1a1a" stroke-width="0.9"/>
<circle cx="450.3" cy="524.9" r="3.95" fill="#d8352e" stroke="#de1a1a" stroke-width="0.9"/>
<circle cx="451.2" cy="520.8" r="2.9" fill="#fff" stroke="#df1f1f" stroke-width="1.3"/>
<circle cx="453.0" cy="578.2" r="2.9" fill="#fff" stroke="#df1f1f" stroke-width="1.3"/>
<circle cx="454.8" cy="535.7" r="2.9" fill="#fff" stroke="#df1f1f" stroke-width="1.3"/>
<circle cx="461.0" cy="562.0" r="2.9" fill="#fff" stroke="#df1f1f" stroke-width="1.3"/>
<circle cx="462.8" cy="585.3" r="2.9" fill="#fff" stroke="#df1f1f" stroke-width="1.3"/>
<circle cx="466.9" cy="476.5" r="3.95" fill="#d8352e" stroke="#de1a1a" stroke-width="0.9"/>
<circle cx="468.2" cy="561.1" r="2.9" fill="#fff" stroke="#df1f1f" stroke-width="1.3"/>
<circle cx="470.9" cy="497.5" r="3.95" fill="#d8352e" stroke="#de1a1a" stroke-width="0.9"/>
<circle cx="474.5" cy="563.8" r="3.95" fill="#d8352e" stroke="#de1a1a" stroke-width="0.9"/>
<circle cx="475.4" cy="552.5" r="3.95" fill="#d8352e" stroke="#de1a1a" stroke-width="0.9"/>
<circle cx="478.0" cy="576.4" r="2.9" fill="#fff" stroke="#df1f1f" stroke-width="1.3"/>
<circle cx="480.7" cy="570.1" r="2.9" fill="#fff" stroke="#df1f1f" stroke-width="1.3"/>
<circle cx="487.0" cy="553.6" r="3.95" fill="#d8352e" stroke="#de1a1a" stroke-width="0.9"/>
<circle cx="487.9" cy="544.6" r="3.95" fill="#d8352e" stroke="#de1a1a" stroke-width="0.9"/>
<circle cx="488.8" cy="587.1" r="3.95" fill="#d8352e" stroke="#de1a1a" stroke-width="0.9"/>
<circle cx="493.3" cy="567.4" r="2.9" fill="#fff" stroke="#df1f1f" stroke-width="1.3"/>
<circle cx="497.8" cy="603.8" r="2.9" fill="#fff" stroke="#df1f1f" stroke-width="1.3"/>
<circle cx="501.3" cy="564.7" r="3.95" fill="#d8352e" stroke="#de1a1a" stroke-width="0.9"/>
<circle cx="503.1" cy="567.4" r="3.95" fill="#d8352e" stroke="#de1a1a" stroke-width="0.9"/>
<circle cx="504.6" cy="605.6" r="3.95" fill="#d8352e" stroke="#de1a1a" stroke-width="0.9"/>
<circle cx="505.8" cy="531.5" r="2.9" fill="#fff" stroke="#df1f1f" stroke-width="1.3"/>
<circle cx="507.1" cy="543.5" r="3.95" fill="#d8352e" stroke="#de1a1a" stroke-width="0.9"/>
<circle cx="507.6" cy="596.1" r="3.95" fill="#d8352e" stroke="#de1a1a" stroke-width="0.9"/>
<circle cx="509.4" cy="587.1" r="2.9" fill="#fff" stroke="#df1f1f" stroke-width="1.3"/>
<circle cx="510.3" cy="561.5" r="2.9" fill="#fff" stroke="#df1f1f" stroke-width="1.3"/>
<circle cx="515.7" cy="588.0" r="2.9" fill="#fff" stroke="#df1f1f" stroke-width="1.3"/>
<circle cx="521.1" cy="603.8" r="2.9" fill="#fff" stroke="#df1f1f" stroke-width="1.3"/>
<circle cx="521.1" cy="612.2" r="2.9" fill="#fff" stroke="#df1f1f" stroke-width="1.3"/>
<circle cx="522.0" cy="587.1" r="2.9" fill="#fff" stroke="#df1f1f" stroke-width="1.3"/>
<circle cx="522.9" cy="523.8" r="3.95" fill="#d8352e" stroke="#de1a1a" stroke-width="0.9"/>
<circle cx="524.6" cy="507.3" r="2.9" fill="#fff" stroke="#df1f1f" stroke-width="1.3"/>
<path d="M544.5,450 C544.30,450.17 544.13,447.83 543.3,451 C542.47,454.17 541.10,462.78 539.5,469 C537.90,475.22 535.62,482.53 533.7,488.3 C531.78,494.07 530.22,498.50 528,503.6 C525.78,508.70 523.27,514.43 520.4,518.9 C517.53,523.37 514.63,526.27 510.8,530.4 C506.97,534.53 502.20,540.20 497.4,543.7 C492.60,547.20 486.35,549.35 482,551.4 C477.65,553.45 474.82,554.18 471.3,556 C467.78,557.82 463.68,559.85 460.9,562.3 C458.12,564.75 456.00,568.42 454.6,570.7 C453.20,572.98 451.98,573.92 452.5,576 C453.02,578.08 455.45,580.97 457.7,583.2 C459.95,585.43 461.98,587.13 466,589.4 C470.02,591.67 476.38,594.37 481.8,596.8 C487.22,599.23 493.35,602.23 498.5,604 C503.65,605.77 508.42,605.90 512.7,607.4 C516.98,608.90 520.37,610.13 524.2,613 C528.03,615.87 532.83,620.77 535.7,624.6 C538.57,628.43 539.88,631.85 541.4,636 C542.92,640.15 543.87,644.83 544.8,649.5 C545.73,654.17 546.63,661.58 547,664 L547,664 L547,450 Z" fill="#df1f1f" fill-opacity="0.25" stroke="none"/>
<path d="M544.5,450 C544.30,450.17 544.13,447.83 543.3,451 C542.47,454.17 541.10,462.78 539.5,469 C537.90,475.22 535.62,482.53 533.7,488.3 C531.78,494.07 530.22,498.50 528,503.6 C525.78,508.70 523.27,514.43 520.4,518.9 C517.53,523.37 514.63,526.27 510.8,530.4 C506.97,534.53 502.20,540.20 497.4,543.7 C492.60,547.20 486.35,549.35 482,551.4 C477.65,553.45 474.82,554.18 471.3,556 C467.78,557.82 463.68,559.85 460.9,562.3 C458.12,564.75 456.00,568.42 454.6,570.7 C453.20,572.98 451.98,573.92 452.5,576 C453.02,578.08 455.45,580.97 457.7,583.2 C459.95,585.43 461.98,587.13 466,589.4 C470.02,591.67 476.38,594.37 481.8,596.8 C487.22,599.23 493.35,602.23 498.5,604 C503.65,605.77 508.42,605.90 512.7,607.4 C516.98,608.90 520.37,610.13 524.2,613 C528.03,615.87 532.83,620.77 535.7,624.6 C538.57,628.43 539.88,631.85 541.4,636 C542.92,640.15 543.87,644.83 544.8,649.5 C545.73,654.17 546.63,661.58 547,664" fill="none" stroke="#df1f1f" stroke-width="1.3" stroke-linejoin="round"/>
<path d="M546.6,451 C546.60,465.83 546.78,523.90 546.6,540 C546.42,556.10 546.48,544.77 545.5,547.6 C544.52,550.43 542.28,553.82 540.7,557 C539.12,560.18 537.27,563.98 536,566.7 C534.73,569.42 535.17,571.57 533.1,573.3 C531.03,575.03 526.78,575.98 523.6,577.1 C520.42,578.22 517.18,579.20 514,580 C510.82,580.80 507.67,581.27 504.5,581.9 C501.33,582.53 497.78,583.07 495,583.8 C492.22,584.53 492.18,585.40 487.8,586.3 C483.42,587.20 473.67,588.62 468.7,589.2 C463.73,589.78 456.70,589.23 458,589.8 C459.30,590.37 470.33,591.70 476.5,592.6 C482.67,593.50 488.75,594.13 495,595.2 C501.25,596.27 507.65,597.88 514,599 C520.35,600.12 528.33,600.62 533.1,601.9 C537.87,603.18 540.38,604.02 542.6,606.7 C544.82,609.38 545.73,608.45 546.4,618 C547.07,627.55 546.57,656.33 546.6,664 L547,664 L547,451 Z" fill="#3a6bbb" fill-opacity="0.25" stroke="none"/>
<path d="M546.6,451 C546.60,465.83 546.78,523.90 546.6,540 C546.42,556.10 546.48,544.77 545.5,547.6 C544.52,550.43 542.28,553.82 540.7,557 C539.12,560.18 537.27,563.98 536,566.7 C534.73,569.42 535.17,571.57 533.1,573.3 C531.03,575.03 526.78,575.98 523.6,577.1 C520.42,578.22 517.18,579.20 514,580 C510.82,580.80 507.67,581.27 504.5,581.9 C501.33,582.53 497.78,583.07 495,583.8 C492.22,584.53 492.18,585.40 487.8,586.3 C483.42,587.20 473.67,588.62 468.7,589.2 C463.73,589.78 456.70,589.23 458,589.8 C459.30,590.37 470.33,591.70 476.5,592.6 C482.67,593.50 488.75,594.13 495,595.2 C501.25,596.27 507.65,597.88 514,599 C520.35,600.12 528.33,600.62 533.1,601.9 C537.87,603.18 540.38,604.02 542.6,606.7 C544.82,609.38 545.73,608.45 546.4,618 C547.07,627.55 546.57,656.33 546.6,664" fill="none" stroke="#3a6bbb" stroke-width="1.3" stroke-linejoin="round"/>
</g>
<rect x="52.0" y="2.2" width="495.0" height="213.4" class="fr"/>
<line x1="47.5" y1="186.30" x2="52.0" y2="186.30" class="tk"/>
<text x="42.8" y="189.60" class="tl" text-anchor="end" >0</text>
<line x1="547.0" y1="186.30" x2="551.5" y2="186.30" class="tk"/>
<text x="556.2" y="189.60" class="tl" >0</text>
<line x1="47.5" y1="156.70" x2="52.0" y2="156.70" class="tk"/>
<text x="42.8" y="160.00" class="tl" text-anchor="end" >20</text>
<line x1="547.0" y1="156.70" x2="551.5" y2="156.70" class="tk"/>
<text x="556.2" y="160.00" class="tl" >20</text>
<line x1="47.5" y1="127.10" x2="52.0" y2="127.10" class="tk"/>
<text x="42.8" y="130.40" class="tl" text-anchor="end" >40</text>
<line x1="547.0" y1="127.10" x2="551.5" y2="127.10" class="tk"/>
<text x="556.2" y="130.40" class="tl" >40</text>
<line x1="47.5" y1="97.50" x2="52.0" y2="97.50" class="tk"/>
<text x="42.8" y="100.80" class="tl" text-anchor="end" >60</text>
<line x1="547.0" y1="97.50" x2="551.5" y2="97.50" class="tk"/>
<text x="556.2" y="100.80" class="tl" >60</text>
<line x1="47.5" y1="67.90" x2="52.0" y2="67.90" class="tk"/>
<text x="42.8" y="71.20" class="tl" text-anchor="end" >80</text>
<line x1="547.0" y1="67.90" x2="551.5" y2="67.90" class="tk"/>
<text x="556.2" y="71.20" class="tl" >80</text>
<line x1="47.5" y1="38.30" x2="52.0" y2="38.30" class="tk"/>
<text x="42.8" y="41.60" class="tl" text-anchor="end" >100</text>
<line x1="547.0" y1="38.30" x2="551.5" y2="38.30" class="tk"/>
<text x="556.2" y="41.60" class="tl" >100</text>
<line x1="47.5" y1="8.70" x2="52.0" y2="8.70" class="tk"/>
<text x="42.8" y="12.00" class="tl" text-anchor="end" >120</text>
<line x1="547.0" y1="8.70" x2="551.5" y2="8.70" class="tk"/>
<text x="556.2" y="12.00" class="tl" >120</text>
<text x="53.8" y="11.7" class="pl">a</text>
<rect x="52.0" y="226.6" width="495.0" height="213.20000000000002" class="fr"/>
<line x1="47.5" y1="406.50" x2="52.0" y2="406.50" class="tk"/>
<text x="42.8" y="409.80" class="tl" text-anchor="end" >1840</text>
<line x1="47.5" y1="369.60" x2="52.0" y2="369.60" class="tk"/>
<text x="42.8" y="372.90" class="tl" text-anchor="end" >1860</text>
<line x1="47.5" y1="332.70" x2="52.0" y2="332.70" class="tk"/>
<text x="42.8" y="336.00" class="tl" text-anchor="end" >1880</text>
<line x1="47.5" y1="295.80" x2="52.0" y2="295.80" class="tk"/>
<text x="42.8" y="299.10" class="tl" text-anchor="end" >1900</text>
<line x1="47.5" y1="258.90" x2="52.0" y2="258.90" class="tk"/>
<text x="42.8" y="262.20" class="tl" text-anchor="end" >1920</text>
<text x="53.8" y="236.1" class="pl">b</text>
<rect x="52.0" y="450.8" width="495.0" height="212.99999999999994" class="fr"/>
<line x1="47.5" y1="664.20" x2="52.0" y2="664.20" class="tk"/>
<text x="42.8" y="667.50" class="tl" text-anchor="end" textLength="16.9" lengthAdjust="spacingAndGlyphs">−10</text>
<line x1="547.0" y1="664.20" x2="551.5" y2="664.20" class="tk"/>
<text x="556.2" y="667.50" class="tl" textLength="16.9" lengthAdjust="spacingAndGlyphs">−10</text>
<line x1="47.5" y1="628.60" x2="52.0" y2="628.60" class="tk"/>
<text x="42.8" y="631.90" class="tl" text-anchor="end" textLength="11.7" lengthAdjust="spacingAndGlyphs">−5</text>
<line x1="547.0" y1="628.60" x2="551.5" y2="628.60" class="tk"/>
<text x="556.2" y="631.90" class="tl" textLength="11.7" lengthAdjust="spacingAndGlyphs">−5</text>
<line x1="47.5" y1="593.00" x2="52.0" y2="593.00" class="tk"/>
<text x="42.8" y="596.30" class="tl" text-anchor="end" >0</text>
<line x1="547.0" y1="593.00" x2="551.5" y2="593.00" class="tk"/>
<text x="556.2" y="596.30" class="tl" >0</text>
<line x1="47.5" y1="557.40" x2="52.0" y2="557.40" class="tk"/>
<text x="42.8" y="560.70" class="tl" text-anchor="end" >5</text>
<line x1="547.0" y1="557.40" x2="551.5" y2="557.40" class="tk"/>
<text x="556.2" y="560.70" class="tl" >5</text>
<line x1="47.5" y1="521.80" x2="52.0" y2="521.80" class="tk"/>
<text x="42.8" y="525.10" class="tl" text-anchor="end" >10</text>
<line x1="547.0" y1="521.80" x2="551.5" y2="521.80" class="tk"/>
<text x="556.2" y="525.10" class="tl" >10</text>
<line x1="47.5" y1="486.20" x2="52.0" y2="486.20" class="tk"/>
<text x="42.8" y="489.50" class="tl" text-anchor="end" >15</text>
<line x1="547.0" y1="486.20" x2="551.5" y2="486.20" class="tk"/>
<text x="556.2" y="489.50" class="tl" >15</text>
<line x1="47.5" y1="450.60" x2="52.0" y2="450.60" class="tk"/>
<text x="42.8" y="453.90" class="tl" text-anchor="end" >20</text>
<line x1="547.0" y1="450.60" x2="551.5" y2="450.60" class="tk"/>
<text x="556.2" y="453.90" class="tl" >20</text>
<text x="53.8" y="460.3" class="pl">c</text>
<rect x="393.9" y="382.7" width="148.3" height="52.4" rx="2" ry="2" fill="#fff" fill-opacity="0.85" stroke="#d4d4d4" stroke-width="0.9"/>
<circle cx="406" cy="390.3" r="2.95" fill="#fff" stroke="#3a6bbb" stroke-width="1.3"/>
<circle cx="406" cy="402.8" r="3.95" fill="#4677c0" stroke="#2c5db0" stroke-width="0.9"/>
<circle cx="406" cy="415.3" r="2.95" fill="#fff" stroke="#df1f1f" stroke-width="1.3"/>
<circle cx="406" cy="427.9" r="3.95" fill="#d8352e" stroke="#de1a1a" stroke-width="0.9"/>
<text x="421.7" y="392.80" class="lg" textLength="80.8" lengthAdjust="spacingAndGlyphs">Original, data-poor</text>
<text x="421.7" y="405.30" class="lg" textLength="77.5" lengthAdjust="spacingAndGlyphs">Original, data-rich</text>
<text x="421.7" y="417.80" class="lg" textLength="117.2" lengthAdjust="spacingAndGlyphs">With predictions, data-poor</text>
<text x="421.7" y="430.40" class="lg" textLength="113.4" lengthAdjust="spacingAndGlyphs">With predictions, data-rich</text>
<line x1="70.40" y1="663.8" x2="70.40" y2="668.3" class="tk"/>
<text x="70.40" y="680.3" class="ml" text-anchor="middle">Jan-19</text>
<line x1="109.06" y1="663.8" x2="109.06" y2="668.3" class="tk"/>
<text x="109.06" y="680.3" class="ml" text-anchor="middle">Feb-19</text>
<line x1="143.98" y1="663.8" x2="143.98" y2="668.3" class="tk"/>
<text x="143.98" y="680.3" class="ml" text-anchor="middle">Mar-19</text>
<line x1="182.65" y1="663.8" x2="182.65" y2="668.3" class="tk"/>
<text x="182.65" y="680.3" class="ml" text-anchor="middle">Apr-19</text>
<line x1="220.06" y1="663.8" x2="220.06" y2="668.3" class="tk"/>
<text x="220.06" y="680.3" class="ml" text-anchor="middle">May-19</text>
<line x1="258.73" y1="663.8" x2="258.73" y2="668.3" class="tk"/>
<text x="258.73" y="680.3" class="ml" text-anchor="middle">Jun-19</text>
<line x1="296.14" y1="663.8" x2="296.14" y2="668.3" class="tk"/>
<text x="296.14" y="680.3" class="ml" text-anchor="middle">Jul-19</text>
<line x1="334.81" y1="663.8" x2="334.81" y2="668.3" class="tk"/>
<text x="334.81" y="680.3" class="ml" text-anchor="middle">Aug-19</text>
<line x1="373.47" y1="663.8" x2="373.47" y2="668.3" class="tk"/>
<text x="373.47" y="680.3" class="ml" text-anchor="middle">Sep-19</text>
<line x1="410.89" y1="663.8" x2="410.89" y2="668.3" class="tk"/>
<text x="410.89" y="680.3" class="ml" text-anchor="middle">Oct-19</text>
<line x1="449.55" y1="663.8" x2="449.55" y2="668.3" class="tk"/>
<text x="449.55" y="680.3" class="ml" text-anchor="middle">Nov-19</text>
<line x1="486.96" y1="663.8" x2="486.96" y2="668.3" class="tk"/>
<text x="486.96" y="680.3" class="ml" text-anchor="middle">Dec-19</text>
<line x1="525.63" y1="663.8" x2="525.63" y2="668.3" class="tk"/>
<text x="525.63" y="680.3" class="ml" text-anchor="middle">Jan-20</text>
<text transform="translate(20.2,109.25) rotate(-90)" class="al" style="font-size:9.9px" text-anchor="middle" textLength="141.4" lengthAdjust="spacingAndGlyphs">% Pixel coverage of study region</text>
<text transform="translate(13.8,333.3) rotate(-90)" class="al" style="font-size:9.8px" text-anchor="middle" textLength="143.1" lengthAdjust="spacingAndGlyphs">Median CH<tspan font-size="6.2px" dy="1.9">4</tspan><tspan dy="-1.9"> concentration [ppbv]</tspan></text>
<text transform="translate(9.2,557.4) rotate(-90)" class="al" style="font-size:9.7px" text-anchor="middle" textLength="133" lengthAdjust="spacingAndGlyphs">Observed methane load above</text>
<text transform="translate(18.2,557.85) rotate(-90)" class="al" style="font-size:9.7px" text-anchor="middle" textLength="131.7" lengthAdjust="spacingAndGlyphs">NOAA background [kilotonnes]</text>
</svg></body></html>
